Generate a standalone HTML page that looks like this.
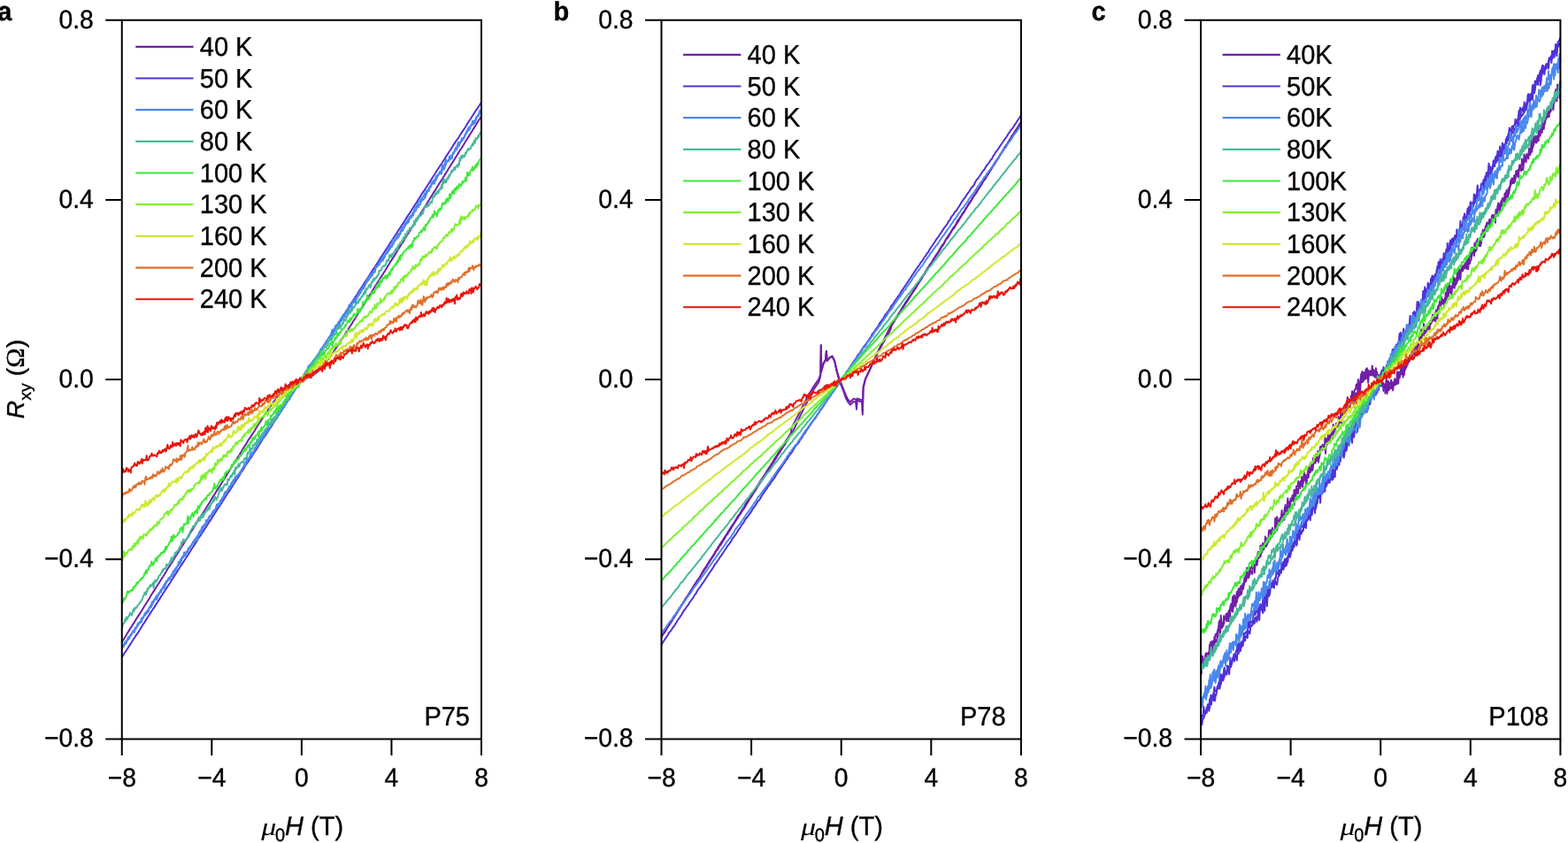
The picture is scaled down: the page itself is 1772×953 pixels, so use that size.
<!DOCTYPE html>
<html><head><meta charset="utf-8"><style>
html,body{margin:0;padding:0;background:#fff;}
svg{display:block;}
text{font-family:"Liberation Sans",Arial,sans-serif;fill:#000;stroke:#000;stroke-width:0.35px;text-rendering:geometricPrecision;}
</style></head><body>
<svg width="1772" height="953" viewBox="0 0 1772 953">
<rect width="1772" height="953" fill="#fff"/>
<g fill="none" stroke-width="2" stroke-linejoin="round">
<path stroke="#7020a8" d="M137.8 725.8l 2-3.1 2-3.3 2-3.3 2-3.2 2-3.2 2-3.1 2-3 2-3.5 2.1-3.2 2-3 2-3.2 2-3.3 2-3.3 2-3.1 2-3.1 2-3.5 2-3.1 2.1-3.4 2-3.1 2-3.3 2-2.9 2-3.4 2-3 2-3.2 2-3.2 2-3.6 2.1-2.9 2-3.1 2-3.2 2-3.5 2-3 2-3.3 2-3.2 2-3 2-3.4 2.1-3.1 2-3.1 2-3.4 2-3.2 2-3.1 2-3.3 2-3.4 2-3 2-3 2.1-3.6 2-2.9 2-3.3 2-3.3 2-2.9 2-3.4 2-3.5 2-3 2-3.2 2.1-3.3 2-3.1 2-3.3 2-3.1 2-3.1 2-3.5 2-3.1 2-3.4 2-3.1 2.1-3.4 2-3.1 2-3.2 2-3 2-3.2 2-3.6 2-3.1 2-3 2-3.6 2.1-2.9 2-3.2 2-2.9 2-3.3 2-3.3 2-3.1 2-3.1 2-2.9 2-3.3 2.1-3 2-2.9 2-3.1 2-2.9 2-2.9 2-2.6 2-2.8 2-2.3 2-2.5 2.1-2.4 2-2 2-2.1 2-1.6 2-1.7 2-1.3 2-1.4 2-.7 2-1.1 2.1-.6 2-.3 2-.5 2-.3 2-.3 2-1.1 2-.7 2-.8 2-1.1 2.1-1.4 2-1.6 2-1.6 2-2 2-2.4 2-2.1 2-2.4 2-2.7 2-2.5 2.1-2.9 2-2.6 2-3 2-3 2-3.1 2-2.9 2-3.4 2-3 2-2.9 2.1-3.5 2-2.7 2-3.5 2-2.8 2-3.5 2-2.9 2-3.3 2-3.4 2-2.8 2.1-3.2 2-3.5 2-3.2 2-3.2 2-3.4 2-2.9 2-3.4 2-3.2 2-3.3 2.1-3.2 2-3.3 2-2.8 2-3.5 2-3 2-3.4 2-3.3 2-3.2 2-3.2 2.1-3.2 2-3.2 2-3.3 2-3.4 2-3.1 2-2.8 2-3.6 2-3.3 2-3 2.1-3.1 2-3.7 2-3 2-3.3 2-3.4 2-2.8 2-3.4 2-3.2 2-3.3 2.1-3.1 2-3.4 2-3.2 2-3.3 2-3.3 2-2.8 2-3.5 2-3.1 2-3.3 2.1-3.3 2-3.2 2-3.1 2-3.4 2-3.2 2-3.2 2-3 2-3.3 2-3.3 2.1-3.4 2-3.3 2-2.9 2-3.2 2-3.4 2-3.2 2-3.2 2-3.2 2-3.2 2.1-3.4 2-3 2-3.6 2-2.9 2-3.3"/>
<path stroke="#5030d8" d="M137.8 743.0l 2-3.3 2-2.9 2-3 2-3.2 2-3.1 2-3.2 2-3 2-3.1 2.1-2.9 2-3.1 2-3.4 2-3.2 2-3 2-3.2 2-3.1 2-3.1 2-3.2 2.1-2.9 2-3.2 2-3.1 2-3.2 2-3.2 2-3.1 2-3 2-3.2 2-3 2.1-3.1 2-3.4 2-2.9 2-3.3 2-3 2-3.1 2-3.4 2-2.8 2-3.1 2.1-3.2 2-3.2 2-3.1 2-3.2 2-3 2-3.2 2-3 2-3.3 2-2.9 2.1-3.1 2-3.2 2-3.1 2-3 2-3.4 2-2.8 2-3.2 2-3.1 2-3.1 2.1-3.3 2-3 2-3 2-3.1 2-3.2 2-3.3 2-2.8 2-3.1 2-3.1 2.1-3.2 2-3.4 2-2.7 2-3.3 2-3.4 2-2.7 2-3.4 2-3.1 2-2.9 2.1-2.9 2-3.3 2-3 2-2.9 2-3.1 2-3.3 2-3.2 2-3.2 2-3 2.1-2.9 2-3.1 2-3.2 2-2.9 2-3.4 2-3 2-3 2-3.1 2-3 2.1-3.2 2-3.2 2-3 2-3.2 2-3.2 2-2.8 2-3.2 2-3 2-3.4 2.1-2.9 2-3.1 2-3.1 2-3.3 2-2.8 2-2.9 2-3.2 2-3.2 2-3 2.1-3 2-3.6 2-2.7 2-3 2-3.1 2-2.9 2-3.2 2-3.2 2-3.1 2.1-3 2-3.3 2-3.1 2-2.9 2-3 2-3.4 2-3.1 2-3 2-3 2.1-3.3 2-2.9 2-3.4 2-3 2-3.1 2-2.9 2-3.1 2-3.5 2-3 2.1-2.9 2-3.3 2-3.2 2-2.8 2-3.2 2-3.1 2-3.3 2-2.8 2-3.3 2.1-2.9 2-3.5 2-3.1 2-2.9 2-3.3 2-2.9 2-3.2 2-3.2 2-3 2.1-3.2 2-2.9 2-3.4 2-3 2-2.9 2-3 2-3.1 2-3.4 2-3.1 2.1-2.9 2-3.4 2-3.2 2-3 2-3 2-3.3 2-3.3 2-3.1 2-2.8 2.1-3.3 2-3 2-3.1 2-3.1 2-3.2 2-3 2-3.3 2-3 2-3.2 2.1-2.8 2-3.3 2-3.2 2-3.1 2-3.1 2-2.9 2-3.5 2-3 2-3 2.1-2.7 2-3.4 2-3.2 2-3 2-2.9 2-3.5 2-3.1 2-2.9 2-3.2 2.1-3.1 2-3.3 2-2.7 2-3.2 2-3.3"/>
<path stroke="#4a88ee" d="M137.8 734.2l 1-3.2 1 0 1-3.8 1 1 1-2.7 1-1.5 1-.9 1-.9 1-3.3 1 0 1-2.4 1-2.4 1-.4 1 1.1 1-4.3 1 .3 1-3.6 1 .2 1-2 1-1.1 1-.8 1-.2 1-3 1-1.6 1-2.7 1 .1 1-2.2 1-.2 1-2.3 1 .5 1-5.4 1 .2 1.1-.3 1-2.8 1-2 1-1.3 1-2.9 1-.1 1 .7 1-2.9 1-3.7 1-1.2 1-.8 1 .2 1-3.2 1-1.2 1 .2 1-1.5 1-2.8 1-2.3 1-1.9 1-.6 1-3.1 1 1.6 1-2.8 1-.2 1 0 1-2.2 1-4 1 .3 1-1.4 1-3.6 1-1.6 1-.6 1.1-3.1 1 1.5 1-5.8 1-.5 1-.7 1-1.5 1-1 1-1.3 1-1.9 1 0 1-5 1 .7 1-2.4 1-.8 1-1.5 1-2.6 1 .6 1-1.7 1-1.9 1-2.5 1 3.4 1-3.1 1-5.4 1 .3 1 .7 1-3.4 1-2.2 1-1.8 1-1.7 1-1 1-1.8 1-2.5 1-.6 1.1-1.8 1-2.4 1-.3 1-2.4 1-.8 1-.3 1-2.4 1-1.6 1-1.8 1-1.9 1-1.6 1 .4 1-2 1-3.2 1 1.1 1-3 1-2.6 1-1.4 1-1.9 1-.6 1-2.4 1 .7 1-3.3 1-2.8 1 2.1 1-4.6 1 .5 1-.4 1-2 1-3.7 1-1.2 1 .8 1.1-3.2 1-1.9 1-.3 1 .1 1-2.6 1-2.8 1-1.5 1-1.4 1-3 1-2.1 1-.3 1-4.7 1 1.6 1-1.3 1 .8 1-4.7 1-.6 1 .8 1-2.9 1-.7 1-3.1 1-1.9 1-2.4 1-.6 1 0 1-2 1-2.5 1-.7 1 .7 1-2.8 1-2.7 1-1.3 1-5.6 1.1 1.3 1 1.2 1-5.5 1 .5 1-.6 1-2 1-1.8 1-.6 1-1.4 1-1.5 1-3.4 1 .2 1-2.4 1-1.4 1-.8 1-1.2 1-1.2 1-2.9 1 0 1-1.2 1-1.6 1-1.3 1-3.2 1-1.5 1-.4 1-3.8 1 .2 1-2.4 1-1.6 1-3.1 1-.6 1-.6 1.1-.5 1-1.4 1-2.8 1-1.8 1-2.3 1-.3 1-1.9 1-.4 1-.1 1-3.4 1-3.1 1-.9 1-2.1 1-1.3 1 1.1 1-2.7 1-3.4 1-1.6 1-1 1-.9 1-2 1-1.3 1-1 1-1.1 1-.9 1-1.4 1-1.4 1 1.2 1-4.5 1-3.6 1 .1 1-1 1.1-2.2 1 1.7 1-4.9 1-2.2 1 .8 1-2.6 1-2.2 1-1 1-1.5 1-2.4 1-4.3 1 .6 1-1.1 1-1.8 1-2.6 1 3.9 1-5.3 1-2.3 1 1.6 1-4.1 1-2.3 1 .1 1-2.9 1-.9 1 .2 1-2.6 1-1.7 1-.3 1-1 1-5.4 1 1.3 1-2.1 1 1.6 1.1-5 1 .9 1-2.8 1 .6 1-2.5 1-1.3 1-3.1 1-.6 1-2.6 1-1.6 1-.6 1-1.5 1-.5 1-2.3 1-.5 1-2.7 1-3.2 1-.9 1-1.5 1-1.9 1 1.5 1-4 1 .8 1-2.2 1-.3 1-2.2 1-4.6 1 .5 1-1.2 1-1.3 1-2.2 1-1 1.1 .2 1-4.8 1 .7 1-2.6 1-.5 1-1.1 1-2.8 1-.9 1-4 1 1.2 1-3.3 1-.3 1-.2 1-6.3 1 .5 1-.4 1 0 1-2.8 1 .9 1-5.6 1 1.5 1-.9 1-3.2 1-1.6 1-3 1 .9 1 .4 1-6 1 1.6 1-2.1 1-3 1 1 1.1-4.2 1-.5 1-1.2 1-1 1-2.2 1-1.7 1-2.9 1-2.2 1-.2 1-2.4 1-1.9 1-1.1 1-.3 1-2.6 1-.9 1-1.9 1 .1 1-3.7 1 2.1 1-5.3 1 1.5 1-2.1 1-2.5 1-1.5 1 .8 1-3.5 1-2.3 1-1.6 1 .1 1-1.6 1-3.2 1-1.1 1 .3 1.1-1.4 1-2.7 1-.3 1-1.7 1-5.8 1 4 1-4.7 1-.7 1-5.2 1 2.8 1-.4 1-.5 1-5.3 1 3.6 1-3.8 1-1 1-1.3 1-1.8 1-2.5 1-2.9 1 .3 1-2.9 1-3.4 1 4 1-3.9 1-.6 1-4.4 1 1 1-1.1 1-1.2 1-2.8 1-2.6 1.1-.5 1-3.8 1-1.1 1 .3 1-2.5 1-.5 1-1.2 1 .7 1-2.1 1-2.9 1-.2 1-3.6 1-1 1-.2 1-5.9 1 3.5 1-4.5"/>
<path stroke="#4a88ee" d="M137.8 730.9l 1-1.7 1-.1 1-2.4 1-1.7 1 1.7 1-2.7 1-3.8 1 2.1 1-3.3 1-1.7 1-.3 1-2.3 1-2 1 1.6 1-4.7 1-.5 1-.6 1-3.6 1-.7 1-1.1 1 .6 1-4.7 1-.5 1-.6 1-2 1-2.8 1 .1 1-2 1-1.2 1-.8 1-1.7 1-2.3 1.1-1.7 1-3.1 1-.6 1-1.1 1-2 1-1 1-2.5 1 .9 1-.8 1-1.6 1-3 1-2.1 1 0 1-2.5 1-1.9 1-1.9 1-1 1-2.5 1 .5 1-2.8 1 0 1-1.8 1-.5 1-2.7 1-.5 1-3.6 1 0 1-2.3 1-1 1-1.6 1-.6 1-4.7 1.1 .8 1-3.5 1 1.3 1-4.7 1 1.2 1-5.7 1 3.9 1-4.5 1 .1 1-2 1-.5 1-2.1 1-.6 1-2.6 1-.5 1-3 1-1.2 1-1.9 1-.7 1 .2 1-3.1 1-1.6 1-2.4 1-1.9 1 .5 1-4.4 1-1.4 1-.5 1-1.6 1 1.1 1-6.1 1 2.9 1-3.1 1.1-3.5 1-1 1-.1 1 0 1-3.9 1-2 1 1.1 1-1 1-3.6 1-3.5 1 2.4 1-3.1 1 1.7 1-4.3 1-1.8 1-1.7 1 .3 1-3.4 1-3.7 1-.3 1 1.4 1-3.7 1-.9 1-1.8 1-1.8 1-1.8 1-2.2 1-1.6 1-1.7 1-.6 1-2.5 1-.5 1.1-.9 1 .2 1-2.3 1-2 1-.9 1-1.8 1-.9 1-2.2 1-.1 1-1.8 1-.8 1-4.1 1-.3 1-2.1 1-2.4 1-3.1 1-1.8 1 .8 1-.9 1-1.3 1-3.8 1 .9 1-3.3 1 .9 1-3 1-2.7 1-1.3 1-3 1 1.9 1-4.4 1 .9 1-1.9 1-.6 1.1-2.1 1-2.5 1-.4 1-2.3 1 1.6 1-4.1 1-3 1-.6 1-1.5 1-2 1-.2 1-.5 1-3.4 1-1.2 1-3.3 1 .8 1-1.9 1-3.4 1 1 1-1.1 1-2.7 1-1 1-1.9 1 .4 1-4 1-.3 1 .9 1-3.5 1-.9 1-2.2 1-2.6 1-.5 1.1-1.1 1-2.9 1 0 1-.4 1-1.5 1-2.6 1-4.4 1-.5 1 1.2 1-2 1-1.6 1-3.3 1-2 1-.5 1-1.6 1-4.7 1 1.8 1-.9 1 .1 1-4.8 1-.2 1-1.6 1-.7 1-1.7 1-1.7 1-2 1-.2 1-2.5 1-1.4 1-2.5 1-1.1 1-.6 1.1-2.9 1-1.9 1-.6 1 0 1-2.6 1-1.7 1 .9 1-3.7 1-2.4 1-.4 1 .6 1-2.7 1-1.2 1-1.7 1-2.4 1-1.9 1-1.2 1-.9 1-1.6 1-1.2 1-1.8 1-.6 1-2.6 1-1.9 1 .7 1-4.7 1 .4 1 1 1-4.6 1-2.4 1-.3 1-.1 1-3 1.1-2.3 1-.4 1-1.9 1 2.5 1-4.4 1-1.9 1-1.5 1-.8 1-1.9 1-1.3 1-2.2 1-2.9 1 .8 1-2.2 1-1.4 1-2.9 1-.8 1-1.7 1-.9 1-3 1 .1 1-1.3 1-.8 1-2.7 1-1.6 1 .5 1-5 1-.7 1-1.5 1-.6 1-.5 1-3.3 1.1-2.9 1-.2 1 1.6 1-2.5 1-1.3 1-4.1 1-1.2 1 .8 1-2.5 1-1.4 1-.7 1-3 1 .5 1-2.5 1-1.3 1-2.9 1-.4 1-2.7 1 .4 1-1.2 1-1.5 1-1.8 1-1.3 1-4.9 1 2.1 1-2.7 1-3.2 1 .5 1-2.5 1-.6 1-2.7 1 1.3 1.1-4 1-2.1 1 .8 1-3.9 1 1.7 1-3.4 1-2.4 1 .4 1-2.7 1-3.1 1 1.6 1-3.3 1 .5 1-3.3 1-2.6 1 .6 1-1.3 1-.6 1-2.2 1-2.8 1-2.5 1-1.8 1 .9 1-4.4 1-1 1-3.9 1 1.3 1-1.5 1 1.3 1-3.3 1-1 1-2.2 1-3.4 1.1-.8 1-2.7 1 2.1 1 .1 1-5.6 1-.4 1 1.2 1-3.7 1-1.7 1-4.4 1 .2 1-.8 1-.6 1-3.2 1-1.8 1 3.3 1-6.1 1 .4 1-2.5 1-.9 1-.6 1-2.7 1-1.4 1-3.3 1-1.4 1-.3 1-.7 1-1.8 1-.6 1-3.6 1-1.6 1-.6 1.1-4.1 1 .3 1-.1 1-1.8 1-3.8 1 .1 1-5.2 1 3.1 1-3.6 1 2.4 1-5.8 1-.4 1-2.1 1-1.4 1-2.3 1-.3 1-3.5"/>
<path stroke="#48b89a" d="M137.8 711.3l .7-4.2 .7-2 .7-.7 .7-.1 .7-4 .7 1.6 .8-4.2 .7 2.7 .7-2.2 .7-.3 .7-2 .7-.5 .8-2.6 .7 1.6 .7 .9 .7 .1 .7-3.6 .7-2.8 .8 2.1 .7-3.8 .7 1.1 .7-1.8 .7 .3 .7-.6 .8-2.1 .7-.5 .7-.5 .7-1.5 .7-1.3 .7 .1 .8-2.3 .7-.6 .7-2.1 .7-2.3 .7-.1 .7-3.4 .8 2 .7 .5 .7-4.7 .7 1.3 .7-4 .7 .6 .8-.3 .7-3.3 .7-.4 .7 1.5 .7-1.1 .7-1.2 .8-1.8 .7 5.9 .7-6.8 .7-1.8 .7 2.4 .7-2.4 .8 .7 .7-2 .7-.6 .7-2.3 .7-1.5 .7-.1 .8-.9 .7-2 .7-.1 .7-3.1 .7 1.4 .7-2.6 .8-.3 .7 0 .7 .3 .7-4.8 .7-.1 .7 1.4 .8-1.2 .7-.3 .7-.8 .7-2.9 .7 1.9 .7-5.6 .8 1.6 .7 1.1 .7-4.1 .7 .6 .7-2.1 .7-3.1 .8 1.8 .7-2 .7-.9 .7-1.3 .7 .6 .7-2.1 .8-2.6 .7 .6 .7-.8 .7-5.2 .7 1.6 .7-1.1 .7-3.5 .8 2.3 .7-.1 .7-1.9 .7 .2 .7-1.1 .7-.8 .8-.8 .7-3.3 .7 2.3 .7-3.9 .7-1.8 .7-1.6 .8-1.3 .7-.7 .7-2.3 .7 1.3 .7-1.6 .7-.7 .8-2.6 .7 1.5 .7-2.7 .7-.3 .7-2.9 .7-1.6 .8-.4 .7 3.9 .7-5.2 .7 2.3 .7-1.3 .7-4.3 .8 4.6 .7-2.8 .7-.2 .7-2.1 .7-.5 .7-2.8 .8 .6 .7 .3 .7-4.4 .7-.9 .7 3.7 .7-2.8 .8-2.2 .7-1.9 .7 0 .7-1.5 .7-3.3 .7 3.2 .8-3.9 .7-2 .7 2.5 .7 1.3 .7-2.5 .7-.3 .8-3 .7-2 .7-2.8 .7 .7 .7-3.8 .7 1.6 .8 1.7 .7-2.4 .7-2.5 .7 0 .7-2.2 .7 .3 .8-.9 .7 1.1 .7 0 .7-6.8 .7 1.7 .7-.7 .8-1.2 .7-2.2 .7-1.8 .7 1.8 .7-1.1 .7-3.2 .8 .3 .7-3.2 .7 4.9 .7-8.4 .7 2.3 .7-1.2 .8-1.3 .7-1.7 .7-2 .7 3.4 .7-3 .7-.9 .8-.9 .7-1.1 .7 .2 .7 .9 .7-1.2 .7-3.4 .7 .8 .8-1.6 .7-.3 .7 0 .7-5.4 .7 1.4 .7-1.6 .8-1 .7-3.3 .7 2.4 .7-3 .7-.2 .7 1.2 .8-5 .7 .7 .7 .1 .7-2.6 .7-.2 .7 1.7 .8-5.8 .7 3.4 .7 .1 .7-3.2 .7-3.1 .7-.2 .8-1 .7-.4 .7-1.7 .7-1.4 .7 2.2 .7-3.2 .8-1.5 .7-.9 .7-1 .7 1 .7-2.3 .7-.2 .8-6.6 .7 3.4 .7 .1 .7 .2 .7-3.4 .7-3.1 .8 4.3 .7-4.7 .7-.4 .7-1.7 .7 3.9 .7-3.5 .8-1.7 .7-3.2 .7 6 .7-8 .7-1.9 .7-.3 .8 4.8 .7-6.4 .7 1.4 .7-4.4 .7 .8 .7-.9 .8-4 .7 2.6 .7-1.2 .7-2.7 .7-.4 .7-.5 .8 .8 .7-2.4 .7 .4 .7-3.6 .7-2.4 .7-2.7 .8 2.5 .7-1.5 .7-.5 .7 0 .7-1.3 .7-1 .8-.4 .7-1.6 .7-1.3 .7-.4 .7-4 .7 2.7 .8-4.4 .7 1.7 .7-2.1 .7 .5 .7-2.3 .7-2.3 .7 1.7 .8-2.2 .7-1 .7-1.1 .7 .2 .7-1.2 .7-1.7 .8-3.2 .7 .5 .7-.3 .7-1.3 .7-.1 .7-1.6 .8 .9 .7-2.6 .7-3.4 .7 1.9 .7-3.3 .7 2.1 .8-1.8 .7-4.4 .7 .1 .7 .7 .7 .5 .7-3.7 .8-1.5 .7 1 .7-3.4 .7-1.7 .7 1.4 .7-1.1 .8-.3 .7-1.3 .7 .2 .7-4.3 .7 1.3 .7-.7 .8 .6 .7-.6 .7-.9 .7-1.3 .7-6.2 .7 2 .8-.2 .7-.4 .7-3.4 .7 3 .7-2.3 .7-2.1 .8 0 .7-1.6 .7 .4 .7-1.5 .7 .2 .7-5.1 .8-2.6 .7 2.1 .7-2.3 .7 2.2 .7-4 .7 2.7 .8-1.9 .7-1.3 .7-1.6 .7 .4 .7-2.8 .7-2.3 .8 .7 .7 1.3 .7-5.6 .7 1.6 .7-1.8 .7-1.3 .8-1.4 .7-3.7 .7 3.5 .7-1.6 .7-3.1 .7 2.3 .8-4.7 .7 1.5 .7-1.6 .7 .2 .7-2.2 .7-.1 .8-2.3 .7 .4 .7-1.7 .7 1.6 .7-4.5 .7 1.7 .8-1.8 .7-1.1 .7-1.9 .7 .3 .7-1 .7-3.2 .7 1.6 .8-3.9 .7 2.8 .7-5.5 .7 1.7 .7-1.5 .7-.8 .8-2.1 .7-1.2 .7-.6 .7 3.3 .7-3.4 .7-3.4 .8 .9 .7-1.5 .7-2.8 .7 2.1 .7-.6 .7-2.6 .8 .5 .7-.4 .7-2.5 .7 .2 .7-1.9 .7-3.7 .8 .6 .7-1 .7 .1 .7-2.7 .7-.5 .7-1.6 .8 .2 .7-.7 .7 .3 .7-1.3 .7-1.9 .7-3.1 .8 .8 .7-1.2 .7 .8 .7-6.3 .7-.3 .7 2.3 .8 .3 .7-3.7 .7 1 .7-.3 .7-2.6 .7-.5 .8-1.4 .7-2 .7 1.5 .7-2.9 .7 2.5 .7-5.1 .8-.3 .7-.7 .7-2 .7 .7 .7 .1 .7-3.4 .8 .3 .7-3.7 .7 .6 .7 1.6 .7-5.8 .7 2.4 .8-1 .7-2.9 .7-2.2 .7-.3 .7 1.6 .7-4.6 .8 1.2 .7 .2 .7-1.9 .7-.9 .7-1.7 .7 .9 .8-5.4 .7 4.2 .7-3.6 .7-3.5 .7 2.9 .7-1.2 .8-4.2 .7 1.9 .7-3.2 .7-.3 .7 1 .7-.2 .7-2.4 .8-2 .7 2.1 .7-3.7 .7-2.3 .7-1 .7-2.8 .8 2.4 .7-1.1 .7 .4 .7-2 .7 1.3 .7-.9 .8-3.2 .7-.3 .7-.3 .7 1.2 .7-4.8 .7-2.5 .8 .4 .7 .5 .7-4.6 .7 1.7 .7 .1 .7-2.4 .8-1.8 .7 2.6 .7-1.7 .7-3.3 .7 1 .7-1.2 .8-4.1 .7 3.9 .7-8.4 .7 2.9 .7-5 .7 3.7 .8-2.8 .7 3.1 .7-2 .7-2.1 .7-1.7 .7 1.3 .8-4.2 .7 1.4 .7-2.6 .7-.3 .7-3.6 .7 1.7 .8-.9 .7-1.6 .7-2.7 .7 2.8 .7-1.5 .7-2.4 .8-.5 .7-1.1 .7 2.4 .7-3.8 .7 1.2 .7-7.5 .8 2.7 .7-4.6 .7-1 .7 2.7 .7-2.9 .7 .1 .8 1.6 .7-1.4 .7-3.4 .7 1 .7-2.1 .7-1.9 .8-1.6 .7 1.6 .7-1.2 .7-.5 .7 .3 .7-3.1 .8-1 .7-1.6 .7 2.1 .7-4.2 .7-1.5 .7 2.8 .8-5.8 .7 1.9 .7-.7 .7-1.4 .7-2.5 .7 1.8 .8-3.3 .7-1.9 .7 .2 .7-1.5"/>
<path stroke="#3ee83a" d="M137.8 678.7l .7 3.2 .7-3.1 .7-2.2 .7 1.8 .7-2.2 .7-.7 .8-1.1 .7-3.9 .7-2.3 .7 2.4 .7-.8 .7-1.4 .8 .4 .7-1.1 .7-.7 .7 .1 .7 .7 .7-4 .8 1 .7-2 .7-.9 .7 .6 .7-2.9 .7-1.2 .8 1.4 .7-1.7 .7-1.1 .7-.7 .7-.1 .7-2.1 .8 .5 .7-1.5 .7 .3 .7-1.4 .7-1.6 .7-2.5 .8-.7 .7-2.1 .7 3.5 .7-4.9 .7 .2 .7 .3 .8-4.2 .7 .1 .7 0 .7-1.6 .7-3.7 .7 2.8 .8 1.4 .7-1.7 .7-1.9 .7-.9 .7-3.2 .7 2.2 .8 1 .7-5 .7 .8 .7-1.3 .7-1.2 .7 .6 .8-2.5 .7-1.2 .7 1 .7-.9 .7-.9 .7 .8 .8-3.2 .7 2.4 .7-5.9 .7 3.1 .7-2 .7-1.3 .8-1.7 .7-.5 .7-2.3 .7-1.3 .7 .6 .7-5.8 .8 4.9 .7-.5 .7-6.8 .7 1.7 .7 1.7 .7-.7 .8-.9 .7-.3 .7-.5 .7-.7 .7-1.7 .7-1.3 .8 .1 .7-4.3 .7 .9 .7-2.4 .7 2.3 .7 3.4 .7-6.2 .8-3.1 .7 .8 .7-.5 .7-.6 .7 .3 .7-3 .8-6 .7 8.4 .7-5.4 .7-1.2 .7 1.4 .7-3.3 .8-.2 .7-3.2 .7 1.1 .7 3.1 .7-2.6 .7-2.8 .8-1 .7 2 .7-3.6 .7 4 .7-7.9 .7 1.7 .8 1.1 .7-3.1 .7-2 .7 .8 .7-2.3 .7-1.6 .8 .4 .7-1.1 .7-1.3 .7-.9 .7-.9 .7 1.7 .8-3.1 .7-1.6 .7-.4 .7 .5 .7-1.9 .7-.7 .8-.9 .7-.3 .7-.4 .7-.7 .7-3.4 .7 0 .8-5 .7 5.8 .7-.5 .7-.7 .7-2.5 .7 .3 .8-2.6 .7-1.1 .7-.9 .7-1.9 .7-.7 .7 1.1 .8 0 .7-3.6 .7 3.1 .7-1.3 .7-4.7 .7-2 .8 .4 .7-1.8 .7 .6 .7-.8 .7-1 .7-1 .8-.1 .7-.8 .7-.5 .7-4.2 .7 1.3 .7-.5 .8-2.5 .7-2 .7 2.1 .7-2.6 .7 1.1 .7-3 .8 .4 .7-.8 .7 .4 .7-1.7 .7-2.6 .7 .5 .8-.4 .7-1.3 .7-1 .7-3.2 .7 1 .7-1.9 .7-1.5 .8 2.5 .7-3.2 .7 .3 .7-3.1 .7 1.2 .7-2.3 .8 4 .7-6.2 .7-1 .7 1.4 .7-.7 .7-5 .8 2.2 .7 0 .7-3.5 .7 1.7 .7-2.3 .7-1.5 .8-.1 .7-1.1 .7-2.2 .7 6.4 .7-7.1 .7-1.2 .8 1.2 .7-4.6 .7 3.5 .7-2.9 .7-.1 .7-1.3 .8-.9 .7-1.5 .7-3.6 .7 4.2 .7-4 .7-.8 .8-.7 .7 .2 .7-1.1 .7-.4 .7-3.9 .7 1 .8-1.4 .7-1 .7-.1 .7-3.5 .7 2.2 .7-.9 .8-2.9 .7-1.7 .7 3.7 .7-3.5 .7-2.3 .7 3.6 .8-4.1 .7-.8 .7 0 .7 1.5 .7-1.4 .7-2.8 .8 1.2 .7-2.6 .7-1.9 .7 .3 .7-2.8 .7-3.8 .8 4.5 .7-4.9 .7 .2 .7-1.5 .7 1.2 .7 1.2 .8-3 .7-3 .7 1.9 .7-.7 .7-1.9 .7 .3 .8 .5 .7-5.1 .7 2.5 .7-2.6 .7 1.1 .7-.5 .8 1.4 .7-2.8 .7-1.5 .7-1.3 .7-2.1 .7 1.9 .7-3 .8 1.8 .7-1.5 .7-2.2 .7 .3 .7-4.7 .7 1 .8-2 .7-.7 .7-3.1 .7 2.7 .7-1.9 .7-2.3 .8-1.3 .7-.2 .7 2.2 .7-2.8 .7-1.1 .7 .2 .8-3.5 .7 1.2 .7-.3 .7-1.6 .7-.2 .7-3.5 .8 .8 .7-1.4 .7-.2 .7-1 .7-1.6 .7-2.8 .8 3.1 .7-2.7 .7-1.7 .7 3.9 .7-2.7 .7-2.4 .8-.3 .7-2.2 .7-.1 .7 .7 .7-1.3 .7-1.8 .8-1.5 .7-2.6 .7 1.6 .7-2.9 .7 5.2 .7-2.6 .8-3 .7-.2 .7-3.7 .7 1.9 .7-1.4 .7-.4 .8-4.6 .7 1.7 .7 .5 .7-3.6 .7 .9 .7-.3 .8-3.3 .7-1.4 .7 1.2 .7-1.3 .7-.3 .7-.8 .8-2.7 .7 .5 .7-2.5 .7-.5 .7-1 .7-2.1 .8 1.6 .7 .7 .7-4.9 .7 2.2 .7-.4 .7-2.5 .8-.4 .7-1.7 .7-2.3 .7 2 .7-.2 .7 1.3 .8-2.7 .7-1.5 .7-4.2 .7 4.5 .7-1 .7-3.2 .8 2.2 .7-2.7 .7-1.6 .7 1.1 .7-6.8 .7-.1 .7 1.8 .8-2.2 .7-1.8 .7 2.2 .7-2.1 .7-5.7 .7 2.7 .8 1.2 .7 .5 .7-2.5 .7-.7 .7-1.5 .7-2.5 .8 1.1 .7-2.8 .7 2.3 .7-.4 .7-2.5 .7-.9 .8-1.3 .7-4 .7 2.5 .7-3.7 .7 .1 .7 3.3 .8-8 .7 1.7 .7 1.2 .7-.6 .7-3.6 .7-1.1 .8 .9 .7-1.2 .7-2 .7 1 .7 2.1 .7-4 .8 3.1 .7-2.7 .7-1.4 .7-2.5 .7 3.4 .7-3.5 .8-3.4 .7 .3 .7 .7 .7-3.6 .7 .2 .7-.8 .8-1.2 .7-1.5 .7 .8 .7-4 .7 2 .7-2.1 .8-3 .7-2.1 .7 4.1 .7-5.4 .7-.1 .7 .8 .8-2.7 .7-.9 .7-1.2 .7-.9 .7-.1 .7-.2 .8-2 .7 0 .7-.3 .7-1.9 .7-.7 .7 2.9 .8-4.3 .7 1.7 .7-2.4 .7 3.2 .7-6.4 .7 .3 .8-4.2 .7 1.3 .7-.1 .7-2 .7 .1 .7-1.1 .8 .6 .7-2 .7-2.7 .7 .2 .7-.7 .7-2 .7 1.8 .8-2.1 .7-.3 .7-2.8 .7 2.5 .7 .6 .7-6.3 .8 1.3 .7-1.2 .7-1.7 .7-.1 .7-2.5 .7 .7 .8-2.9 .7-1 .7-.4 .7-.7 .7-2.8 .7 3.1 .8-3.1 .7-4.3 .7 3.6 .7 .5 .7-1.5 .7 3.6 .8-5.6 .7 .2 .7-2.9 .7 .7 .7 .8 .7-2.3 .8 .7 .7-6 .7 1 .7-2.2 .7 1.6 .7-1 .8 1.1 .7-4.9 .7 3 .7-4.6 .7 1 .7 2.4 .8-4 .7-4.1 .7 4.7 .7-2.2 .7-3.2 .7-2.2 .8 2.1 .7-3.8 .7 4.3 .7-6.1 .7 1.4 .7 .5 .8-3.8 .7-.4 .7 2.8 .7-3.1 .7-2.7 .7 .8 .8 2.1 .7-1.2 .7-1.7 .7-2.8 .7 1.4 .7 .2 .8-2.2 .7 .2 .7-3.9 .7 4.2 .7-3.7 .7-6.5 .8 3.9 .7-2.7 .7 2.7 .7-3.5 .7-2 .7-.8 .8-.9 .7-2.8 .7 4.5 .7-3.1 .7 1.1 .7-2.8 .8-1.7 .7 2.9 .7-4.7 .7 1.8 .7-3.1 .7-.6 .8-2.4 .7-.5 .7-.4 .7-1.2"/>
<path stroke="#80f030" d="M137.8 631.8l .7 1.1 .7-5.8 .7-3.9 .7 6.1 .7-1.1 .7-3.5 .8 1.6 .7-1.4 .7-.5 .7-2.1 .7-.2 .7-1.3 .8 .5 .7-1 .7 1.9 .7-1.9 .7-3.4 .7 1.8 .8 .5 .7-5.2 .7 3 .7-2.4 .7 0 .7-2.9 .8 3.3 .7-5.5 .7 2.6 .7-4.3 .7-1.5 .7 2.6 .8-1.6 .7-.4 .7 2.3 .7-3.7 .7-1.6 .7 .9 .8-.2 .7-.2 .7 1.4 .7-3.9 .7 .4 .7-.1 .8-2 .7-1.8 .7 .1 .7 1.3 .7-2.3 .7 .4 .8-2.2 .7 .9 .7-2.1 .7-.9 .7 .5 .7-.8 .8 1 .7-4.6 .7 1.9 .7 .6 .7-1.1 .7-2.9 .8-1.2 .7-.6 .7 .2 .7-.9 .7-.6 .7-.5 .8-2.9 .7-.9 .7-.9 .7-.8 .7 1 .7-2.4 .8 4.7 .7-2.9 .7-1.2 .7 1.2 .7-3.4 .7 .6 .8 0 .7-1 .7-1.3 .7-1.6 .7-1.9 .7 .7 .8-1.3 .7 1 .7-1.9 .7 .3 .7-3.5 .7 2.5 .8-3 .7-1.5 .7-.5 .7 .2 .7 1.5 .7-1.2 .7-3.1 .8 .9 .7-1 .7-2.6 .7 0 .7-2.1 .7 .7 .8-3.1 .7 1.5 .7-1 .7 2.1 .7-3.3 .7 1.9 .8-2.4 .7 .2 .7 .1 .7-.6 .7-3.8 .7 .3 .8-1.5 .7-.6 .7-.4 .7-.1 .7-.8 .7 .7 .8-2.2 .7 1.6 .7-1.8 .7-5.2 .7 3.3 .7-5.5 .8 4.6 .7-2 .7-.7 .7-3.4 .7 6.5 .7-6.3 .8-.7 .7 .8 .7-2.3 .7-1.3 .7 1.5 .7-2.5 .8 2 .7-1.1 .7 3.2 .7-5.7 .7 2.4 .7-2 .8 1.2 .7-7.1 .7 2.6 .7-.1 .7-.9 .7-5.3 .8 3.3 .7-.6 .7-2.5 .7-1.1 .7-.1 .7 2.3 .8-2.3 .7-1.6 .7-2.4 .7 1.8 .7-.7 .7-1.7 .8 1.3 .7 .8 .7-3.5 .7-2.6 .7 1.6 .7-1.7 .8-.2 .7 1.3 .7-3.4 .7 2.4 .7-2.1 .7-3 .8-.3 .7 .1 .7-.9 .7-2.4 .7-1.9 .7 2.5 .8-.2 .7-1.2 .7-2.4 .7 .3 .7-.4 .7-.8 .8-.5 .7 1.8 .7-4.8 .7 .2 .7-2.1 .7 1.2 .7-3 .8 0 .7-1.1 .7 .5 .7-.9 .7-2 .7 3 .8-4.6 .7 1.1 .7 1.6 .7-4.4 .7 1.8 .7-.6 .8-2.1 .7-3.4 .7 3.5 .7 .1 .7-4 .7 1.6 .8-3.2 .7 1.5 .7-2.7 .7 .6 .7-2.8 .7 .1 .8-1.5 .7-.6 .7 .3 .7-1.2 .7-.3 .7 .7 .8-2.4 .7-2.7 .7 1.4 .7-.1 .7-1.9 .7 4.3 .8-3.2 .7-2.2 .7 .5 .7-3.3 .7 2.7 .7-1.8 .8-.6 .7-1.8 .7-.1 .7-1.4 .7 .9 .7-2.9 .8 2.3 .7-1.2 .7 1.2 .7-3.4 .7-.9 .7-.6 .8-1.1 .7-1.2 .7 .5 .7-3.6 .7-.3 .7 1.5 .8-3.8 .7-.7 .7 2.4 .7-1.4 .7-1.8 .7 .5 .8-.2 .7-.8 .7-1.9 .7-.4 .7-2.3 .7 1 .8 .9 .7-2.6 .7 2.4 .7-.8 .7-3.1 .7 .6 .8-3.8 .7-.3 .7 .1 .7-.3 .7-.9 .7-1.6 .8 2.9 .7-2.7 .7-.7 .7-.1 .7-1.2 .7-1.2 .7-.9 .8-1.9 .7 3.3 .7-3.7 .7-1.6 .7 .1 .7-1.9 .8 3.6 .7-3 .7 .4 .7-.9 .7-1.8 .7-.6 .8-2.3 .7 .3 .7-1.3 .7 .2 .7-1.6 .7 1.9 .8-1.4 .7-1.7 .7-2.5 .7 2.4 .7-.2 .7-1.9 .8-2.2 .7 1.4 .7 0 .7-4.5 .7 2.3 .7-3.8 .8 1.7 .7 1.4 .7-2.7 .7-.2 .7-1.6 .7-.3 .8 2.1 .7-2.1 .7-2.9 .7-1 .7-.4 .7 1.8 .8-3.3 .7 .4 .7-2.6 .7-1.8 .7 2.5 .7-2.4 .8-1.6 .7 2 .7-3 .7-.5 .7-1.7 .7 2.9 .8-1.6 .7 0 .7-2.3 .7 0 .7-1 .7 3 .8-4.1 .7-1.4 .7-2.1 .7-1.4 .7-.2 .7-.4 .8-.5 .7-1.6 .7 2.9 .7-2.6 .7-3.7 .7 .4 .8-1.1 .7 1.4 .7 .5 .7-3 .7 1.6 .7-1.4 .8 1.4 .7-2.3 .7 .2 .7-.1 .7-1.6 .7-1.3 .8-1.8 .7 1 .7-1.3 .7-1.2 .7-.3 .7-.9 .8-1.8 .7 0 .7 1.4 .7-2.4 .7 1.4 .7-3.9 .7-.8 .8 1.2 .7 .2 .7-2.4 .7 .9 .7-.3 .7-.4 .8-2.2 .7-.5 .7-2.7 .7 1.3 .7-.4 .7 .7 .8-4.1 .7-.3 .7-1.1 .7 1.5 .7-5 .7 .8 .8 3.1 .7-2.6 .7-3.2 .7 .9 .7 .5 .7-1 .8-1.4 .7-4 .7 4.4 .7-1.6 .7 .3 .7-1.2 .8-2 .7 1.4 .7-3.4 .7 .1 .7-2.2 .7-.4 .8-.8 .7-1.2 .7 .5 .7 .8 .7 .1 .7-1 .8-2.6 .7 3.2 .7-3.7 .7 1 .7-4.5 .7 2.7 .8-3.3 .7 1.5 .7-2.7 .7 1.1 .7-2.2 .7-2.6 .8 .4 .7 .1 .7-.5 .7-3.6 .7 .4 .7-.3 .8-2.4 .7 4.8 .7-5.1 .7-1.6 .7 1.7 .7-1.5 .8 .9 .7-2.4 .7 .8 .7-2.8 .7 .6 .7-1 .8-.4 .7-2.6 .7 .2 .7-1.6 .7-2.4 .7 2.9 .8 .3 .7-.1 .7-4.5 .7 1.2 .7 .7 .7-1.6 .8-.1 .7-1.7 .7 1.7 .7-2.2 .7-4.6 .7 1.7 .7-.9 .8-3.4 .7-.9 .7 1.8 .7-1 .7 .5 .7-3.1 .8 2.4 .7-.7 .7-1.4 .7-1.6 .7-.3 .7-1.4 .8 1.3 .7-1.5 .7 1.2 .7-3.5 .7 1.7 .7-3.1 .8-.1 .7-1.7 .7 1.2 .7-1.4 .7 .1 .7 2.7 .8-4.9 .7-.1 .7 0 .7-1.9 .7-1.3 .7 .3 .8-.7 .7-.6 .7-.8 .7-2.9 .7 .5 .7 .1 .8-2.8 .7 .4 .7-1.8 .7 .4 .7 1.3 .7-2.6 .8-2 .7 .9 .7-1 .7 .4 .7-3.8 .7 2.9 .8-2.5 .7 .2 .7 .1 .7-4.5 .7-1.7 .7 .9 .8 .1 .7 .9 .7-1.1 .7-.5 .7-1.3 .7-4.1 .8 5 .7-8.7 .7 3.8 .7-2.7 .7 1.5 .7 .7 .8-2.2 .7 2.6 .7-2 .7 .2 .7-1.1 .7-.3 .8-1.8 .7 1.8 .7-4.4 .7 1.1 .7-1.3 .7-1.1 .8-.1 .7-2 .7 1.3 .7-.6 .7-1.4 .7 .1 .8-2.7 .7-1.5 .7 .9 .7-.2 .7 2.7 .7-4 .8 .8 .7-1 .7 .8 .7-5.2"/>
<path stroke="#d0e830" d="M137.8 592.2l .7-1.9 .7-.4 .7-2.9 .7 3.1 .7-3.1 .7 1.4 .8-2.3 .7-.3 .7-.8 .7-2.6 .7 2.3 .7-3.2 .8 1.5 .7-1.5 .7 .3 .7 1.5 .7-4.2 .7 1.4 .8 .2 .7-1.1 .7-.3 .7-1.9 .7-1.7 .7-.2 .8 .5 .7 .8 .7-1.3 .7 1.2 .7-2.3 .7-.4 .8-3.3 .7-.1 .7 2.2 .7-2.5 .7 .3 .7 2.7 .8-7.3 .7 1.3 .7 2.5 .7 2.4 .7-3.4 .7-1.1 .8 2.5 .7-5.2 .7 3.1 .7-.2 .7-1.8 .7-2.3 .8-.8 .7 0 .7 2.7 .7-3.1 .7-2.3 .7 .9 .8-1.4 .7 2.1 .7-1.8 .7 .7 .7-1.7 .7 1.7 .8-2.5 .7-.9 .7-2.2 .7-.1 .7 .1 .7-1.7 .8 2.8 .7-3.5 .7 1 .7-.9 .7-2.4 .7 .5 .8-1.2 .7-3.5 .7 3.8 .7-2.2 .7 .6 .7-2.2 .8-1.8 .7-.2 .7 .4 .7 0 .7-.1 .7 .1 .8-2.6 .7 3.8 .7-5 .7-.1 .7 3.1 .7-2.2 .8-2.6 .7 .1 .7 .9 .7 1.1 .7-2.1 .7-2.4 .7-.3 .8-1.3 .7-1.2 .7-.5 .7 .3 .7 .5 .7-1.9 .8 .2 .7 1.1 .7-4 .7 2.3 .7-3 .7-.8 .8 .9 .7 .4 .7-2.6 .7-.6 .7 1.9 .7-3.1 .8 .4 .7-1.7 .7-.2 .7 .1 .7-1.6 .7 1.3 .8-2.8 .7-.7 .7 2.8 .7-1.2 .7-2.2 .7 .4 .8-1.1 .7-1.5 .7 3.8 .7-4 .7 .5 .7-4.3 .8 .2 .7 1.1 .7-1.5 .7-.2 .7-.6 .7-1.8 .8 .1 .7 .8 .7-3.5 .7 3.1 .7-5.6 .7 1.5 .8 .6 .7-1 .7-.4 .7-2 .7 1.5 .7 .4 .8-1.1 .7-1.3 .7-1.2 .7 1.8 .7-2.7 .7 3.2 .8-3.8 .7-.8 .7 .4 .7-1.4 .7-1.3 .7 2 .8-3 .7-.7 .7-.8 .7-1.2 .7-2.2 .7-.4 .8 2.4 .7 1.2 .7-1.5 .7 .2 .7 0 .7-2.8 .8-4 .7 3.8 .7-2.2 .7-.3 .7 1.4 .7-1.6 .8 0 .7-5.9 .7 3.6 .7 .7 .7-3.4 .7 3.8 .8-2.9 .7-3.8 .7 3.9 .7-3.3 .7 .1 .7 1.6 .7-4.7 .8 2 .7-1.7 .7 .1 .7-1.6 .7 2.1 .7-6 .8 4.1 .7-.2 .7-1.1 .7-.6 .7 1.4 .7-.9 .8-1.2 .7-1.1 .7-1.8 .7 1 .7 0 .7-1 .8 1.3 .7-4.4 .7 6.5 .7-5.6 .7-4.5 .7 1.1 .8 2.2 .7-1.2 .7-1.7 .7-.6 .7 2.3 .7-4.1 .8 1.2 .7-3.8 .7 1.3 .7 .7 .7 .1 .7-2.5 .8-1.1 .7 2.3 .7-1.4 .7-3.3 .7-.2 .7 1 .8 .6 .7-1.2 .7 5.2 .7-5.3 .7-1.2 .7 3.4 .8-3.2 .7-4.1 .7 .3 .7 2.5 .7-2.1 .7 .1 .8-2.7 .7-.3 .7 2.1 .7-2.6 .7-.6 .7-1.4 .8 .7 .7-.3 .7-2.3 .7 .7 .7-1.7 .7-1.6 .8 .5 .7 .4 .7-.7 .7 0 .7-2.7 .7-.1 .8 0 .7 .3 .7-1.2 .7-1.5 .7 .8 .7-1.2 .8 1.3 .7-2.7 .7 1.9 .7-2.4 .7-.1 .7 .3 .8-2.6 .7-1 .7-1.8 .7 1.7 .7-.5 .7-.2 .7-1 .8-1.2 .7 .5 .7-3.2 .7 1 .7-2.8 .7 .9 .8 1.6 .7-2.2 .7 .5 .7-1.1 .7-1.8 .7 1.9 .8-1.5 .7-1.9 .7-.9 .7-1.7 .7 .5 .7-.8 .8 .1 .7-1.3 .7 .7 .7-1.3 .7-2.4 .7 .6 .8-1.1 .7-1.1 .7-2 .7 3.3 .7-3 .7-1.6 .8 1.7 .7 3.1 .7-4.7 .7-1.7 .7 .8 .7 1 .8 .1 .7-2.4 .7 1.1 .7-3.1 .7 1 .7-2.4 .8 3.8 .7-4.3 .7-2.4 .7 .5 .7 1 .7-.6 .8-1.2 .7-.6 .7-.9 .7 .5 .7 .3 .7-1.3 .8-.3 .7 .5 .7-2.7 .7 0 .7 0 .7-1 .8-.6 .7-.7 .7 1.9 .7-2.8 .7-.8 .7 .7 .8 .7 .7-.8 .7-2.2 .7 .3 .7-.9 .7-.9 .8 .3 .7-.4 .7-1 .7 1.4 .7-3 .7-1.4 .8 3 .7-.7 .7-2.9 .7-1.3 .7-5.2 .7 3.8 .8 2.1 .7-5.3 .7-.8 .7 2.2 .7-.9 .7-3.3 .8 1.5 .7 .1 .7-2.6 .7 2.5 .7-3 .7 2.6 .7-1.5 .8-1.5 .7-1.6 .7 .9 .7-.5 .7 1.2 .7-3.3 .8-2.4 .7 2.6 .7-2.8 .7 .2 .7 .2 .7-1 .8 3.1 .7-2.1 .7-2.7 .7 .2 .7-4.2 .7 2.5 .8 .6 .7-2.7 .7 2.3 .7-4.4 .7 3.1 .7-2.7 .8-1.3 .7 .1 .7-.3 .7-1.4 .7-1.1 .7 .4 .8 1.1 .7-1.4 .7 .4 .7-2.9 .7-.4 .7-.5 .8 0 .7-.2 .7 1.1 .7-1.6 .7-1.1 .7-1.2 .8-.8 .7-1.1 .7 1.7 .7-1.2 .7-.8 .7 .2 .8-4.2 .7 1.6 .7-.1 .7 2.2 .7-2.5 .7 1.5 .8-3.1 .7-3.5 .7 3.9 .7-3.8 .7-1.1 .7 4.8 .8-4 .7-2.1 .7 3 .7-3.1 .7-.1 .7-.5 .8 .6 .7 2.1 .7-4.2 .7 .8 .7-3.1 .7 1.1 .8-2.4 .7 .9 .7-2.3 .7-.3 .7 1.7 .7-3.5 .8-.5 .7 1.7 .7-1.5 .7-.7 .7-.2 .7 2 .8-4.3 .7 .2 .7-.1 .7-2 .7 .5 .7 0 .7-2.2 .8 1.9 .7-3.1 .7-1.9 .7 2.9 .7 2.9 .7-4.1 .8-.3 .7 4.6 .7-7.2 .7 1.1 .7-2 .7-2.8 .8 1.3 .7-2.1 .7 .6 .7-2.4 .7 2.3 .7-4 .8 2.4 .7 1.4 .7-1.3 .7-1.4 .7-.5 .7-.9 .8 2.9 .7-6.3 .7 1.7 .7 .7 .7-2.2 .7 .9 .8-1.8 .7-.7 .7-2.9 .7 2.2 .7-.1 .7-1.6 .8-.7 .7-1.5 .7 1.4 .7-2.3 .7-1.2 .7 0 .8-1.1 .7-2.3 .7-1.4 .7 4.5 .7-1.7 .7 .4 .8-2.5 .7-1.4 .7 .4 .7 1.9 .7-1.3 .7-2.4 .8 1.7 .7-2.1 .7-.6 .7 0 .7 1.1 .7-3.3 .8 0 .7-1.7 .7 .2 .7 .3 .7-2.6 .7 .4 .8-1.8 .7-1.1 .7 1.6 .7-2.9 .7 1.8 .7-.7 .8-1 .7-2.2 .7 1.5 .7-4.6 .7 2.4 .7-.1 .8-.3 .7-2.7 .7 2.1 .7-.6 .7-3.9 .7 .6 .8-.5 .7-.8 .7 2 .7 .4 .7-4.2 .7 2 .8-2 .7 1.4 .7-5.1 .7 1.7"/>
<path stroke="#e0702a" d="M137.8 563.9l .7-4 .7-.9 .7-1 .7-.9 .7 1.6 .7-1.6 .8-.5 .7 .7 .7-1.4 .7 .8 .7-1.9 .7-2 .8 3 .7-2.4 .7 1 .7-.7 .7-1.3 .7-2.6 .8-.2 .7 1.7 .7-2.8 .7 2 .7-2.5 .7-.9 .8 .4 .7 .1 .7-2.2 .7 2.2 .7-.2 .7-1.9 .8 1.1 .7-3.2 .7 .8 .7-.1 .7-.2 .7 3.8 .8-7.1 .7-1.9 .7 3.8 .7-.5 .7 0 .7-1.2 .8 .2 .7-1 .7 1 .7-1.8 .7-.2 .7 1.7 .8-4.5 .7 2.3 .7 .1 .7-1.6 .7 .9 .7 .3 .8-1.2 .7-3.5 .7-.2 .7 1.2 .7 1.1 .7-.4 .8-3.4 .7 .6 .7 1.1 .7-4.3 .7 3 .7 1.2 .8-1 .7-1.7 .7-3.2 .7 1.2 .7 .1 .7 .2 .8-1.6 .7 3.2 .7-3.6 .7-2.1 .7 .7 .7 .6 .8-1.6 .7-1.5 .7-3.8 .7 0 .7 1.2 .7 .4 .8 .6 .7-3.2 .7 4.1 .7-1.9 .7-1.4 .7-.1 .8 1.2 .7-4.3 .7-1.1 .7 5 .7-2.5 .7-2.8 .7 .5 .8-1.1 .7 2.8 .7-4.7 .7-.2 .7-.7 .7-1.9 .8-5.6 .7 5.9 .7 .3 .7-1.5 .7 .6 .7 0 .8-.5 .7-3.1 .7 3.4 .7-1 .7-.5 .7 1 .8-2.7 .7-1.1 .7 .6 .7 0 .7-4.7 .7 3.5 .8-2.1 .7-1.3 .7 .5 .7 .6 .7 .8 .7-2.4 .8-1.1 .7-2.3 .7 3.5 .7-1.4 .7 1.6 .7-1.1 .8 .3 .7-2.2 .7-1.2 .7-2.4 .7 2.5 .7 .8 .8-1.6 .7-3.6 .7 1.3 .7 .2 .7-2.3 .7 1 .8-4.3 .7 4.1 .7-.7 .7 .6 .7-2.3 .7-1.5 .8 .7 .7 2.2 .7-2.6 .7-.4 .7 .7 .7-2.2 .8-.2 .7-1 .7-.1 .7 1.5 .7-4 .7-1 .8 4 .7-4 .7-1.1 .7 3.8 .7-1.3 .7 .2 .8 0 .7-1.1 .7 .2 .7-1.2 .7-1.8 .7-2.5 .8-.3 .7 2.8 .7-1 .7-.5 .7-1.3 .7 .7 .8 .1 .7-1.4 .7-2.1 .7-.2 .7 1 .7 .1 .8-3.1 .7 1.2 .7-3 .7 4.6 .7-2.7 .7-2.2 .7-1.5 .8 1.7 .7-.9 .7 .1 .7-.2 .7-2.7 .7 3.5 .8-1.6 .7-2.6 .7 2.1 .7-3.4 .7-.9 .7 4 .8-2 .7-1.2 .7 .5 .7-2.9 .7 2.4 .7-1.6 .8 1.3 .7-1.8 .7-.8 .7-.8 .7-2 .7 .9 .8 .1 .7 .5 .7-1.1 .7-2.3 .7 1.7 .7-1.9 .8 .4 .7-3.1 .7 .3 .7-.8 .7 0 .7 2.4 .8-.5 .7-3.1 .7 2.2 .7-.6 .7-3.3 .7 .9 .8-1.5 .7 0 .7 .9 .7-2.4 .7-.1 .7 1.1 .8-1.5 .7 .1 .7-.4 .7-1.6 .7 2.6 .7-2.1 .8-.6 .7-.5 .7-2.7 .7 3.9 .7-1 .7-1.8 .8 .8 .7-2.5 .7-.7 .7-3.4 .7 3.7 .7-2.3 .8 1.9 .7-1.9 .7 1 .7-2 .7 1 .7-2.5 .8-.5 .7 1.6 .7 1.3 .7-1.5 .7-2.4 .7 1 .8-2.1 .7-1.5 .7 3.2 .7-2.4 .7 1 .7-1.4 .8-2.6 .7 2 .7-2.6 .7 2.9 .7-.1 .7-1.8 .7-1 .8 2.2 .7-4.6 .7 1.6 .7 1.2 .7-3 .7 .7 .8-3.5 .7-2.4 .7 4.4 .7-2.4 .7-.3 .7-.1 .8-1.3 .7-.3 .7 .3 .7-2.9 .7 4.8 .7 .1 .8-2.8 .7-1.8 .7 .7 .7-.7 .7-.5 .7-.1 .8-1.2 .7-2.6 .7 1.4 .7-1.5 .7-.4 .7-.3 .8 .6 .7-.1 .7-1.9 .7-1.7 .7 2.8 .7-6 .8 3.3 .7 .3 .7 1.5 .7-.2 .7-1.4 .7 .3 .8-2.1 .7 .8 .7-1.8 .7-.6 .7-.1 .7-.5 .8 1.9 .7-3.6 .7-2 .7 .9 .7-3.3 .7 2.3 .8-1.2 .7 1.4 .7-2 .7 5 .7-6.1 .7-2.1 .8 1.7 .7-.6 .7-.7 .7 1.5 .7-4 .7 .8 .8-.6 .7-1.2 .7 3.1 .7-1.4 .7-2.8 .7 3.8 .8-2.4 .7-.9 .7-3 .7 1.8 .7-1.1 .7 1.6 .8-1.9 .7 2 .7-4.1 .7 4.4 .7-2.7 .7 .4 .8-.9 .7-3.4 .7 1.4 .7-1.5 .7-.5 .7-1.8 .8 .9 .7 .1 .7-1.3 .7 .4 .7-.2 .7-.3 .7-2 .8 1.2 .7 0 .7-2.8 .7 3.1 .7-.5 .7-2 .8 1.7 .7-3.8 .7 1.8 .7-2.6 .7-.5 .7 5 .8-4.7 .7-.4 .7 .2 .7 1.1 .7-2 .7-1.1 .8 .3 .7 .7 .7 .3 .7-.9 .7-1.7 .7-1 .8 .3 .7 1.2 .7-3 .7 1.3 .7-1.6 .7-.9 .8 1.9 .7-2.1 .7-.7 .7-.7 .7-.1 .7-2.2 .8-.2 .7-.9 .7 .1 .7-.5 .7-3.6 .7 3.2 .8-2.3 .7 .3 .7 .8 .7 .5 .7-5.1 .7 3.5 .8-.4 .7-3.4 .7 3.8 .7-5.1 .7 .3 .7 .4 .8-2.3 .7 1.7 .7-1.1 .7-.6 .7 .5 .7-2.1 .8-1.6 .7 1.4 .7-1.5 .7 0 .7-1.6 .7-.3 .8-.5 .7-.7 .7 2.1 .7-2.2 .7 .6 .7 3.2 .8-4.7 .7-1.6 .7 2 .7-5.1 .7 2.5 .7-2.2 .8 2.2 .7-.7 .7-.4 .7 1.5 .7-1.9 .7-1 .8-5 .7 2.7 .7-1.6 .7 1.9 .7-4 .7 4.8 .7-3.3 .8 4.6 .7-5.8 .7-4 .7 2.9 .7 3.2 .7-2.1 .8-2.6 .7 1.7 .7-2 .7-.2 .7 0 .7-.6 .8 .5 .7-.3 .7-2.6 .7 1.2 .7 2 .7-1.9 .8-3.5 .7-.3 .7-.7 .7 0 .7 1.2 .7-2 .8 2 .7-1.8 .7-3.4 .7 1.7 .7-1.3 .7-.6 .8 2.4 .7-.7 .7-2.5 .7 .2 .7 2.1 .7-2.9 .8 .9 .7 0 .7-4.2 .7 2.5 .7-3.4 .7 2.5 .8-2.6 .7 1.2 .7-.5 .7-2.3 .7 1.6 .7-1.9 .8-2.2 .7 .5 .7 2.2 .7 .3 .7-1.4 .7-1.5 .8 1.1 .7 .8 .7 1.2 .7-5 .7 1.7 .7-1.4 .8-.7 .7-.4 .7-.2 .7-1.4 .7-1.5 .7 .4 .8-2.4 .7 2.9 .7-3.3 .7 .7 .7-1.4 .7 .7 .8-1.4 .7-3.4 .7 4.2 .7-4.3 .7 1.1 .7-1 .8 0 .7-2.6 .7 2.6 .7 2.5 .7-3.3 .7 .1 .8-1.7 .7 1.2 .7-1.1 .7 .2 .7-.3 .7-1.5 .8 1.3 .7-1 .7 .7 .7-.8"/>
<path stroke="#e8140a" d="M137.8 533.8l .7 .8 .7-4.3 .7 1.8 .7 1.6 .7-1.1 .7 .7 .8-4.2 .7 .2 .7 1 .7 2.9 .7-2.8 .7 1.3 .8 .8 .7 1.8 .7-6 .7-.2 .7-.7 .7 0 .8-2 .7-1.9 .7 2.5 .7-.8 .7 1.5 .7-.1 .8-4.7 .7 .2 .7 1.9 .7 .3 .7-1.8 .7-.6 .8-3 .7 5.2 .7-4.6 .7 1.1 .7-.9 .7 .6 .8-.6 .7 .6 .7-5.2 .7 3.1 .7 2.5 .7-1.7 .8-.5 .7-2.6 .7-.5 .7 .3 .7-3.2 .7 1.7 .8 1.3 .7-.8 .7-.5 .7 0 .7 1.1 .7 .2 .8 .8 .7-3.6 .7-1.1 .7 1.1 .7-3.2 .7 .9 .8 1.7 .7 .1 .7-1.5 .7-1.8 .7 1.9 .7-2.2 .8 .4 .7-1.7 .7 3.3 .7-.9 .7-3.6 .7-3.4 .8 3.8 .7 .5 .7 .5 .7-2.1 .7-1.8 .7 1.9 .8-.2 .7-5.6 .7 4.4 .7-.5 .7-1.4 .7-.9 .8 2.7 .7-.4 .7-2.9 .7 .2 .7 1.6 .7-1.6 .8 2.8 .7 .3 .7-6.8 .7 2.1 .7-.7 .7 .5 .7 1.9 .8-3 .7-.7 .7 .2 .7-.9 .7 .7 .7 2.7 .8-4.5 .7 .5 .7-.1 .7-3.1 .7 3.4 .7-1.3 .8-3 .7 2 .7 .2 .7-1.7 .7 2.3 .7-2.5 .8-1.6 .7 2.7 .7 .7 .7-2.3 .7-2.7 .7-2.6 .8 3 .7 .9 .7-.1 .7 1.8 .7-.2 .7-2.5 .8 2.4 .7-1.1 .7-3 .7 3.5 .7-7.6 .7 2.6 .8 2.1 .7-6.6 .7 7 .7-4.9 .7 .7 .7 .5 .8 2.2 .7-5.6 .7 2.6 .7 .5 .7-1.7 .7 1.3 .8-.9 .7 2.1 .7-4.4 .7 2.9 .7-6.4 .7 1.1 .8 1 .7-2.3 .7-.4 .7-1.1 .7 3 .7-4.5 .8 1.3 .7 2 .7-1.9 .7 .7 .7 1 .7-4.7 .8 2.3 .7-3.7 .7 4.7 .7-1 .7-3.7 .7 2.9 .8-1.7 .7 .2 .7 3.3 .7-2.8 .7-.4 .7 1.2 .8-1.6 .7-2.7 .7-1.3 .7 2.5 .7-3.9 .7 1.4 .8-.5 .7-1 .7 2.4 .7-1.8 .7-1.1 .7 1.2 .8-2.3 .7 1.9 .7 .8 .7-3.4 .7-.5 .7 1.4 .7-4.5 .8 .6 .7 0 .7 1.5 .7-.9 .7-.1 .7-1 .8 1.9 .7-1.7 .7-.4 .7-.2 .7-2.3 .7-.2 .8 1.6 .7-1.9 .7 .9 .7-2.8 .7 .3 .7-1.2 .8 .5 .7 .3 .7 .7 .7 .6 .7-7.3 .7 5.1 .8-2.9 .7 1.6 .7-1.7 .7 .8 .7-.4 .7-1.6 .8-1 .7 .2 .7 .5 .7 .7 .7 .7 .7-4.7 .8 2.7 .7-1.5 .7-2.1 .7 2.5 .7 .2 .7-1 .8-1.2 .7 1.4 .7-2.3 .7-1.1 .7 1 .7-3.6 .8-.1 .7 2.9 .7-2.6 .7-2.4 .7 3.2 .7 .3 .8-2.9 .7-1 .7-1.8 .7 3.4 .7-1.6 .7-.8 .8 1.5 .7-.4 .7-.4 .7-5.2 .7 3 .7-.9 .8 .7 .7-.1 .7 1.4 .7-2.6 .7 .2 .7-3.9 .8 .8 .7 2.1 .7-3.7 .7 1 .7 1.5 .7-.7 .8-2.9 .7 .9 .7-2.5 .7 5.4 .7-3 .7 1.7 .8-3.7 .7 0 .7-1.9 .7 2.1 .7-.6 .7 1.2 .7 .9 .8-2.2 .7-2.1 .7 1.1 .7-.3 .7-3.7 .7 1.1 .8 1.6 .7-2.5 .7 1.3 .7-.4 .7-1.3 .7 2.1 .8 1.9 .7-3.8 .7-.7 .7 1.6 .7-3.6 .7 1.2 .8-.4 .7-1.6 .7 .1 .7-1.6 .7-.2 .7 1.3 .8-2.5 .7 .1 .7-.5 .7 1.4 .7-1.5 .7-1 .8 4.4 .7-6.7 .7 1.7 .7 .5 .7 1.7 .7-6.9 .8 3.8 .7-2.8 .7-1.5 .7 2.8 .7 0 .7-2.3 .8 5.8 .7-7.1 .7 2.8 .7-4.1 .7 2.2 .7 .4 .8 .8 .7-3.4 .7-2.3 .7 3 .7-2.6 .7-1 .8 .1 .7-1.1 .7 1.6 .7-1.3 .7 .2 .7 2.2 .8-4.2 .7 1.4 .7 .5 .7 .8 .7-2.6 .7-.9 .8-1.4 .7 0 .7-.2 .7-.4 .7-2.9 .7 .7 .8-.2 .7-1 .7-.3 .7 1 .7-2.1 .7 4.9 .8-5.5 .7 1.6 .7 .8 .7 .4 .7-.7 .7 .7 .8-3.2 .7-.9 .7-.3 .7 1.1 .7 3.8 .7-3.4 .8-.5 .7-2.9 .7 2.8 .7-.8 .7-1.9 .7-3 .7 2.1 .8 .7 .7 2.2 .7-2.1 .7-.6 .7-.7 .7 4.9 .8-4.4 .7 .1 .7 .5 .7-3 .7 1.1 .7-1.4 .8-1.3 .7 1.5 .7 .4 .7 .6 .7-1.9 .7 .1 .8-2.1 .7 .7 .7-1.9 .7 1.2 .7-1.6 .7 3.2 .8-1.1 .7-2.1 .7 2.3 .7-1.7 .7 1 .7-5 .8 3.1 .7-1.9 .7-.2 .7 4 .7-2.5 .7-3 .8-.2 .7-2 .7 .5 .7 .7 .7-2.7 .7-1.9 .8 1.4 .7 1.5 .7 .5 .7-1.3 .7-1.3 .7 .5 .8-3.3 .7 1.8 .7 1.7 .7-2.7 .7 0 .7-.6 .8-.9 .7 3 .7-.6 .7-3.3 .7 .1 .7 3.2 .8-3.5 .7 .8 .7-1.7 .7-1.6 .7 1.3 .7 0 .8-1.1 .7 3.6 .7 .4 .7-1.1 .7-2.7 .7-.8 .8-1.3 .7-.6 .7-.8 .7 1.2 .7-3.1 .7 .1 .8 1.8 .7-3.4 .7 3.6 .7-5.6 .7 2.4 .7 .9 .8-2.7 .7-.4 .7-1.5 .7 1.1 .7-.1 .7-5.1 .7 4.5 .8 .2 .7-.9 .7-1.9 .7 2 .7 .3 .7-2.9 .8-2.1 .7 1.2 .7 .7 .7-1.7 .7 2.4 .7-1.2 .8-2.3 .7 1.5 .7-1.4 .7-1.8 .7-1.4 .7 3.6 .8-3.8 .7 3.8 .7 1.1 .7-3.3 .7 .2 .7-2.2 .8-.6 .7 .9 .7 .3 .7-2.8 .7 .3 .7-.7 .8 2.3 .7-.5 .7-2.7 .7 .4 .7 .1 .7-3.2 .8 1.1 .7 .3 .7-5.9 .7 4.9 .7-.7 .7-3.3 .8 4.1 .7-3 .7 1.7 .7-1.3 .7 1.6 .7-2.8 .8 1.6 .7-2.2 .7 2.4 .7 3.4 .7-7.6 .7 1.7 .8-4.1 .7 5.1 .7 .3 .7-2.4 .7 .6 .7 1.1 .8-2.1 .7-3.9 .7-.1 .7 2.9 .7-.8 .7-3.9 .8 1.9 .7-.5 .7-.6 .7 .7 .7-2.7 .7 2.4 .8-.2 .7 .6 .7-4.7 .7 .7 .7-1.1 .7 5.2 .8-6.6 .7 .3 .7 4.9 .7-3.2 .7-1.4 .7-.5 .8-1.7 .7 1.1 .7 2.5 .7-1.3 .7-.9 .7 .3 .8-4.5 .7 .8 .7 .3 .7 2.3"/>
</g>
<rect x="137.75" y="22.75" width="406.25" height="812.75" fill="none" stroke="#000" stroke-width="2"/>
<path d="M119.25 22.75H137.75 M119.25 225.94H137.75 M119.25 429.12H137.75 M119.25 632.31H137.75 M119.25 835.50H137.75 M137.75 835.50V854.00 M239.31 835.50V854.00 M340.88 835.50V854.00 M442.44 835.50V854.00 M544.00 835.50V854.00" stroke="#000" stroke-width="2" fill="none"/>
<text transform="translate(105.85 31.55) scale(1 1.040)" font-size="28.3" text-anchor="end">0.8</text>
<text transform="translate(105.85 234.74) scale(1 1.040)" font-size="28.3" text-anchor="end">0.4</text>
<text transform="translate(105.85 437.93) scale(1 1.040)" font-size="28.3" text-anchor="end">0.0</text>
<text transform="translate(105.85 641.11) scale(1 1.040)" font-size="28.3" text-anchor="end">−0.4</text>
<text transform="translate(105.85 844.30) scale(1 1.040)" font-size="28.3" text-anchor="end">−0.8</text>
<text transform="translate(137.75 889.00) scale(1 1.040)" font-size="28.3" text-anchor="middle">−8</text>
<text transform="translate(239.31 889.00) scale(1 1.040)" font-size="28.3" text-anchor="middle">−4</text>
<text transform="translate(340.88 889.00) scale(1 1.040)" font-size="28.3" text-anchor="middle">0</text>
<text transform="translate(442.44 889.00) scale(1 1.040)" font-size="28.3" text-anchor="middle">4</text>
<text transform="translate(544.00 889.00) scale(1 1.040)" font-size="28.3" text-anchor="middle">8</text>
<text transform="translate(295.27 944.0) scale(1.2 1.0)" font-size="28.5" font-style="italic" style="font-family:'Liberation Serif',serif;stroke-width:0">μ</text>
<text transform="translate(310.88 944.20) scale(1 1.040)" font-size="29.0"><tspan font-size="20" dy="7">0</tspan><tspan font-style="italic" dy="-7">H</tspan> (T)</text>
<text transform="translate(-2.75 23.00) scale(1 1.040)" font-size="29.0" font-weight="bold">a</text>
<text transform="translate(531.00 819.80) scale(1 1.040)" font-size="29.0" text-anchor="end">P75</text>
<path d="M153.25 52.80H218.55" stroke="#7020a8" stroke-width="2.2"/>
<text transform="translate(225.75 63.00) scale(1 1.040)" font-size="29.0">40 K</text>
<path d="M153.25 88.48H218.55" stroke="#5030d8" stroke-width="2.2"/>
<text transform="translate(225.75 98.68) scale(1 1.040)" font-size="29.0">50 K</text>
<path d="M153.25 124.16H218.55" stroke="#4a88ee" stroke-width="2.2"/>
<text transform="translate(225.75 134.36) scale(1 1.040)" font-size="29.0">60 K</text>
<path d="M153.25 159.84H218.55" stroke="#48b89a" stroke-width="2.2"/>
<text transform="translate(225.75 170.04) scale(1 1.040)" font-size="29.0">80 K</text>
<path d="M153.25 195.52H218.55" stroke="#3ee83a" stroke-width="2.2"/>
<text transform="translate(225.75 205.72) scale(1 1.040)" font-size="29.0">100 K</text>
<path d="M153.25 231.20H218.55" stroke="#80f030" stroke-width="2.2"/>
<text transform="translate(225.75 241.40) scale(1 1.040)" font-size="29.0">130 K</text>
<path d="M153.25 266.88H218.55" stroke="#d0e830" stroke-width="2.2"/>
<text transform="translate(225.75 277.08) scale(1 1.040)" font-size="29.0">160 K</text>
<path d="M153.25 302.56H218.55" stroke="#e0702a" stroke-width="2.2"/>
<text transform="translate(225.75 312.76) scale(1 1.040)" font-size="29.0">200 K</text>
<path d="M153.25 338.24H218.55" stroke="#e8140a" stroke-width="2.2"/>
<text transform="translate(225.75 348.44) scale(1 1.040)" font-size="29.0">240 K</text>
<g fill="none" stroke-width="2" stroke-linejoin="round">
<path stroke="#7020a8" d="M747.5 720.6l 1.4-3 1.5-1.7 1.4-2.2 1.4-2.6 1.5-2.7 1.4-1.6 1.5-2.5 1.4-1.6 1.4-2.8 1.5-2 1.4-2.3 1.4-2.3 1.5-2.6 1.4-2.1 1.4-2 1.5-2.3 1.4-2.3 1.4-2 1.5-2.4 1.4-2.1 1.5-2.4 1.4-2.2 1.4-2.5 1.5-2.5 1.4-1.6 1.4-2.2 1.5-2.3 1.4-2.7 1.4-1.7 1.5-2.6 1.4-2.2 1.5-2.5 1.4-2.1 1.4-2.3 1.5-2 1.4-2.5 1.4-2.1 1.5-2.3 1.4-2.5 1.4-1.8 1.5-2.2 1.4-2.3 1.4-3.1 1.5-1.1 1.4-2.5 1.5-2.6 1.4-1.3 1.4-2.8 1.5-2.1 1.4-2.4 1.4-3 1.5-1.2 1.4-2.9 1.4-1.6 1.5-2.6 1.4-2.4 1.5-2.7 1.4-1.7 1.4-2.4 1.5-1.9 1.4-2.6 1.4-1.7 1.5-2.6 1.4-2.2 1.4-1.5 1.5-2.6 1.4-2.7 1.5-1.9 1.4-2.9 1.4-1.9 1.5-2.1 1.4-2.4 1.4-2.3 1.5-1.8 1.4-2.6 1.4-2.3 1.5-2.2 1.4-2.3 1.4-1.8 1.5-2.4 1.4-2.8 1.5-1.4 1.4-2.3 1.4-2.7 1.5-2.4 1.4-2 1.4-2.4 1.5-1.9 1.4-2.5 1.4-1.8 1.5-3.1 1.4-2 1.5-2 1.4-2.5 1.4-2.2 1.5-2.5 1.4-1.3 1.4-2.9 1.5-2 1.4-2.7 1.4-2.2 1.5-2.1 .8-.7 10.2-21.9 7.6-15.1 7.1-13.4 5.6-8.1 2-7.2 .5-34.7 .5 30.1 2.1-8.3 2.5-4.8 1-10 .8 11 3.3-3.8 2.5-1.3 2.6 5.2 2.5 11.5 2.6 9.8 2.5 6.4 2.5 6.1 2.6 7.8 2.5 4.6 2.6 3.2 3.8-3.6 2.5 .7 .8 8.1 .7-10.6 3.6 1.8 2 0 .5 14.6 .8-29.6 2.3-10.2 5.8-12.4 7.6-17.4 15.3-30.4 .8-.8 1.5-2.4 1.4-2 1.4-3.2 1.5-2.1 1.4-2.1 1.4-2.3 1.5-1.9 1.4-2.5 1.4-2.7 1.5-1.9 1.4-2.5 1.5-2 1.4-2.1 1.4-2.4 1.5-1.7 1.4-2 1.4-2.7 1.5-2.9 1.4-1.4 1.4-2.1 1.5-2.9 1.4-2.1 1.5-2.1 1.4-2.5 1.4-1.9 1.5-2.5 1.4-2.6 1.4-2.2 1.5-2.2 1.4-2.3 1.4-1.7 1.5-2.5 1.4-2.5 1.4-1.9 1.5-2.5 1.4-2 1.5-2 1.4-2.7 1.4-2.4 1.5-2.4 1.4-1.4 1.4-2.7 1.5-2.5 1.4-2.1 1.4-2.6 1.5-1.5 1.4-2.5 1.5-2.4 1.4-2.6 1.4-1.2 1.5-2.8 1.4-3 1.4-1.7 1.5-2.1 1.4-2.2 1.4-2.6 1.5-1.6 1.4-2.4 1.5-2.4 1.4-2.5 1.4-2.5 1.5-1.9 1.4-2.1 1.4-2.6 1.5-1.8 1.4-2.1 1.4-2.6 1.5-2.2 1.4-2.1 1.4-1.8 1.5-2.3 1.4-3.2 1.5-1.9 1.4-1.3 1.4-3.1 1.5-1.6 1.4-2.7 1.4-2 1.5-2.7 1.4-2.2 1.4-2.1 1.5-2.4 1.4-2.2 1.5-1.9 1.4-2.7 1.4-1.8 1.5-2.8 1.4-2.2 1.4-2 1.5-2.3 1.4-2.1 1.4-2.5 1.5-2.3 1.4-2.4 1.4-2.6 1.5-1.9 1.4-1.8 1.5-2.6 1.4-2.2 1.4-1.9 1.5-2.9 1.4-1.9"/>
<path stroke="#7020a8" d="M747.5 719.2l 1.7-2 1.7-2.5 1.7-2.6 1.7-2.6 1.7-2.9 1.7-2.4 1.7-2.8 1.7-3.1 1.7-2.7 1.7-2.1 1.7-2.9 1.7-3.4 1.7-2.5 1.7-2 1.7-3 1.7-3.2 1.7-2 1.7-2.5 1.7-2.8 1.7-2.9 1.7-2.7 1.7-2.8 1.7-2.6 1.7-2.5 1.7-2 1.7-2.6 1.7-3.6 1.7-3 1.7-2.3 1.7-2.7 1.7-2.7 1.7-3.1 1.7-2.2 1.7-2.8 1.7-2.5 1.7-3.2 1.7-2.2 1.7-3 1.7-2.6 1.7-2.6 1.7-2.6 1.7-2.7 1.7-2.6 1.7-2.7 1.7-2.7 1.7-2.7 1.7-2.6 1.7-2 1.7-3 1.7-3.1 1.7-2.9 1.7-1.9 1.7-3 1.7-2.6 1.7-2.4 1.7-3.6 1.7-2.3 1.7-2.4 1.7-2.3 1.7-3.1 1.7-2.7 1.7-2.7 1.7-2.7 1.7-2.6 1.7-2.9 1.7-2.7 1.7-2.5 1.7-2.4 1.7-2.5 1.7-3 1.7-2.8 1.7-2.2 1.7-2.9 1.7-2.6 1.7-2.9 1.7-2.8 1.7-2.4 1.7-2.9 1.7-2.3 1.7-3.2 1.7-2.3 1.7-2.8 1.7-3 1.7-2.4 1.7-2.9 1.7-2.5 1.1-6.7 10.2-19.5 7.6-15.2 7.1-11.8 5.6-7.9 2-5.9 .5-32.3 .5 27.3 2.1-6.5 2.5-4.8 1-9.8 .8 10.9 3.3-3.8 2.5-1.3 2.6 5.3 2.5 10.5 2.6 9.4 2.5 5.8 2.5 6.6 2.6 6.5 2.5 5.2 2.6 2.7 3.8-3.8 2.5 .9 .8 8 .7-9.2 3.6 1.2 2 .6 .5 13.1 .8-28.1 2.3-8.7 5.8-12.1 7.6-16.4 15.3-27.8 1.1-4.2 1.7-2.8 1.7-3 1.7-2.5 1.7-2.1 1.7-2.6 1.7-3.6 1.7-2 1.7-2.9 1.7-2.8 1.7-2.4 1.7-2.3 1.7-2.9 1.7-3.1 1.7-2.3 1.7-2.6 1.7-2.4 1.7-3 1.7-2.7 1.7-2.6 1.7-2.5 1.7-3.4 1.7-1.7 1.7-3 1.7-2.8 1.7-3 1.7-2.2 1.7-2.2 1.7-3.4 1.7-3 1.7-2 1.7-2.8 1.7-2.7 1.7-3.2 1.7-2 1.7-2.6 1.7-4.2 1.7-1.4 1.7-2.4 1.7-3.2 1.7-3.1 1.7-2 1.7-2 1.7-3.2 1.7-2.2 1.7-3.2 1.7-2.9 1.7-2.8 1.7-2.1 1.7-3.5 1.7-2.4 1.7-2.6 1.7-2.5 1.7-2.8 1.7-3.1 1.7-2.6 1.7-1.8 1.7-3.2 1.7-2.7 1.7-2.8 1.7-2.5 1.7-3 1.7-2.1 1.7-2.8 1.7-2.9 1.7-2.4 1.7-3 1.7-2.8 1.7-2.2 1.7-3 1.7-2.9 1.7-2 1.7-3.2 1.7-2.5 1.7-2.4 1.7-3.5 1.7-2.3 1.7-2.3 1.7-3.1 1.7-2.7 1.7-2.6 1.7-2.7 1.7-2.7 1.7-2.4 1.7-2.8 1.7-2.2 1.7-3.1"/>
<path stroke="#5030d8" d="M747.5 728.9l 1.4-2.3 1.5-2.4 1.4-2.1 1.4-2 1.5-2.1 1.4-3 1.5-1.2 1.4-2.1 1.4-2.5 1.5-1.5 1.4-2.3 1.4-2.2 1.5-2.8 1.4-1.5 1.4-2.3 1.5-2.1 1.4-2.9 1.4-2 1.5-1.7 1.4-2.5 1.5-1.4 1.4-2.8 1.4-1.6 1.5-2.3 1.4-1.4 1.4-3 1.5-1.7 1.4-2.7 1.4-2.3 1.5-1.8 1.4-1.8 1.5-2.7 1.4-1.6 1.4-2.3 1.5-2.3 1.4-2.1 1.4-2.1 1.5-2.4 1.4-1.9 1.4-2.1 1.5-2.4 1.4-2.7 1.4-1.2 1.5-2.5 1.4-1.8 1.5-2.5 1.4-1.8 1.4-2.3 1.5-2.2 1.4-2 1.4-2 1.5-2.7 1.4-1.3 1.4-2.2 1.5-2.3 1.4-2.7 1.5-1.4 1.4-2.3 1.4-1.7 1.5-2.7 1.4-2 1.4-1.8 1.5-3 1.4-1.6 1.4-2.1 1.5-2.7 1.4-1.7 1.5-1.8 1.4-2.1 1.4-1.7 1.5-2.3 1.4-2.8 1.4-1.5 1.5-2.2 1.4-2.2 1.4-2.4 1.5-1.3 1.4-2.1 1.4-2.5 1.5-2.5 1.4-2.2 1.5-2.1 1.4-1.5 1.4-2.8 1.5-1.3 1.4-2.5 1.4-1.9 1.5-2 1.4-1.6 1.4-2.6 1.5-2.3 1.4-2 1.5-2.1 1.4-2.2 1.4-2 1.5-2.5 1.4-1.7 1.4-2.5 1.5-1.4 1.4-2.6 1.4-2.3 1.5-1.5 1.4-2.1 1.4-2.3 1.5-2.6 1.4-2 1.5-1.6 1.4-1.5 1.4-2.7 1.5-2.1 1.4-2 1.4-2.5 1.5-1.6 1.4-2.6 1.4-1.9 1.5-2.3 1.4-2.2 1.5-2 1.4-2.1 1.4-2 1.5-1.5 1.4-2.4 1.4-2.4 1.5-1.8 1.4-2.4 1.4-1.6 1.5-2.2 1.4-2.4 1.4-2 1.5-2.1 1.4-2.4 1.5-2.1 1.4-1.8 1.4-2.4 1.5-1.8 1.4-1.9 1.4-2.4 1.5-1.8 1.4-1.8 1.4-2.7 1.5-1.5 1.4-2.8 1.5-2.2 1.4-1.7 1.4-2.2 1.5-2.5 1.4-1.3 1.4-2.2 1.5-2.6 1.4-1.9 1.4-2.1 1.5-2.4 1.4-1.7 1.5-2.6 1.4-2.2 1.4-1.1 1.5-2.8 1.4-2.1 1.4-2 1.5-2.2 1.4-1.3 1.4-2.6 1.5-2 1.4-2.1 1.4-1.8 1.5-3.4 1.4-1.2 1.5-2.3 1.4-2.1 1.4-1.8 1.5-2.3 1.4-2.8 1.4-1.5 1.5-2.3 1.4-1.7 1.4-3.1 1.5-1.3 1.4-2.3 1.5-1.9 1.4-2.2 1.4-2.9 1.5-1.3 1.4-2.3 1.4-2.4 1.5-1.6 1.4-2.4 1.4-1.7 1.5-2.3 1.4-2.7 1.4-1.6 1.5-2.4 1.4-2.1 1.5-2.2 1.4-1.8 1.4-2.6 1.5-1.8 1.4-2.7 1.4-1.6 1.5-2.6 1.4-2.1 1.4-1.8 1.5-2.4 1.4-1.5 1.5-2.8 1.4-1.4 1.4-2.3 1.5-2.4 1.4-1.9 1.4-2.3 1.5-1.5 1.4-2.7 1.4-2.4 1.5-1.9 1.4-2.3 1.4-2 1.5-2.3 1.4-2.1 1.5-1.7 1.4-2.4 1.4-1.9 1.5-2.4 1.4-2.1 1.4-2.2 1.5-1.6 1.4-2 1.4-2.7 1.5-1.8 1.4-2.8 1.5-2 1.4-1.6 1.4-2.8 1.5-.8 1.4-2.6 1.4-1.9 1.5-2.6 1.4-2.5 1.4-2 1.5-2.1 1.4-1.6 1.5-2.6 1.4-2.1 1.4-1.4 1.5-2.9 1.4-1.9 1.4-1.5 1.5-1.8 1.4-3.3 1.4-2.3 1.5-1.6 1.4-1.8 1.4-2.2 1.5-2.3 1.4-2.3 1.5-1.5 1.4-2.5 1.4-2.1 1.5-1.9 1.4-1.6 1.4-2.6 1.5-1.3 1.4-3 1.4-1.8 1.5-2.9 1.4-1.7 1.5-1.9 1.4-2.3 1.4-2.1 1.5-2 1.4-2.3 1.4-2 1.5-1.9 1.4-2 1.4-2.6 1.5-1.8 1.4-2.3 1.4-1.6 1.5-1.9 1.4-2.5 1.5-2.1 1.4-2.3 1.4-1.9 1.5-2.3 1.4-2.4"/>
<path stroke="#4a88ee" d="M747.5 715.6l 1.4-1.5 1.5-2.2 1.4-1.3 1.4-2.2 1.5-2.5 1.4-1.7 1.5-2.1 1.4-1.1 1.4-2.8 1.5-2 1.4-1.9 1.4-2.1 1.5-2.1 1.4-2.3 1.4-1.7 1.5-2 1.4-2.4 1.4-1.6 1.5-2.4 1.4-2.1 1.5-1.6 1.4-1.8 1.4-1.9 1.5-2.4 1.4-2.3 1.4-1.9 1.5-1.8 1.4-2 1.4-1.8 1.5-2.2 1.4-1.6 1.5-2.5 1.4-1.7 1.4-2 1.5-2.1 1.4-1.9 1.4-2.5 1.5-1.5 1.4-2.4 1.4-1.9 1.5-2.3 1.4-1.6 1.4-2.2 1.5-2.1 1.4-1.6 1.5-2.5 1.4-1.7 1.4-2 1.5-1.9 1.4-2.2 1.4-2.4 1.5-1.6 1.4-2 1.4-1.5 1.5-2.1 1.4-2.3 1.5-2 1.4-3.1 1.4-1.4 1.5-2.2 1.4-1.5 1.4-2 1.5-2.1 1.4-2 1.4-2.1 1.5-2.2 1.4-2.2 1.5-1.6 1.4-2.3 1.4-1.6 1.5-2.5 1.4-2 1.4-2.2 1.5-1.6 1.4-2.4 1.4-2.5 1.5-1.6 1.4-2 1.4-1.8 1.5-2.2 1.4-1.5 1.5-2.3 1.4-1.8 1.4-1.9 1.5-2.2 1.4-2 1.4-2.5 1.5-1.7 1.4-2.2 1.4-1.8 1.5-2.4 1.4-1.7 1.5-2.4 1.4-1.6 1.4-1.9 1.5-2 1.4-2.5 1.4-1.5 1.5-3 1.4-1.4 1.4-2.6 1.5-1.5 1.4-2.4 1.4-1.7 1.5-2.3 1.4-1.4 1.5-1.7 1.4-2.5 1.4-1.9 1.5-2.2 1.4-2.2 1.4-2.1 1.5-2.3 1.4-2 1.4-1.5 1.5-2.4 1.4-1.8 1.5-2.4 1.4-1.1 1.4-2.3 1.5-2.5 1.4-1.4 1.4-2.4 1.5-1.9 1.4-2.4 1.4-2.1 1.5-1.5 1.4-2.3 1.4-2 1.5-2 1.4-2.3 1.5-2.2 1.4-1.8 1.4-2.7 1.5-1.5 1.4-1.8 1.4-2.4 1.5-1.4 1.4-2.7 1.4-2.3 1.5-1.5 1.4-2.3 1.5-1.8 1.4-2.4 1.4-1.7 1.5-2.2 1.4-2 1.4-1.8 1.5-2.6 1.4-1.9 1.4-1.6 1.5-2.1 1.4-2.2 1.5-2.5 1.4-1.7 1.4-2.2 1.5-2 1.4-2.5 1.4-2.2 1.5-1.1 1.4-2.1 1.4-2.7 1.5-1.7 1.4-1.9 1.4-2.3 1.5-1.7 1.4-2.3 1.5-2.3 1.4-1.8 1.4-1.7 1.5-2.5 1.4-1.5 1.4-2 1.5-2.2 1.4-2.1 1.4-2.2 1.5-1.8 1.4-2.4 1.5-2.6 1.4-1.5 1.4-1.4 1.5-2.1 1.4-2.7 1.4-1.8 1.5-2.1 1.4-2.2 1.4-1.8 1.5-1.7 1.4-2.2 1.4-2.1 1.5-2.6 1.4-.7 1.5-3.1 1.4-1.7 1.4-1.8 1.5-2.2 1.4-1.8 1.4-3 1.5-1.6 1.4-1.9 1.4-2.3 1.5-2.1 1.4-1.3 1.5-2.6 1.4-1.4 1.4-2 1.5-2.4 1.4-2.4 1.4-1.7 1.5-2.1 1.4-2 1.4-2.1 1.5-1.7 1.4-2.2 1.4-1.9 1.5-2.1 1.4-1.6 1.5-1.8 1.4-2.6 1.4-2.1 1.5-2.1 1.4-1.7 1.4-2.1 1.5-2.2 1.4-2.1 1.4-1.8 1.5-1.9 1.4-2.5 1.5-1.7 1.4-2.7 1.4-1.7 1.5-1.7 1.4-2.6 1.4-2.1 1.5-1.5 1.4-2.7 1.4-1.5 1.5-1.4 1.4-2.6 1.5-1.6 1.4-2.1 1.4-2.7 1.5-1.9 1.4-1.9 1.4-1.8 1.5-1.9 1.4-2.3 1.4-2.1 1.5-2.5 1.4-1.4 1.4-2.6 1.5-1.5 1.4-2 1.5-2.8 1.4-1.1 1.4-2.7 1.5-1.7 1.4-2 1.4-1.8 1.5-2.2 1.4-1.9 1.4-2.3 1.5-2.6 1.4-1.8 1.5-1.8 1.4-2 1.4-2.3 1.5-2.3 1.4-2.2 1.4-1.6 1.5-1.2 1.4-2.9 1.4-2.2 1.5-1.7 1.4-1.9 1.4-2.2 1.5-2.7 1.4-1.7 1.5-2 1.4-1.7 1.4-2.4 1.5-1.9 1.4-2.3"/>
<path stroke="#48b89a" d="M747.5 687.5l 1.4-2 1.5-2.2 1.4-1.1 1.4-2.2 1.5-1.6 1.4-1.9 1.5-1.3 1.4-2.2 1.4-1.9 1.5-2 1.4-2 1.4-1.4 1.5-1.6 1.4-2.2 1.4-2.4 1.5-1.4 1.4-1 1.4-2.6 1.5-1.5 1.4-2.5 1.5-1.4 1.4-1.9 1.4-1.3 1.5-1.9 1.4-1.8 1.4-1.7 1.5-2.3 1.4-1.1 1.4-2.5 1.5-1.4 1.4-1.5 1.5-2.6 1.4-1.5 1.4-2 1.5-1.7 1.4-1.8 1.4-1.9 1.5-1.8 1.4-1.7 1.4-2.4 1.5-1.7 1.4-1.7 1.4-2.1 1.5-1.3 1.4-2.1 1.5-1.9 1.4-2 1.4-1.7 1.5-1.4 1.4-2.4 1.4-1.2 1.5-1.9 1.4-1.9 1.4-2.5 1.5-1.5 1.4-1.3 1.5-2.3 1.4-2 1.4-1.8 1.5-1.5 1.4-2.5 1.4-1 1.5-2.1 1.4-2.2 1.4-1.4 1.5-2.8 1.4-1.4 1.5-1.4 1.4-1.4 1.4-2.7 1.5-1.9 1.4-1.4 1.4-1.9 1.5-2.1 1.4-1.8 1.4-1.2 1.5-2.6 1.4-2 1.4-1.5 1.5-1.4 1.4-2 1.5-2 1.4-2.2 1.4-1.5 1.5-.9 1.4-2.6 1.4-1.7 1.5-2.6 1.4-1.5 1.4-1.8 1.5-1.2 1.4-2.4 1.5-1.8 1.4-1.9 1.4-2.6 1.5-.6 1.4-2.7 1.4-1.4 1.5-2.2 1.4-1.5 1.4-1.8 1.5-1.8 1.4-1.2 1.4-2.6 1.5-1.6 1.4-1.5 1.5-2.1 1.4-1.9 1.4-1 1.5-2.2 1.4-2.3 1.4-1.4 1.5-2.2 1.4-1.4 1.4-2.4 1.5-1.1 1.4-1.9 1.5-1.8 1.4-2 1.4-1.7 1.5-2.1 1.4-1.5 1.4-1.7 1.5-1.8 1.4-2.2 1.4-1.4 1.5-2.3 1.4-1.7 1.4-1.9 1.5-1.7 1.4-1.6 1.5-1.6 1.4-1.7 1.4-2 1.5-2.2 1.4-1.3 1.4-1.8 1.5-2.3 1.4-2 1.4-1.4 1.5-1.2 1.4-2.5 1.5-1.8 1.4-1.5 1.4-2.4 1.5-1.8 1.4-1.6 1.4-1.5 1.5-2.2 1.4-1.9 1.4-2.1 1.5-.8 1.4-2.7 1.5-1.1 1.4-2.4 1.4-1.2 1.5-1.7 1.4-2.6 1.4-1.4 1.5-1.8 1.4-1.7 1.4-2.3 1.5-1.3 1.4-2.2 1.4-2.2 1.5-1.2 1.4-1.8 1.5-2.2 1.4-1.9 1.4-1.5 1.5-1.6 1.4-2.7 1.4-1.2 1.5-1.5 1.4-2.7 1.4-1.4 1.5-2 1.4-1.7 1.5-1.6 1.4-2.7 1.4-1.5 1.5-2.1 1.4-1.5 1.4-1.2 1.5-2.7 1.4-1.7 1.4-1.9 1.5-1.5 1.4-2.1 1.4-1.9 1.5-1.9 1.4-1.6 1.5-2.2 1.4-2.2 1.4-.8 1.5-2.1 1.4-2.1 1.4-1.7 1.5-1.5 1.4-2.3 1.4-1.6 1.5-2 1.4-1.3 1.5-3 1.4-1.5 1.4-.9 1.5-2.7 1.4-1.7 1.4-2 1.5-2.1 1.4-1.2 1.4-1.6 1.5-1.9 1.4-2.3 1.4-1.7 1.5-1.1 1.4-2.4 1.5-2 1.4-1.3 1.4-2.2 1.5-2.3 1.4-1.5 1.4-1.3 1.5-2.2 1.4-1.8 1.4-1.6 1.5-2.2 1.4-2.1 1.5-1.3 1.4-2 1.4-1.7 1.5-2 1.4-1.8 1.4-2.1 1.5-1.3 1.4-1.3 1.4-2.8 1.5-1 1.4-2 1.5-2.2 1.4-2 1.4-1.3 1.5-2.1 1.4-1.8 1.4-1.9 1.5-1.1 1.4-2.9 1.4-1.2 1.5-1.4 1.4-2.3 1.4-1.2 1.5-2.5 1.4-1.7 1.5-1.7 1.4-2.3 1.4-1.6 1.5-1.6 1.4-2.2 1.4-1.5 1.5-1.6 1.4-2.5 1.4-1.5 1.5-1.7 1.4-2.2 1.5-1.2 1.4-1.8 1.4-2.4 1.5-1.5 1.4-2.1 1.4-1.7 1.5-1.6 1.4-2.1 1.4-1.7 1.5-2 1.4-1.3 1.4-2 1.5-2.2 1.4-1.5 1.5-1.2 1.4-2.7 1.4-1.3 1.5-1.5 1.4-2.7"/>
<path stroke="#3ee83a" d="M747.5 656.5l 1.4-1.7 1.5-1.5 1.4-1.8 1.4-2 1.5-.5 1.4-1.8 1.5-1.7 1.4-1.6 1.4-1.6 1.5-2 1.4-.6 1.4-2.6 1.5-1.8 1.4-.7 1.4-2.3 1.5-1.5 1.4-1.9 1.4-1.4 1.5-1.4 1.4-1.6 1.5-2.1 1.4-1 1.4-2.1 1.5-1.9 1.4-.8 1.4-1.8 1.5-1.8 1.4-1.7 1.4-1.2 1.5-1.9 1.4-1.7 1.5-1.3 1.4-1.7 1.4-2 1.5-.9 1.4-2.4 1.4-1.4 1.5-1.2 1.4-1.8 1.4-1.3 1.5-1.7 1.4-2.5 1.4-.5 1.5-2.2 1.4-1.4 1.5-1.9 1.4-1.7 1.4-1.1 1.5-1.6 1.4-1.7 1.4-1.8 1.5-1 1.4-1.9 1.4-1.6 1.5-1.7 1.4-1.6 1.5-1.3 1.4-1.7 1.4-1.5 1.5-1.9 1.4-1.7 1.4-2 1.5-1.3 1.4-1.7 1.4-1.7 1.5-1.3 1.4-1.6 1.5-1.8 1.4-1.9 1.4-1.2 1.5-1.6 1.4-1.5 1.4-1.9 1.5-1.8 1.4-1.8 1.4-1 1.5-1.8 1.4-1.3 1.4-2.2 1.5-.8 1.4-2.1 1.5-1.6 1.4-1.5 1.4-1.4 1.5-1.6 1.4-2.4 1.4-1.2 1.5-1.4 1.4-1.5 1.4-1.8 1.5-1.9 1.4-1.2 1.5-1.8 1.4-1.6 1.4-1.2 1.5-2.1 1.4-1.4 1.4-1.3 1.5-1.8 1.4-2.3 1.4-1.6 1.5-1.9 1.4-.6 1.4-2 1.5-1.8 1.4-1.5 1.5-1.9 1.4-1.1 1.4-2 1.5-1.1 1.4-1.8 1.4-1.7 1.5-1.5 1.4-1.8 1.4-1.6 1.5-1.2 1.4-1.5 1.5-2 1.4-1.3 1.4-2.5 1.5-1.2 1.4-1.6 1.4-1.8 1.5-1.3 1.4-1.2 1.4-2.1 1.5-1.4 1.4-1.6 1.4-1.6 1.5-2 1.4-1.8 1.5-1.1 1.4-1.7 1.4-2 1.5-1 1.4-2.4 1.4-1.7 1.5-1.3 1.4-2 1.4-1.3 1.5-1.6 1.4-1.7 1.5-1.4 1.4-2.1 1.4-1.9 1.5-.7 1.4-1.6 1.4-1.6 1.5-2 1.4-1.3 1.4-1.9 1.5-1.1 1.4-2.4 1.5-1.1 1.4-1.9 1.4-1.2 1.5-1.8 1.4-2.2 1.4-1.1 1.5-1.8 1.4-1.2 1.4-1.5 1.5-2.2 1.4-1.1 1.4-2.1 1.5-1.4 1.4-1.4 1.5-1.3 1.4-1.8 1.4-1.6 1.5-1.9 1.4-1.5 1.4-1.4 1.5-1.7 1.4-1.6 1.4-1.5 1.5-1.2 1.4-1.7 1.5-1.6 1.4-1.8 1.4-2 1.5-1.7 1.4-1.2 1.4-1.9 1.5-1.9 1.4-1.1 1.4-.8 1.5-2.3 1.4-1.5 1.4-1.7 1.5-1.5 1.4-2 1.5-1.2 1.4-1.4 1.4-1.8 1.5-1.5 1.4-1.7 1.4-1.4 1.5-2.1 1.4-1.9 1.4-1.1 1.5-1.5 1.4-1.4 1.5-2 1.4-1.3 1.4-1.6 1.5-1.4 1.4-1.9 1.4-1.3 1.5-1.6 1.4-1.9 1.4-1.6 1.5-1.6 1.4-1.7 1.4-1.6 1.5-1.7 1.4-1.1 1.5-1.7 1.4-1.7 1.4-1.6 1.5-1.6 1.4-1.2 1.4-1.7 1.5-2 1.4-1.3 1.4-2.3 1.5-1.3 1.4-1.6 1.5-1.3 1.4-1.9 1.4-1.7 1.5-1.6 1.4-1.8 1.4-1.6 1.5-1.5 1.4-1.2 1.4-1.7 1.5-1.4 1.4-1.4 1.5-1.8 1.4-2.4 1.4-1.3 1.5-1 1.4-2 1.4-1.5 1.5-1.7 1.4-2.1 1.4-1 1.5-1.8 1.4-1.9 1.4-1.2 1.5-1.3 1.4-2.2 1.5-1.9 1.4-1.3 1.4-1.8 1.5-2.1 1.4-1 1.4-1.4 1.5-2 1.4-1.4 1.4-1.6 1.5-1.7 1.4-1.6 1.5-1.7 1.4-1.6 1.4-1.6 1.5-1.4 1.4-1.9 1.4-1.7 1.5-1.2 1.4-2 1.4-.8 1.5-2.3 1.4-1 1.4-2.1 1.5-1.6 1.4-1.5 1.5-1.7 1.4-1.8 1.4-1.7 1.5-1.8 1.4-1.6"/>
<path stroke="#80f030" d="M747.5 619.6l 1.4-1.1 1.5-2.1 1.4-1.2 1.4-1.3 1.5-1.9 1.4-1 1.5-1.3 1.4-1.2 1.4-1.3 1.5-2.1 1.4-.4 1.4-1.7 1.5-1 1.4-1.3 1.4-1.6 1.5-.7 1.4-2.6 1.4-.8 1.5-1.3 1.4-.8 1.5-1.9 1.4-1.2 1.4-1.4 1.5-.7 1.4-2.2 1.4-1.6 1.5-1.2 1.4-1 1.4-1 1.5-2.7 1.4-.9 1.5-.5 1.4-1.9 1.4-1.5 1.5-1.2 1.4-1.5 1.4-1.4 1.5-.9 1.4-1.7 1.4-.5 1.5-2.8 1.4-.2 1.4-1.8 1.5-.5 1.4-2.3 1.5-.8 1.4-.9 1.4-1.7 1.5-1.7 1.4-1.2 1.4-1.2 1.5-.9 1.4-1.8 1.4-1.1 1.5-2 1.4-.9 1.5-.9 1.4-1.8 1.4-1.4 1.5-1.3 1.4-.8 1.4-1.6 1.5-1.3 1.4-1.7 1.4-1.7 1.5-.3 1.4-1.9 1.5-.8 1.4-1.5 1.4-1.7 1.5-1.5 1.4-.6 1.4-2.3 1.5-1.4 1.4 0 1.4-2.1 1.5-1 1.4-1 1.4-1 1.5-2.3 1.4-1.1 1.5-.9 1.4-1.7 1.4-1.6 1.5-.7 1.4-2.3 1.4-.4 1.5-1.6 1.4-1.4 1.4-1.5 1.5-1.2 1.4-.9 1.5-1.6 1.4-1.1 1.4-1.5 1.5-1.7 1.4-1.3 1.4-1.3 1.5-1.5 1.4-.7 1.4-2.2 1.5-.3 1.4-2.2 1.4-1.4 1.5-1.1 1.4-1.8 1.5-.3 1.4-1.4 1.4-1.4 1.5-1.3 1.4-1.5 1.4-2.4 1.5-.5 1.4-1.8 1.4-.8 1.5-1.8 1.4-1.4 1.5-1.5 1.4-.8 1.4-1.2 1.5-2.1 1.4-.8 1.4-1.4 1.5-1.5 1.4-1.4 1.4-.9 1.5-1.3 1.4-1.5 1.4-1.4 1.5-1.3 1.4-1.8 1.5-1.2 1.4-1.3 1.4-1.7 1.5-.8 1.4-.9 1.4-1.3 1.5-2.2 1.4-1.4 1.4-1.5 1.5-.8 1.4-1.6 1.5-.9 1.4-2.1 1.4-.9 1.5-1.6 1.4-1.1 1.4-1.5 1.5-1.9 1.4-.4 1.4-1.6 1.5-1.3 1.4-1.5 1.5-1.6 1.4-1 1.4-1.1 1.5-1 1.4-1.9 1.4-1.6 1.5-.7 1.4-1.8 1.4-1.4 1.5-1.3 1.4-1.1 1.4-2 1.5-.9 1.4-1.4 1.5-1.5 1.4-.6 1.4-2.5 1.5-.8 1.4-1.3 1.4-1.4 1.5-.9 1.4-2.6 1.4-.7 1.5-1.6 1.4-1.5 1.5-1.1 1.4-1 1.4-1.6 1.5-.6 1.4-2.6 1.4-.7 1.5-1.4 1.4-1.4 1.4-1.2 1.5-1.7 1.4-1.1 1.4-1.6 1.5-1.4 1.4-1.6 1.5-1.1 1.4-1 1.4-1.8 1.5-.9 1.4-1.7 1.4-1.3 1.5-.9 1.4-2.3 1.4-1 1.5-1 1.4-1.5 1.5-1.4 1.4-1 1.4-2 1.5-1.1 1.4-.8 1.4-2.4 1.5-.7 1.4-1.4 1.4-1.4 1.5-1.4 1.4-1.8 1.4-1 1.5-1.4 1.4-1.2 1.5-1.5 1.4-.7 1.4-1.6 1.5-1 1.4-1.7 1.4-1.6 1.5-1.2 1.4-1.1 1.4-2.1 1.5-1.6 1.4-1.3 1.5-.6 1.4-1.8 1.4-1.3 1.5-1.2 1.4-1.1 1.4-1.7 1.5-1.5 1.4-1.3 1.4-.9 1.5-1.6 1.4-1.1 1.5-1.2 1.4-1.8 1.4-1.5 1.5-1.5 1.4-1.1 1.4-1.5 1.5-1 1.4-1.8 1.4-.8 1.5-1.6 1.4-.9 1.4-2 1.5-.9 1.4-1.2 1.5-2.1 1.4-.7 1.4-1.7 1.5-1.4 1.4-1.6 1.4-.8 1.5-1.6 1.4-1.2 1.4-1 1.5-2.7 1.4 .1 1.5-.9 1.4-2.1 1.4-1.5 1.5-1.2 1.4-1 1.4-.8 1.5-2.5 1.4-2.1 1.4-.2 1.5-1.5 1.4-1.4 1.4-1.3 1.5-2 1.4-.5 1.5-1.7 1.4-1 1.4-1.6 1.5-1.5 1.4-1.6"/>
<path stroke="#d0e830" d="M747.5 583.7l 1.4-.5 1.5-.9 1.4-2.2 1.4 0 1.5-2 1.4-.5 1.5-1.3 1.4-1.4 1.4-1.2 1.5-1.1 1.4-1.2 1.4-.8 1.5-.7 1.4-1.5 1.4-.3 1.5-1.9 1.4-1.2 1.4-.8 1.5-.6 1.4-1.9 1.5-.8 1.4-.7 1.4-1.6 1.5-.8 1.4-1.3 1.4-1.1 1.5-1.1 1.4-1.2 1.4-.7 1.5-1.9 1.4-1 1.5-.9 1.4-1.4 1.4-.9 1.5-1.2 1.4-.7 1.4-1.6 1.5-.6 1.4-1.3 1.4-.5 1.5-2 1.4-1.1 1.4-1.1 1.5-1 1.4-1 1.5-.6 1.4-1.6 1.4-.8 1.5-1.1 1.4-.9 1.4-1.8 1.5-.9 1.4-.8 1.4-.6 1.5-1.8 1.4-1.1 1.5-.6 1.4-1.3 1.4-1.2 1.5-.5 1.4-2 1.4-.5 1.5-.7 1.4-1.9 1.4-.2 1.5-1.6 1.4-1.3 1.5-.6 1.4-1.6 1.4-2 1.5-.2 1.4-1.3 1.4-1.5 1.5-.4 1.4-1.5 1.4-1.2 1.5-.1 1.4-1.4 1.4-1 1.5-1 1.4-2.1 1.5 0 1.4-2.1 1.4-1.2 1.5-.6 1.4-1.4 1.4-.3 1.5-1.8 1.4-.8 1.4-1.3 1.5-1.3 1.4-1 1.5-1.1 1.4-.9 1.4-1.2 1.5-.8 1.4-1.4 1.4-.9 1.5-.7 1.4-1.4 1.4-.3 1.5-2.1 1.4-1 1.4-.9 1.5-.9 1.4-1.3 1.5-1.3 1.4-1.2 1.4-1.1 1.5-1 1.4-1.6 1.4-.9 1.5-1.1 1.4-.2 1.4-1.4 1.5-.9 1.4-1.5 1.5-.9 1.4-1.5 1.4-1.4 1.5-.5 1.4-1.2 1.4-1.1 1.5-1.3 1.4-.4 1.4-1 1.5-1.2 1.4-.8 1.4-1.8 1.5-.5 1.4-1.3 1.5-1.3 1.4-.8 1.4-1.4 1.5-.9 1.4-.9 1.4-1.7 1.5 0 1.4-1.2 1.4-1.1 1.5-.8 1.4-1.5 1.5-1 1.4-.8 1.4-1.8 1.5-1.3 1.4-.3 1.4-1.5 1.5-.7 1.4-1.2 1.4-1.5 1.5-.8 1.4-1.5 1.5-.7 1.4-1.2 1.4-.8 1.5-.6 1.4-1.7 1.4-1.3 1.5-.9 1.4-1.2 1.4-1.2 1.5-.8 1.4-1.6 1.4-1 1.5-.7 1.4-.9 1.5-1.2 1.4-1.4 1.4-.6 1.5-1.4 1.4-.6 1.4-1.5 1.5-1.3 1.4-1.5 1.4-.3 1.5-1.2 1.4-.9 1.5-1.8 1.4-1.3 1.4-.3 1.5-1.5 1.4-2 1.4 0 1.5-1.8 1.4-.1 1.4-1.2 1.5-2.2 1.4-.4 1.4-1.2 1.5-.9 1.4-1.7 1.5-1.2 1.4-.3 1.4-2 1.5-.5 1.4-.9 1.4-1.1 1.5-1.2 1.4-.4 1.4-1.5 1.5-1.5 1.4-1.1 1.5-1.3 1.4-.8 1.4-.4 1.5-1.6 1.4-1.3 1.4-1.5 1.5-1.5 1.4-.3 1.4-1.3 1.5-.7 1.4-1.6 1.4-.5 1.5-1.4 1.4-1.2 1.5-.7 1.4-1.4 1.4-.9 1.5-1.3 1.4-.7 1.4-1.8 1.5-.5 1.4-.9 1.4-1 1.5-1.2 1.4-.8 1.5-1.5 1.4-.2 1.4-2.2 1.5-1.6 1.4-1.1 1.4-1 1.5-.4 1.4-1.7 1.4-1 1.5-.4 1.4-1.9 1.5-.4 1.4-.8 1.4-1 1.5-1.4 1.4-1.6 1.4-1 1.5-.2 1.4-1 1.4-1.9 1.5-.6 1.4-1.1 1.4-1.5 1.5-.6 1.4-1.8 1.5-.5 1.4-1.1 1.4-1.4 1.5-1.3 1.4-.3 1.4-1.9 1.5-1.2 1.4-1.3 1.4-.7 1.5-1.1 1.4-1.3 1.5-.4 1.4-1.5 1.4-.9 1.5-1.8 1.4-.7 1.4-.4 1.5-1.3 1.4-1.3 1.4-.9 1.5-1.3 1.4-1.2 1.4-1.1 1.5-1 1.4-1.4 1.5-.3 1.4-.9 1.4-1.9 1.5-1.2 1.4-.2"/>
<path stroke="#e0702a" d="M747.5 553.4l 1.4-1 1.5-.7 1.4-1.5 1.4-.9 1.5-1 1.4-.3 1.5-1.1 1.4-.7 1.4-1.4 1.5-.9 1.4-.8 1.4-.9 1.5-1 1.4-.2 1.4-1.4 1.5-2 1.4-.1 1.4-.6 1.5-1 1.4-.9 1.5-1.1 1.4-.1 1.4-1.9 1.5-.3 1.4-.8 1.4-.9 1.5-.4 1.4-2.2 1.4-.8 1.5-.4 1.4-.9 1.5-.9 1.4-1.4 1.4-.7 1.5-.1 1.4-1.3 1.4-.8 1.5-.8 1.4-.6 1.4-1.7 1.5-.7 1.4-1.6 1.4-.4 1.5-.7 1.4-.7 1.5-1.5 1.4-1.1 1.4-.7 1.5-1.4 1.4-.4 1.4-.5 1.5-.7 1.4-.4 1.4-1.5 1.5-1.2 1.4-.5 1.5-1.1 1.4-.3 1.4-.8 1.5-2 1.4-.3 1.4 .1 1.5-1.2 1.4-1.4 1.4-2 1.5 .7 1.4-1 1.5-1 1.4-.5 1.4-1 1.5-.7 1.4-1.2 1.4-.8 1.5-.6 1.4-1.1 1.4-1.2 1.5-.9 1.4-.1 1.4-1.3 1.5-.9 1.4-.7 1.5-.3 1.4-2 1.4-.9 1.5 .2 1.4-1 1.4-.1 1.5-1.6 1.4-1.3 1.4-.2 1.5-.8 1.4-.8 1.5-.8 1.4-.1 1.4-1.8 1.5-.6 1.4-1 1.4-1.5 1.5-.6 1.4-.7 1.4-.7 1.5-1.2 1.4 .2 1.4-1.5 1.5-1.2 1.4-.8 1.5-.5 1.4-1.2 1.4-1 1.5-1 1.4-.4 1.4-.1 1.5-2.7 1.4 0 1.4-.7 1.5-1.2 1.4 .3 1.5-1.7 1.4-1.6 1.4-.1 1.5-1.4 1.4-.1 1.4-1.3 1.5-.4 1.4-1.8 1.4-.4 1.5-.4 1.4-1.6 1.4-1.2 1.5-.7 1.4-.7 1.5-1.1 1.4-.6 1.4-.6 1.5-1.7 1.4-1.2 1.4-.7 1.5-1.2 1.4-.6 1.4-.6 1.5-1.5 1.4-.2 1.5-.9 1.4-1.6 1.4-.4 1.5-1.4 1.4 0 1.4-1.2 1.5-.6 1.4-.5 1.4-1.2 1.5-1.1 1.4-.8 1.5-1.2 1.4-.7 1.4-.2 1.5-1.8 1.4-.7 1.4-.7 1.5-.9 1.4-.7 1.4-1.6 1.5-.7 1.4-.6 1.4-.8 1.5-.7 1.4-1 1.5-1 1.4-1.3 1.4-.9 1.5-.9 1.4-.1 1.4-.5 1.5-1.9 1.4-1 1.4-.5 1.5-.6 1.4-1.2 1.5-.8 1.4-.5 1.4-.9 1.5-1.2 1.4-1.2 1.4-.5 1.5-.3 1.4-2 1.4 .4 1.5-1.4 1.4-.4 1.4-1.7 1.5-1 1.4-1.1 1.5-.2 1.4-1 1.4-1 1.5-.7 1.4-.8 1.4-1.3 1.5-.2 1.4-1.9 1.4-.5 1.5-.5 1.4-1.1 1.5-.7 1.4-1.5 1.4-.4 1.5-.8 1.4-1.4 1.4-.1 1.5-1.6 1.4-.7 1.4-1.1 1.5-.3 1.4-1.2 1.4-.3 1.5-.8 1.4-1.4 1.5-.5 1.4-.4 1.4-2.2 1.5-.9 1.4 .5 1.4-1.9 1.5 .7 1.4-1.7 1.4-2.1 1.5 .5 1.4-1.3 1.5-.7 1.4-.6 1.4-1.4 1.5-.7 1.4-.7 1.4-1.6 1.5-.2 1.4-.7 1.4-.9 1.5-.8 1.4-.9 1.5-1.6 1.4-.5 1.4-1.2 1.5 0 1.4-.5 1.4-1.2 1.5-1.7 1.4-.2 1.4-.4 1.5-1 1.4-.7 1.4-.8 1.5-1.6 1.4-.4 1.5-.8 1.4-1.3 1.4-.7 1.5-.7 1.4-.1 1.4-1.2 1.5-1.3 1.4-.8 1.4-1.5 1.5-.2 1.4-.5 1.5-1.5 1.4-.5 1.4-.5 1.5-1.6 1.4-1.3 1.4-.4 1.5-.9 1.4 .2 1.4-2 1.5-.8 1.4-.5 1.4-1.6 1.5-.7 1.4-.9 1.5-.9 1.4-.7 1.4-.9 1.5-1.9 1.4 .4"/>
<path stroke="#e8140a" d="M747.5 535.7l .8-1.6 .7 .4 .8-.2 .8 2.2 .8-5.1 .7 3.4 .8-1.6 .8 1.6 .7-1.8 .8 .7 .8-1.7 .8 .3 .7-.3 .8-1.2 .8-2.4 .7 .8 .8 1.9 .8-2.7 .8 1.3 .7-1.1 .8-.6 .8 0 .7 1.2 .8 .1 .8-3.4 .8 .3 .7 0 .8 .5 .8 .5 .7-2 .8 .3 .8-.9 .7 4.4 .8-6.3 .8 1.7 .8-1.8 .7-.1 .8 0 .8-2.8 .7 .5 .8 .2 .8-1.3 .8-2.3 .7 4.4 .8-2.6 .8-.9 .7-1.4 .8 0 .8 .1 .8 .5 .7-4 .8 2.4 .8-1.4 .7 .3 .8 .4 .8-2.3 .8 .9 .7 0 .8 1.1 .8-4.2 .7-.3 .8 1.8 .8-1.7 .8 2.5 .7-2.4 .8 3.3 .8-3.1 .7-5.4 .8 5.1 .8-2 .8 .3 .7-.2 .8-.4 .8-.1 .7-1.2 .8 .7 .8-1.2 .8-1.2 .7 .9 .8-1.2 .8 1 .7-1.4 .8-.3 .8 1 .7-3.3 .8 1.9 .8-1.4 .8-1.4 .7 1.6 .8-2.2 .8 .9 .7 .6 .8-2.6 .8 3.2 .8-1.5 .7-5 .8 1.2 .8 1.6 .7-2.4 .8-.4 .8-1.3 .8-2 .7 3.3 .8-.4 .8 .3 .7-1.1 .8-2.1 .8-1.4 .8 1.7 .7 .7 .8-4.6 .8 .3 .7 2.9 .8-2.8 .8-.1 .8 3 .7-6.8 .8 2.4 .8 0 .7-1.4 .8 .3 .8-.2 .8 0 .7-1.8 .8-.4 .8 .3 .7-.5 .8-1.5 .8-.1 .8 3.5 .7-1.4 .8-2.5 .8-.6 .7-1.1 .8 .9 .8-1.7 .7-2.2 .8 2.9 .8-2.4 .8 .2 .7-.1 .8-.9 .8-.8 .7 .1 .8 .3 .8 1.1 .8-1.3 .7 .4 .8-1 .8-1.4 .7 .7 .8-1.7 .8-.8 .8 .8 .7-.6 .8 .6 .8-1.7 .7-2.1 .8 1.7 .8 .6 .8-3.2 .7-1.3 .8 1.1 .8-1.7 .7 1.5 .8-.6 .8-3.5 .8 2 .7 1.7 .8-1.5 .8 0 .7-1.8 .8 .9 .8-2.4 .8 3.9 .7-2 .8-1.3 .8 .5 .7-.9 .8-.1 .8 .3 .8-.1 .7-3.1 .8 2.2 .8-2.1 .7-1.1 .8 1.4 .8-3.6 .7 .1 .8-.2 .8 1.7 .8-.5 .7 2.1 .8-3.7 .8-.4 .7-.2 .8-1.7 .8-.9 .8 .2 .7-.5 .8 .4 .8-1.2 .7 .6 .8-.3 .8 1.6 .8-3.4 .7-1.4 .8 .2 .8-3.6 .7 1.1 .8-.3 .8 2.5 .8-2.6 .7 2.5 .8 1.2 .8-5 .7 2 .8 3.2 .8-5.4 .8 1.6 .7-1.3 .8-3.3 .8 1.2 .7 .9 .8-.3 .8 .6 .8 .4 .7-.9 .8-1.3 .8 1.5 .7-2.8 .8 .2 .8-.8 .8 .6 .7-.7 .8-1 .8-.1 .7-1.1 .8-1.6 .8 3.9 .7-4.9 .8-.4 .8 3.3 .8-3.6 .7 .5 .8 2.4 .8-1.9 .7-1.7 .8-.4 .8 1.1 .8-1.2 .7-1.7 .8 3.8 .8-5.2 .7 2.8 .8 2.6 .8-2.7 .8-3.3 .7 1.7 .8 .9 .8-2 .7-1 .8 1.1 .8-3.1 .8 .9 .7 .3 .8-1.1 .8 .3 .7 .5 .8-.3 .8-1.2 .8-1.6 .7-.8 .8 .2 .8-.1 .7-.7 .8 3.1 .8-3.6 .8-.6 .7 2.1 .8-4.5 .8 .1 .7 .7 .8-1.8 .8 1.4 .8-1.8 .7 .7 .8 4 .8-3.2 .7-.9 .8 0 .8 .6 .7-3.4 .8 1.1 .8 1.7 .8-.5 .7-1.4 .8-3.4 .8 3.6 .7-3 .8-.3 .8 .2 .8 0 .7-1.3 .8-.2 .8-2.3 .7 .8 .8 .5 .8-2.4 .8-1.6 .7 2.1 .8 .6 .8-1 .7-1.5 .8 .9 .8-5.2 .8 4.1 .7-1.2 .8 1.3 .8-2.7 .7 2.4 .8-.4 .8-1.2 .8-1.6 .7-2.4 .8 0 .8 .8 .7 1 .8-5.8 .8 2.3 .8-1 .7 .7 .8 1.3 .8-1.7 .7-1.1 .8-1.6 .8 1.5 .8-4 .7 .5 .8 .5 .8-2.1 .7 .9 .8 1.1 .8-1 .7-.7 .8-2 .8 1 .8 1.6 .7-.8 .8-1 .8 .3 .7-1 .8-4.5 .8 6.8 .8-3.9 .7-1.3 .8 .4 .8-.7 .7 0 .8-.7 .8-.3 .8-.7 .7-.8 .8 .3 .8-.3 .7 .5 .8-1.4 .8-1.4 .8 .8 .7-1.5 .8 .2 .8 1 .7-1.7 .8-2.3 .8 .2 .8 1.3 .7-2.3 .8 1 .8 .4 .7-1.3 .8-.9 .8 2.1 .8-2.9 .7-.6 .8 .8 .8-1.3 .7 .4 .8 1.5 .8-.4 .8-1.1 .7-.6 .8 0 .8-.7 .7-2.1 .8 0 .8 1.4 .7-5.2 .8 5 .8-1.4 .8-1.1 .7 1.4 .8-2 .8 .3 .7 2 .8 .5 .8-6.9 .8 3.3 .7-1.7 .8-.5 .8-1.5 .7-1.4 .8 2.1 .8-1.5 .8-1.8 .7 2.4 .8-1.3 .8-2.7 .7 .4 .8 .8 .8-1.7 .8 .7 .7 .6 .8-.8 .8-2.2 .7 1.4 .8-2.7 .8 .9 .8 1.1 .7-1.3 .8-1 .8 4.4 .7-2.5 .8-2.5 .8-2.2 .8 3.2 .7-2.2 .8 .4 .8-2.4 .7 1.2 .8 0 .8-1.6 .8 .1 .7-1.1 .8 .1 .8-2 .7-.5 .8-1.8 .8 3.1 .7-2.1 .8-1 .8 2 .8-1.4 .7 3.1 .8-2.7 .8-1.7 .7 .4 .8 .3 .8-.1 .8 0 .7-2.5 .8 .9 .8-1.5 .7 .4 .8-1.6 .8-.4 .8-2.7 .7-.8 .8 4.7 .8-2.7 .7-2.7 .8 .9 .8-.5 .8 1.1 .7-1.3 .8 2.3 .8-4.1 .7 3.3 .8-1.2 .8-2.2 .8-1.9 .7-3.2 .8 3 .8-2.9 .7 .1 .8 1.6 .8-.4 .8-1.9 .7 .5 .8 1.9 .8-1 .7-1.3 .8 2.8 .8-7.9 .8 5 .7-2.7 .8 1.6 .8-2.4 .7-.3 .8 .6 .8-.6 .7 3.1 .8-.2 .8-1 .8-2.8 .7-.4 .8 1.1 .8-2.4 .7 .5 .8-1.7 .8-1.1 .8-1.1 .7 1.6 .8 .1 .8-.6 .7 .7 .8-2.8 .8 2.3 .8-1.8 .7-2.1 .8 1.4 .8-2.8 .7-2 .8 .9 .8 2 .8 .2 .7-6.2 .8 3.2"/>
</g>
<rect x="747.50" y="22.75" width="406.40" height="812.75" fill="none" stroke="#000" stroke-width="2"/>
<path d="M729.00 22.75H747.50 M729.00 225.94H747.50 M729.00 429.12H747.50 M729.00 632.31H747.50 M729.00 835.50H747.50 M747.50 835.50V854.00 M849.10 835.50V854.00 M950.70 835.50V854.00 M1052.30 835.50V854.00 M1153.90 835.50V854.00" stroke="#000" stroke-width="2" fill="none"/>
<text transform="translate(715.60 31.55) scale(1 1.040)" font-size="28.3" text-anchor="end">0.8</text>
<text transform="translate(715.60 234.74) scale(1 1.040)" font-size="28.3" text-anchor="end">0.4</text>
<text transform="translate(715.60 437.93) scale(1 1.040)" font-size="28.3" text-anchor="end">0.0</text>
<text transform="translate(715.60 641.11) scale(1 1.040)" font-size="28.3" text-anchor="end">−0.4</text>
<text transform="translate(715.60 844.30) scale(1 1.040)" font-size="28.3" text-anchor="end">−0.8</text>
<text transform="translate(747.50 889.00) scale(1 1.040)" font-size="28.3" text-anchor="middle">−8</text>
<text transform="translate(849.10 889.00) scale(1 1.040)" font-size="28.3" text-anchor="middle">−4</text>
<text transform="translate(950.70 889.00) scale(1 1.040)" font-size="28.3" text-anchor="middle">0</text>
<text transform="translate(1052.30 889.00) scale(1 1.040)" font-size="28.3" text-anchor="middle">4</text>
<text transform="translate(1153.90 889.00) scale(1 1.040)" font-size="28.3" text-anchor="middle">8</text>
<text transform="translate(905.10 944.0) scale(1.2 1.0)" font-size="28.5" font-style="italic" style="font-family:'Liberation Serif',serif;stroke-width:0">μ</text>
<text transform="translate(920.70 944.20) scale(1 1.040)" font-size="29.0"><tspan font-size="20" dy="7">0</tspan><tspan font-style="italic" dy="-7">H</tspan> (T)</text>
<text transform="translate(625.40 23.00) scale(1 1.040)" font-size="29.0" font-weight="bold">b</text>
<text transform="translate(1136.60 819.80) scale(1 1.040)" font-size="29.0" text-anchor="end">P78</text>
<path d="M772.10 61.80H837.40" stroke="#7020a8" stroke-width="2.2"/>
<text transform="translate(844.60 72.00) scale(1 1.040)" font-size="29.0">40 K</text>
<path d="M772.10 97.48H837.40" stroke="#5030d8" stroke-width="2.2"/>
<text transform="translate(844.60 107.68) scale(1 1.040)" font-size="29.0">50 K</text>
<path d="M772.10 133.16H837.40" stroke="#4a88ee" stroke-width="2.2"/>
<text transform="translate(844.60 143.36) scale(1 1.040)" font-size="29.0">60 K</text>
<path d="M772.10 168.84H837.40" stroke="#48b89a" stroke-width="2.2"/>
<text transform="translate(844.60 179.04) scale(1 1.040)" font-size="29.0">80 K</text>
<path d="M772.10 204.52H837.40" stroke="#3ee83a" stroke-width="2.2"/>
<text transform="translate(844.60 214.72) scale(1 1.040)" font-size="29.0">100 K</text>
<path d="M772.10 240.20H837.40" stroke="#80f030" stroke-width="2.2"/>
<text transform="translate(844.60 250.40) scale(1 1.040)" font-size="29.0">130 K</text>
<path d="M772.10 275.88H837.40" stroke="#d0e830" stroke-width="2.2"/>
<text transform="translate(844.60 286.08) scale(1 1.040)" font-size="29.0">160 K</text>
<path d="M772.10 311.56H837.40" stroke="#e0702a" stroke-width="2.2"/>
<text transform="translate(844.60 321.76) scale(1 1.040)" font-size="29.0">200 K</text>
<path d="M772.10 347.24H837.40" stroke="#e8140a" stroke-width="2.2"/>
<text transform="translate(844.60 357.44) scale(1 1.040)" font-size="29.0">240 K</text>
<g fill="none" stroke-width="2" stroke-linejoin="round">
<path stroke="#7020a8" d="M1357.0 757.3l .7 4.7 .6-6.7 .7-3.7 .7-2.7 .6-1.5 .7-.1 .7-1.6 .6-1.1 .7-6.1 .7 1.2 .7 2.7 .6-2.7 .7-.1 .7 1.2 .6-11.8 .7 6.5 .7-8 .6 7.7 .7 2.9 .7 .8 .6-.1 .7-14.1 .7 5.6 .6-8 .7 3.8 .7-1.5 .6 .7 .7-6.3 .7 1.1 .7-11.6 .6 4 .7-2.4 .7 5.9 .6-9.1 .7 .4 .7 2.5 .6-3.9 .7-.8 .7 0 .6-4 .7-2.4 .7-.4 .6-4.4 .7 8.4 .7-3.9 .6-2.6 .7 6.4 .7-10.7 .7 6.3 .6-6.6 .7-5.5 .7 4.8 .6-8 .7 9.1 .7-8.5 .6 1.9 .7-.7 .7-2.7 .6 3.9 .7-9.8 .7-6.7 .6 7.5 .7-.7 .7-3.5 .6 1.3 .7-.2 .7-1.4 .7-2.9 .6 2.4 .7-6.3 .7-1.4 .6-1.6 .7-.6 .7-8.8 .6 5.5 .7-7.9 .7 5.8 .6-3.9 .7 .2 .7-4.1 .6 4.8 .7-3.8 .7 .2 .6-4.5 .7 1.2 .7 0 .7 2.7 .6-7.6 .7-5.2 .7 4 .6 1.5 .7-4.4 .7-2.4 .6-1 .7 5.1 .7-5.3 .6-2.2 .7-.6 .7-1 .6-1 .7 .4 .7-3.5 .6-2.9 .7 1.3 .7-9.9 .7 3.8 .6 3 .7-6.5 .7 0 .6-6.3 .7 8.6 .7-8.1 .6 2.7 .7 1.8 .7-13.2 .6 6 .7-3.5 .7-3.5 .6 3.4 .7-.2 .7-5.6 .6 7.5 .7-1.4 .7-1.2 .7-1.4 .6-14.5 .7 7.9 .7 .2 .6 5.6 .7-6.9 .7-3.2 .6-.7 .7 2.3 .7-4.6 .6 1.5 .7-1.6 .7-9.3 .6 12.4 .7-6.3 .7-1.6 .6 6.7 .7-5.7 .7-11.6 .7 11.7 .6-5.7 .7-1.6 .7-3.8 .6 6.9 .7-1 .7-10.1 .6 2.4 .7-2.3 .7-3.2 .6 2.3 .7-2.2 .7-4.3 .6 4.4 .7 6.6 .7-11.3 .6 5.7 .7-8.3 .7 .4 .7-4.5 .6 5.1 .7-3.8 .7-5.6 .6-2.9 .7 6.3 .7-8.1 .6 1.7 .7 1.9 .7 3 .6-7.8 .7-4.2 .7-5.2 .6 7.1 .7-3 .7 10 .6-.7 .7-9.8 .7 .7 .7 2.3 .6-8.2 .7 2.5 .7-.1 .6-1.8 .7-4.3 .7-5.5 .6 7.7 .7-3.5 .7-5 .6 1.2 .7-1.6 .7 2.1 .6-10.2 .7 7.6 .7-5.9 .6-5 .7 7.5 .7 .2 .7-2.7 .6-4.1 .7-6.1 .7 2 .6-.9 .7-3.3 .7 4.5 .6-2 .7-1.4 .7 4.8 .6-7.1 .7 .8 .7-5.9 .6 6.2 .7-1 .7-8.6 .6 1.2 .7 .2 .7 5.2 .7-5.2 .6-4.8 .7 2.1 .7 4.3 .6-7.3 .7 1.2 .7-3.9 .6-1 .7-1.2 .7-5 .6 3.2 .7-2.1 .7 .5 .6-9.1 .7 7.3 .7-5.7 .6 4.9 .7-5.7 .7 6.5 .7-8 .6 .5 .7-7.1 .7 2.2 .6-3.6 .7 2.8 .7-5.2 .6 4.2 .7 0 .7-15.1 .6 6.5 .7-3.2 .7 .2 .6-.2 .7 4.5 .7-9.3 .6 6.4 .7-11.7 .7 9.5 .7-8.2 .6 1 .7-3.7 .7-.7 .6-.8 .7-4.9 .7 5.1 .6-1.8 .7-8.7 .7 9.6 .6-2.3 .7-1.4 .7-6.1 .6-3.2 .7 3.1 .7-8.9 .6 7 .7 4.1 .7-10 .7 .9 .6 4.4 .7-8.7 .7 3.6 .6-4.9 .7 1.5 .7 14.8 .6-8.3 .7-3.3 .7 .8 .6-2.5 .7 .4 .7 .4 .6-6.7 .7 8.5 .7-3.9 .6 4.4 .7-3.2 .7 3.3 .7 3.2 .6 2 .7-7.1 .7 5.7 .6 2.4 .7-2.6 .7 4 .6-4.1 .7 3.1 .7 6.5 .6-2.4 .7 1.5 .7-1.9 .6 .5 .7 3 .7-1.5 .6 9.9 .7-11.5 .7-6.7 .7 16.7 .6-11.2 .7-1.2 .7 8.1 .6 .9 .7-7.4 .7 1.6 .6-4.5 .7 3.1 .7 1.3 .6-.1 .7 2.2 .7-4.2 .6-3.5 .7 7.1 .7-5.9 .6 4.6 .7-13.8 .7 11.7 .7 1.5 .6-13.1 .7 6.4 .7-1.8 .6-5.2 .7-5.5 .7 7.9 .6-7.1 .7-3.8 .7 1.5 .6 2.4 .7-1 .7 1.1 .6-4.1 .7-6.9 .7 0 .6 6.2 .7-2.5 .7 .9 .7-7 .6 2.4 .7-3.3 .7 1.5 .6-6 .7 1.6 .7-1.3 .6-4.9 .7 1.1 .7-1.2 .6-1.3 .7-1.2 .7-2.4 .6 9.5 .7-7.9 .7-1.1 .6 4.3 .7-7.4 .7-4.2 .7-2.6 .6-5 .7 10 .7-5.9 .6-1.1 .7-9.5 .7 4.5 .6 6.2 .7-.2 .7-3.7 .6 0 .7-1.1 .7-2 .6-4.2 .7 1.3 .7-2.4 .6-1.6 .7-.3 .7 1.4 .7-1.8 .6-6.4 .7 2.1 .7 3.7 .6 1 .7-8.9 .7 4.2 .6-7.3 .7 .6 .7 .3 .6-4.4 .7 4.3 .7-4.4 .6-6.2 .7 2.5 .7-2.7 .6-4.8 .7 3.8 .7 1.4 .7-2.3 .6 6.3 .7-4.3 .7-3 .6-1.3 .7 2.9 .7-8.2 .6-7.1 .7 10.2 .7-2.4 .6-5.1 .7 1.6 .7-.2 .6 3.3 .7 2.4 .7-9.2 .6 .8 .7-6.5 .7 1.4 .7 5.6 .6-10.1 .7 4.7 .7-5.4 .6 2.3 .7-8.5 .7 4.4 .6-8.7 .7 1.2 .7 7.1 .6-5.8 .7 .3 .7-3.4 .6-1.9 .7 4.4 .7-3.7 .6-3 .7 .3 .7-2.6 .7 4.8 .6-3.4 .7-8.7 .7 12.5 .6-8.2 .7-2.6 .7 1.5 .6-8.4 .7 2.2 .7 2.4 .6-5.1 .7-4.7 .7 .9 .6 2.4 .7 3.7 .7-11.6 .6 5 .7 3.6 .7-1.1 .7-5.3 .6-7.4 .7 4.7 .7-4.5 .6 8.1 .7-5.7 .7 1.5 .6 1.6 .7-6.2 .7-2.2 .6-2.2 .7 2.6 .7-2.5 .6 .7 .7-8.5 .7-2.1 .6 4.6 .7 1.6 .7-7.8 .7-.9 .6 5 .7-5.2 .7-4.1 .6 1.9 .7-.2 .7-5.6 .6-1.5 .7 4.5 .7-.9 .6-3.4 .7 1.2 .7-1.3 .6 .1 .7-4.1 .7 .2 .6 3.2 .7-13.1 .7 1.2 .7 2.9 .6 1.7 .7-5.5 .7-2.4 .6-.3 .7-3.1 .7 8.4 .6-3 .7-3.7 .7-7 .6 5.1 .7-2.5 .7-3.9 .6 .1 .7 7.5 .7-11.6 .6 5.9 .7-8.3 .7 .1 .7-2.4 .6-2 .7 .6 .7-.6 .6-1.3 .7 .4 .7-7.5 .6 7.1 .7-5.3 .7-2.5 .6-.8 .7-.1 .7-4.2 .6 8.1 .7-8.7 .7 0 .6-4.7 .7 .5 .7 4.5 .7-12.3 .6 7.1 .7-4.4 .7-.4 .6-7.6 .7 7.5 .7-4.7 .6 6 .7-9.1 .7 3 .6-2.3 .7-.5 .7-2.9 .6-3.8 .7 6.8 .7-5.7 .6-10.9 .7 11 .7-4.8 .7 1.8 .6-3 .7-2.6 .7 .3 .6-6.8 .7 5.9 .7-2.3 .6-3 .7-.4 .7 5.1 .6-13.1 .7 7.5 .7-11.1 .6 4.7 .7-7.7 .7 .3 .6-5.4 .7-.4 .7 12 .7-8.4 .6 1.7 .7-7.4 .7 2.8 .6-2.8 .7-2.2 .7-2.9 .6 1.3 .7-4.3 .7 3.4 .6-.4 .7-1.1 .7-4.7 .6-2.5 .7 .7 .7 5.1 .6-8.3 .7-.2 .7-9.5 .7 7.4 .6-4 .7 4.6 .7-18.5 .6 8.4 .7 1.8 .7-2.7 .6 1 .7-6.3"/>
<path stroke="#7020a8" d="M1357.0 756.4l .7-4.1 .6-5.1 .7-5.5 .7 3.6 .6 2.5 .7 .1 .7-1.8 .6-6 .7 .1 .7-2 .7 2.3 .6 .1 .7-2.1 .7-1.1 .6 1.5 .7-10.1 .7-3.4 .6 7.7 .7-7.1 .7-1.3 .6 6.7 .7 2.7 .7-14 .6 .5 .7-3.7 .7 1.8 .6-2.3 .7-2.1 .7-2.8 .7-.4 .6-8.7 .7-.7 .7 8.6 .6-14.5 .7 8.2 .7 0 .6 2.4 .7 1.5 .7-11.7 .6 1.7 .7-.1 .7 .6 .6 1.3 .7 .5 .7-6.8 .6 3.1 .7-4.9 .7-1.7 .7 1.8 .6-6 .7-2.8 .7 4.3 .6-3.8 .7-8.8 .7 12.3 .6-13.5 .7-.4 .7 7.5 .6-5.4 .7 6.7 .7-1.3 .6-5.1 .7-6.6 .7-3.4 .6 6.4 .7-.3 .7-8.3 .7 2.9 .6-4.1 .7 4.8 .7-6.9 .6 5.7 .7-7.1 .7-3 .6-1.1 .7 3 .7-11.5 .6-3.9 .7 7.2 .7-1.1 .6 5.1 .7-7 .7-2.4 .6-2.1 .7 1 .7-2 .7-3.8 .6-.4 .7 1.6 .7-1 .6 10.3 .7-9.2 .7-3.7 .6 .9 .7-4.7 .7-3.7 .6-3.3 .7 2.8 .7-.2 .6 .2 .7-9.8 .7 3.2 .6-3.4 .7 3.3 .7-5.5 .7 4.2 .6-1.9 .7 2.2 .7-12.2 .6 11.5 .7-7.7 .7 5.6 .6-5.3 .7 1.3 .7-3.8 .6-8.6 .7 10.7 .7-4.9 .6 2.4 .7-5.9 .7-1.4 .6 .5 .7 2.1 .7-.2 .7-.6 .6-6.9 .7-3.8 .7-2.5 .6-4.8 .7 3.6 .7 5 .6-4.5 .7 5.8 .7-8.6 .6 2.2 .7 1.8 .7-8.5 .6 3 .7 .4 .7 0 .6-3.9 .7-6.9 .7-.3 .7 8.5 .6-.5 .7-9.5 .7-8.6 .6 6.3 .7-2.1 .7 4 .6 .9 .7-9 .7 2.1 .6-.8 .7-4.8 .7 2.7 .6 .1 .7-8.9 .7 2.6 .6 3.5 .7-6.5 .7-3.9 .7 .4 .6-1 .7-5 .7 5.5 .6-3.8 .7 4.7 .7-6.3 .6 2.1 .7-7 .7 5.2 .6 1.8 .7-3 .7-.1 .6-2.9 .7-1.2 .7 4.6 .6-6 .7 2.5 .7-7.3 .7-2 .6-3.8 .7 5.9 .7 .9 .6-4.9 .7 3.1 .7-7.8 .6 7.6 .7-14 .7 6.6 .6-4.9 .7 2.2 .7-2.8 .6-4.3 .7 2.4 .7-2.2 .6 3.8 .7 4.1 .7-7 .7-2.3 .6-8.4 .7 3 .7 .3 .6 .5 .7-.7 .7-3.7 .6 1.4 .7 1.5 .7-12.1 .6 17.7 .7-10.9 .7-5.8 .6 2.1 .7-4.5 .7-3.7 .6 8.8 .7-6.2 .7 1 .7-2 .6 .5 .7-1 .7-2.4 .6-9 .7 8.4 .7-1.4 .6-1.2 .7-2.1 .7-4.3 .6 3.6 .7-2.5 .7 1.1 .6-7.8 .7 5.4 .7-3.1 .6-.1 .7-12 .7 7.5 .7-5.4 .6 6.5 .7-5.1 .7 .4 .6 3.2 .7-5.4 .7-.9 .6-8.9 .7 2.8 .7 .7 .6 1.6 .7 0 .7-3.4 .6 4.3 .7-5.3 .7-2.2 .6 1.8 .7-13 .7 6.7 .7-2.7 .6 8.7 .7 5.2 .7-16.2 .6 4.1 .7-4.1 .7 2 .6-1.7 .7-7.4 .7 3.7 .6-5.2 .7 11.7 .7-11.8 .6-12.3 .7-1.6 .7 10.1 .6-7.6 .7 3.8 .7 1.2 .7-5.2 .6 3.9 .7 0 .7-.5 .6-10.1 .7 8.6 .7-1.9 .6-5.2 .7 5.7 .7-4.4 .6 .1 .7 3.7 .7-4.3 .6 2.8 .7 2 .7-4.2 .6 .5 .7 5.2 .7-2.2 .7-7.8 .6 7.2 .7 4.1 .7-3.6 .6 4.3 .7 1.8 .7-.2 .6 1.1 .7 5.6 .7-2.5 .6-.4 .7 3.2 .7-2.7 .6 7.9 .7-6.3 .7 2.4 .6-.9 .7 2.4 .7 1.4 .7 4 .6-6.2 .7-1.6 .7 4 .6-5.4 .7 2.9 .7 .3 .6 .1 .7-7.1 .7 4.4 .6 5.1 .7-7.1 .7-3.1 .6-.2 .7-1.7 .7 1.4 .6 2.9 .7 0 .7-8.1 .7-1 .6-2.5 .7 5.1 .7-4.9 .6 .6 .7-4.6 .7 4.8 .6-4.4 .7 7.7 .7-11.2 .6 8.5 .7-9 .7 3.1 .6-6.7 .7 3.9 .7-6.5 .6 3.4 .7-3.9 .7-3.6 .7 3.5 .6-1.2 .7-4.8 .7 2 .6 1.8 .7-1.1 .7-5.6 .6-.3 .7-2.4 .7 5.8 .6-13.7 .7 7.4 .7-.8 .6 .7 .7-3.9 .7 2.5 .6 2.1 .7-19.8 .7 2 .7 5.5 .6-.1 .7-.5 .7-1.7 .6-2.9 .7 3.3 .7-8.2 .6 .9 .7-1.6 .7 1 .6-.4 .7-1.7 .7 0 .6-2.3 .7 1.8 .7 1 .6-7.8 .7 1.2 .7-1.5 .7-.9 .6-1.8 .7-4.2 .7 2.7 .6-3.6 .7 2.2 .7 4.2 .6-8.6 .7-2.7 .7 8.3 .6-10.1 .7-4.6 .7 4.5 .6 1.1 .7-3.5 .7-2.5 .6-3.6 .7 .2 .7 1.7 .7-.5 .6-2.5 .7 1.3 .7 1.2 .6-11.8 .7 7.2 .7-1.5 .6-1.2 .7 0 .7-6.2 .6-8.8 .7 10.2 .7-6 .6-1.2 .7 2.7 .7-.2 .6-4.6 .7-3.6 .7-4.2 .7 8.3 .6-.9 .7 1.2 .7-8 .6 5.8 .7-9 .7 5.7 .6-7.4 .7 4.8 .7-9.7 .6 11.8 .7-10.5 .7 .5 .6-5.9 .7 2.6 .7 1.4 .6-2.1 .7-.8 .7 1.8 .7-2.7 .6-1.1 .7 4.5 .7-6.5 .6 6.6 .7-7.4 .7-2.9 .6 4.2 .7-4.3 .7 .2 .6-4.6 .7-7.7 .7 4.1 .6-1.1 .7 4.7 .7-5 .6 .4 .7-4.6 .7-7.4 .7 5.8 .6-7.1 .7-.4 .7 3.7 .6-1.8 .7 1.9 .7 3.4 .6-11.6 .7-2.5 .7 2.1 .6-6.5 .7 4.6 .7 4 .6-8.5 .7 2.4 .7-4 .6-4 .7-2.8 .7 9.7 .7-5 .6-4.4 .7-3.6 .7 8.7 .6-3.8 .7 1.2 .7-4.6 .6-3.3 .7-.6 .7 3.3 .6-6 .7 1.8 .7 6.9 .6-14.8 .7 6.1 .7-4 .6-6.5 .7 3.7 .7-3.2 .7 4.6 .6 2.4 .7-7 .7 0 .6-3.3 .7 3.2 .7-2.7 .6-4.6 .7 .1 .7-2.4 .6 5.4 .7-6.3 .7-7.5 .6 4.1 .7 5 .7-7.4 .6-2.4 .7 .8 .7-5.1 .7-6.2 .6 4.3 .7-6.5 .7 0 .6 5.7 .7-.7 .7 .2 .6-4.1 .7 0 .7-9 .6-.5 .7 2.2 .7 4.3 .6-7.9 .7 1 .7-6.3 .6 4.2 .7-3.2 .7 5.8 .7-2.9 .6 1.4 .7 .2 .7-7.2 .6-2.9 .7-1.8 .7-.9 .6-1.9 .7 0 .7 .5 .6-2.7 .7 4.5 .7-11.1 .6 6.9 .7-.3 .7-7.1 .6 2.2 .7 1.5 .7-10.5 .7 .1 .6-7.3 .7 4 .7 1.4 .6 1.9 .7-4.8 .7 4.9 .6-7.9 .7 4.5 .7-6.7 .6-1.1 .7 1.1 .7 2.3 .6-7.8 .7 .1 .7 4.2 .6-8.5 .7 .7 .7-2.2 .7 1.3 .6-2.2 .7-5.7 .7-3.6 .6 2.7 .7 .1 .7-1.7 .6-2.4 .7 3.8 .7-11 .6 2.6 .7-.7 .7-1.1 .6-4 .7-4.3 .7 2 .6 .9 .7-4.1 .7-2.7 .7-8.6 .6 2.2 .7 1.1 .7 5.5 .6-8.3 .7 4.6 .7-7.9 .6 12.8 .7-19.8"/>
<path stroke="#5030d8" d="M1357.0 814.6l .7 2.5 .6 2.2 .7-5.5 .7-1.8 .6 .1 .7-2.8 .7-1.4 .6-1.3 .7-.7 .7 0 .7-5.1 .6-4.5 .7 2.8 .7 4.7 .6-13 .7 4.5 .7-2.4 .6-1 .7-1.3 .7-2.6 .6-1.5 .7 5.6 .7-8.1 .6 8.2 .7-6 .7-.4 .6-4 .7-5.7 .7 2.5 .7-6.6 .6 5 .7 1.7 .7-4.9 .6-1.6 .7-2.1 .7-7.7 .6 7.2 .7-.6 .7-11.6 .6-2.7 .7 7 .7-2.1 .6 1.1 .7 1.9 .7-10 .6 5.6 .7-.6 .7-4.3 .7 .7 .6-10.2 .7 8.6 .7-1.6 .6-1.7 .7-4.7 .7 1.5 .6-6.5 .7 4 .7 .6 .6-2.1 .7-1 .7 5.7 .6-8 .7-10.4 .7 6.7 .6-4.6 .7 1.3 .7 3.1 .7-2.7 .6-.8 .7-2 .7 1 .6-4.7 .7-9.5 .7 5.8 .6 2.8 .7-5 .7-.6 .6 .9 .7-.9 .7-3.8 .6 .7 .7-2.1 .7 2.4 .6-6.8 .7-2.7 .7 1.1 .7-1.1 .6-2.1 .7-.2 .7-2.3 .6 2.7 .7-6.7 .7 2.9 .6-3.4 .7 5.2 .7-5.3 .6-4.7 .7-6.6 .7 14.8 .6-10.7 .7-1.4 .7-3.1 .6 1.9 .7 2.7 .7 2.7 .7-4.2 .6-5.3 .7 6.8 .7-12.5 .6-7.8 .7 6.5 .7 8.6 .6-10.8 .7-2.6 .7 2.5 .6-3.9 .7-11.7 .7 1.1 .6-.4 .7 4.8 .7-.8 .6-.2 .7-2.6 .7 4.1 .7-11 .6 4.3 .7 1.9 .7-2 .6 3.3 .7-6.7 .7-2.6 .6-1.4 .7 .3 .7-5.2 .6 1.7 .7 .3 .7-9.5 .6 5.6 .7-.9 .7-1.8 .6 .2 .7-9.1 .7 4.8 .7-2.4 .6 4.7 .7-6.4 .7-2.8 .6-2.1 .7-.7 .7 1.9 .6 .8 .7-11.3 .7 2.3 .6-1.1 .7 2.8 .7-5.8 .6 .6 .7 .8 .7-6.9 .6 1 .7-1 .7 4.2 .7-6.2 .6-9.3 .7 5.4 .7 .1 .6-7.9 .7 2.3 .7 2.6 .6 1.2 .7-2.4 .7-2 .6 1.1 .7-5.1 .7 .9 .6-2.2 .7 0 .7-3.8 .6-3.6 .7-1 .7 1.6 .7-5.9 .6-2.7 .7-3.4 .7 12.9 .6-7.3 .7-3.9 .7-6.5 .6 3.8 .7-.1 .7-1.3 .6-4.1 .7 1 .7 5.8 .6-10 .7-4.7 .7-5.6 .6 8.3 .7-3.3 .7 .9 .7-11.3 .6 6.1 .7 2.7 .7-2.6 .6-2.3 .7 1.6 .7 .2 .6-2.4 .7-1.5 .7 4.1 .6-13.8 .7 8.3 .7-2 .6-1.9 .7-.8 .7 .1 .6-4.4 .7 1.2 .7-4.4 .7 3.8 .6-2.5 .7 3.5 .7-5.4 .6 4.1 .7-7.3 .7-3.6 .6 8.5 .7-17.7 .7 6 .6-1.1 .7-2.7 .7-.2 .6-.7 .7 3.1 .7-12.1 .6 7.9 .7-9.7 .7 4.7 .7-3.1 .6-8.4 .7 9 .7 3.4 .6-9.9 .7-10.6 .7 8.8 .6 3.9 .7-3.8 .7-1.9 .6-1.9 .7-1 .7-2 .6 .1 .7-10.1 .7 7.1 .6-4 .7 8.5 .7-16.6 .7 4 .6 5.5 .7-13.8 .7 5.1 .6-1 .7-4.1 .7-7.3 .6 13.1 .7-9.2 .7-.3 .6-2.8 .7-3 .7-.7 .6-9 .7 6.1 .7-6.8 .6-3.4 .7 6.3 .7-2.1 .7-6 .6 7.3 .7-1.6 .7 .6 .6-1.9 .7-3.7 .7 6.7 .6-8.9 .7-.6 .7 4.4 .6-5.2 .7-3.8 .7 1 .6-4.2 .7-.3 .7-2.7 .6 .6 .7 3.4 .7-7.4 .7-4.9 .6 7.8 .7-6 .7-3.5 .6-1.8 .7 4.6 .7-3.3 .6-1.3 .7-3.2 .7 1 .6-9.2 .7 5.8 .7 .2 .6-.7 .7-2.9 .7 2.5 .6-7.4 .7 7.9 .7-10.8 .7-.2 .6-1.7 .7 9.1 .7-8.5 .6-2.8 .7-.1 .7-3.3 .6-.9 .7 5.8 .7-15 .6-.8 .7 3.4 .7-2.5 .6 .9 .7-.6 .7-.4 .6-6.4 .7 2.3 .7 .4 .7-2.5 .6-2.6 .7-9.5 .7 9 .6-10.4 .7 8.4 .7-4.5 .6 .3 .7-3.5 .7-5.1 .6 8.1 .7-2.8 .7-1.3 .6-1.3 .7-2.1 .7 6.9 .6-10.9 .7-.3 .7 0 .7-3.4 .6-7.5 .7 6.7 .7-3.8 .6 3.8 .7-2.8 .7-.4 .6-1.4 .7-6.9 .7 1 .6 1.4 .7 5.5 .7-8.4 .6-10.3 .7 3.5 .7-3.5 .6 4.9 .7 .6 .7 .5 .7-5.8 .6-2 .7 .5 .7-.5 .6-10.6 .7 8.8 .7 3.1 .6-2 .7-5.9 .7-4 .6 .2 .7 .6 .7-9.9 .6 7.2 .7-5.7 .7 3.8 .6 1.4 .7-5.7 .7-.7 .7-8.1 .6-.3 .7 4.1 .7 3.6 .6-4.4 .7-4.7 .7 .5 .6 .1 .7-5.8 .7 7.8 .6-6.1 .7-10.8 .7 9.2 .6 3.4 .7-15.7 .7 5.9 .6-1.9 .7 1 .7-5.7 .7 3 .6-8.9 .7 6 .7-.4 .6-1.3 .7-8.6 .7 12.6 .6-19.7 .7 10 .7 .2 .6-5.2 .7 2.6 .7-11 .6 5.8 .7-2.3 .7 1.6 .6-5.1 .7-1.7 .7 .2 .7-2 .6-1.9 .7 1 .7 1.5 .6 3.7 .7-8.9 .7-.4 .6-1.3 .7-2.2 .7 3 .6-12.6 .7 8.9 .7-2 .6-2.7 .7-1.6 .7-6.9 .6 .2 .7-4.3 .7 4.4 .7 5.7 .6-1.6 .7-7.1 .7-6.9 .6 4.5 .7-6.4 .7 8.5 .6-6.6 .7-7.7 .7 4.8 .6-1.9 .7-.4 .7-2.4 .6 4.8 .7-13.6 .7 5.7 .6-1.8 .7-3.1 .7 1.9 .7-5.6 .6-7.1 .7 7.2 .7-1.6 .6 8.2 .7-9.5 .7 .5 .6-5.9 .7 2 .7 4.4 .6-.2 .7-11.5 .7 2.7 .6-1.8 .7-4.9 .7 1.3 .6-5.3 .7 9.5 .7-9.9 .7-1.7 .6-8.4 .7 4.8 .7-1.3 .6 8.4 .7-6.5 .7 2 .6-.6 .7-1.6 .7-8 .6 1.5 .7 4.7 .7-10.2 .6 5.9 .7-7.9 .7 1.2 .6-6.3 .7 3.3 .7 8.3 .7-10.7 .6-6.1 .7 6.4 .7-2.8 .6 4.2 .7-11.6 .7 3.2 .6 2.2 .7-3 .7-1 .6 4.4 .7-10.4 .7 .8 .6-3.3 .7-.1 .7-3.1 .6-1.7 .7-5.3 .7 4.5 .7 6.1 .6-6 .7-5.8 .7-.7 .6 2.7 .7-3 .7-1.1 .6-.1 .7-6.4 .7 7.7 .6-3.3 .7-2.9 .7-1.2 .6-2.9 .7-7.1 .7 5.5 .6-8.7 .7 3 .7-1.2 .7-.6 .6 2.5 .7-4.3 .7 2 .6 4.1 .7-5.3 .7-2.5 .6 4.9 .7-8.7 .7 .2 .6-.5 .7-9.2 .7 5.5 .6 2.5 .7-7.6 .7 6.6 .6-5.2 .7-3.2 .7-8.6 .7 8 .6-5.8 .7 6.9 .7-13.5 .6 3.8 .7-.6 .7-1.8 .6 .6 .7-8.6 .7 5.6 .6-2 .7-6.4 .7 14.1 .6-4.3 .7-13.1 .7-3.5 .6-1.9 .7 .5 .7 8 .7 1.8 .6-5.4 .7-4.4 .7-1.7 .6-.5 .7 .8 .7 3.7 .6-6.9 .7-4.2 .7 1.6 .6-2.2 .7-.8 .7 7 .6-13.2 .7 8.2 .7-8.2 .6 1.7 .7-1.4 .7-1.8 .7 .1 .6-5.4 .7 6.4 .7-6.5 .6-3.6 .7-.4 .7-1.6 .6-.2 .7-2.8"/>
<path stroke="#5030d8" d="M1357.0 811.7l .7 1.7 .6-4.4 .7 .7 .7-2.3 .6-8.4 .7 5.6 .7 1.7 .6-1.6 .7-1 .7-3.8 .7-.7 .6-2.1 .7 .4 .7-1.6 .6 4.4 .7-8.3 .7-6.2 .6 10.7 .7-9.5 .7-.9 .6-.4 .7-3.4 .7-5.8 .6 4.9 .7 0 .7 .2 .6-.9 .7-2.2 .7-3 .7 2.3 .6-2.9 .7-7 .7-5.7 .6 11.8 .7-8.7 .7 2.3 .6-1.8 .7 2.7 .7-4 .6 .9 .7-7.4 .7 4.2 .6-.5 .7-1.9 .7-2.1 .6-.4 .7-3.7 .7 8.6 .7-8.6 .6 0 .7 .3 .7-4.5 .6-2.2 .7-1.2 .7-3.7 .6-.1 .7 5.3 .7-6.4 .6-3.2 .7-2.7 .7 .3 .6-6.9 .7 3.7 .7 6.6 .6-13.2 .7 2.5 .7 7.8 .7-7.2 .6-3.3 .7-.2 .7 3.2 .6-1.9 .7-6.9 .7-2.8 .6-.5 .7-1.7 .7-.3 .6-1 .7 7.7 .7-18.2 .6 5.4 .7 .8 .7-8.7 .6 4.1 .7-1.2 .7-.8 .7-.4 .6 3.9 .7-10.6 .7-5.7 .6 4.7 .7 .6 .7-3.5 .6-2.3 .7 2.7 .7 .3 .6-.2 .7-4.4 .7-.3 .6-1.8 .7-2.7 .7 2 .6 1.2 .7 3.7 .7-11.4 .7 8 .6-9.7 .7-5.2 .7 .8 .6 3.7 .7-12.7 .7 11.4 .6-10 .7-1.3 .7 1.7 .6 7.8 .7-2 .7-8.4 .6-1.7 .7 1.6 .7-2.4 .6-3.7 .7 1.4 .7 3.4 .7-1 .6-6.4 .7-.3 .7-13.3 .6 8.7 .7-.3 .7 1.2 .6-5.1 .7 1.3 .7-1.7 .6 2.3 .7-1.9 .7-7.1 .6 2.3 .7-4.2 .7 8.3 .6-8.4 .7-2.4 .7 7.2 .7-8.4 .6 .4 .7-1.6 .7 4.8 .6-6.1 .7-5 .7-.6 .6-2.4 .7 6.1 .7-7.4 .6-8.9 .7 9.4 .7-5.9 .6 .4 .7-2.8 .7-2.2 .6 2.7 .7-9 .7 13 .7-7.3 .6-7.6 .7 6.3 .7-3.9 .6 6 .7-8.6 .7-6.2 .6-3 .7-.4 .7 3.7 .6 .3 .7-3.9 .7 .9 .6-2.7 .7-.2 .7 6.9 .6-14.7 .7 6.8 .7-4.7 .7 2.4 .6-1.5 .7-5.1 .7-.1 .6-2 .7 .4 .7 3.7 .6-6.5 .7-2.3 .7 1.1 .6-.2 .7 5.6 .7-9.5 .6 3.4 .7-4.4 .7-.1 .6-10.3 .7 3.9 .7-.4 .7-3 .6 9 .7-12.7 .7-1.8 .6 4.2 .7-4 .7 2.3 .6-3.7 .7-3.7 .7-6.3 .6 5.1 .7-6.7 .7-5.3 .6 6.4 .7 3.3 .7-7.6 .6 2.2 .7 5.4 .7-6.9 .7-3.3 .6 6.2 .7 .3 .7-11.3 .6-.7 .7 1 .7-6.6 .6 2 .7-8.2 .7 3.8 .6 8.9 .7-2.8 .7-7.9 .6-.8 .7 1.2 .7 1.3 .6-9.2 .7 2 .7-1.5 .7-9.1 .6 .8 .7-.3 .7 3.1 .6 6.8 .7-15.7 .7 5.5 .6 4.7 .7-6.5 .7-3.4 .6-1.8 .7 .1 .7-9.6 .6 3.3 .7 1.8 .7 .2 .6-.7 .7-10.1 .7 6.7 .7-2.9 .6 8.2 .7-8.4 .7-2.7 .6 .3 .7-2.3 .7 4 .6 2.9 .7-16.2 .7 2.7 .6 .3 .7-3.4 .7 .5 .6-2 .7-4.6 .7 2.2 .6-3.8 .7 .5 .7 0 .7-8.9 .6 9.1 .7-12.1 .7 13.2 .6 .3 .7-11.8 .7 1.2 .6-1.4 .7-2.8 .7 6.1 .6-8.5 .7 2.3 .7-7.3 .6 2.5 .7-1.5 .7-2.3 .6 5.8 .7-12.2 .7 5.8 .7 4.8 .6-14.4 .7 6.7 .7-4.3 .6 3.3 .7 3.1 .7-17 .6-.5 .7 7.2 .7-9.7 .6 8.8 .7-3.4 .7-5.3 .6-6 .7 4.8 .7 .7 .6-2.1 .7-.9 .7-.2 .7-3.1 .6 1.4 .7 1.2 .7-3.7 .6 0 .7 4.7 .7-7.2 .6-1.8 .7-.2 .7-4.2 .6 1.9 .7 .1 .7-4.8 .6-.2 .7-.3 .7-2.2 .6 6.6 .7-14.4 .7 3.2 .7-8 .6 9.2 .7-4.4 .7-6 .6 9.9 .7-13 .7 11.1 .6-11.6 .7 4.4 .7-4 .6 .5 .7-4.1 .7-.6 .6-.2 .7-1.4 .7 6.6 .6-12.2 .7-.4 .7 1.2 .7-5.5 .6 3.1 .7-2.1 .7-3 .6-1.8 .7 0 .7-8.4 .6 6 .7-3.7 .7-.1 .6-.4 .7-1.5 .7 0 .6-2.4 .7-5.2 .7 1.9 .6 1 .7-2.9 .7 1.8 .7-1.4 .6-6.7 .7 .6 .7-2.3 .6-1.2 .7-1.6 .7-4.6 .6-6.5 .7 15.6 .7-13 .6 3.7 .7 .6 .7-3 .6-.9 .7-.5 .7-3.6 .6 1.9 .7-10.1 .7 14.6 .7-8.1 .6 2.6 .7-7.2 .7-1.4 .6-3.2 .7 3.3 .7-4.8 .6 .5 .7-2.7 .7-7.8 .6 13.9 .7-8.5 .7-3.2 .6 .4 .7 .4 .7-3.9 .6 1.6 .7 4.6 .7-.9 .7-6.1 .6-5.6 .7 1.8 .7-8.8 .6 3.4 .7 9.2 .7-3.9 .6-7.4 .7-2 .7-4.9 .6 2.4 .7-9.1 .7 6.8 .6-3.5 .7-.8 .7-7 .6 5.4 .7-1.8 .7-.8 .7-4.7 .6-.6 .7-.8 .7 7.5 .6-14.6 .7 6.1 .7 3.2 .6 .8 .7-9.9 .7 6.5 .6-8.8 .7-1.2 .7-.7 .6 .2 .7 .1 .7-.4 .6-6.7 .7 7.5 .7-5.1 .7-5.7 .6-.2 .7-1.4 .7-1.9 .6 3 .7-5.5 .7-2.2 .6-1.3 .7 2.2 .7-3.1 .6-.5 .7-1.1 .7 .8 .6-2.7 .7-.7 .7-1.2 .6-1.5 .7-6.5 .7 3.3 .7-1.8 .6-3.2 .7 2 .7-3.4 .6-.9 .7-2.4 .7-.3 .6-1.2 .7-6.4 .7 9.8 .6-6.7 .7-4.4 .7-3 .6 11.4 .7-4.6 .7-7.3 .6 3 .7-2.8 .7-4.7 .7 10.3 .6-10.5 .7-3.5 .7 6.2 .6-4.5 .7-2.8 .7 4.5 .6-9.9 .7 1 .7-7.5 .6 2.8 .7 1.5 .7-1.8 .6-1.6 .7 1.3 .7-4.1 .6 1.8 .7-2.3 .7-.6 .7-2 .6 .9 .7-.9 .7-5.6 .6 6.6 .7-6.7 .7-1.8 .6 .8 .7-6 .7 6.4 .6 1.7 .7-13.3 .7 3.9 .6-3.1 .7 .2 .7-3.5 .6-3.9 .7 4.6 .7-4.6 .7 7.2 .6-6.8 .7-1.5 .7-1.8 .6 1 .7-4.1 .7 .7 .6 .4 .7-2.4 .7-4.5 .6 7.4 .7-6.6 .7-2.5 .6 3.9 .7-7.4 .7-1.8 .6 1.6 .7-9.1 .7 6.2 .7-1.4 .6-.3 .7-.5 .7-5.4 .6-8.8 .7 5.7 .7 .7 .6-3.5 .7 4.2 .7-5.5 .6-9.7 .7 4.5 .7-3.5 .6 7.7 .7-7.5 .7 .8 .6 3.4 .7-6.7 .7 6.4 .7-8.9 .6-7.3 .7 8.7 .7-3.4 .6-4.7 .7-5.6 .7 3.9 .6-7.2 .7 8 .7-8.6 .6 3.8 .7-1.9 .7-9.2 .6 13.6 .7-14.9 .7 6.1 .6-5.2 .7 .9 .7-1.4 .7 .1 .6-3.4 .7 0 .7 2.2 .6-5.6 .7 1.2 .7-.6 .6 4.4 .7-7.7 .7-3.4 .6-.3 .7-1 .7-1.6 .6-1.7 .7 .6 .7-2.9 .6-.6 .7 5.9 .7-6.6 .7-8 .6 2.7 .7 10.5 .7-9.5 .6-.8 .7-.7 .7-3.4 .6 0 .7 1.6"/>
<path stroke="#4a88ee" d="M1357.0 794.0l .7-6.8 .6 7.3 .7 4.6 .7-9.7 .6-.8 .7 0 .7-.1 .6-4.5 .7 6.8 .7-7 .7-.5 .6-.2 .7-4.8 .7 .8 .6-.4 .7-7.4 .7 6.4 .6-1.7 .7-4.2 .7-2.3 .6 0 .7-.8 .7-12 .6 12.7 .7 2.5 .7-9.2 .6 .3 .7 3.1 .7-1 .7-12.9 .6 7.8 .7-7.1 .7 3.5 .6-5.3 .7 2.3 .7-1.3 .6-3.3 .7-.4 .7 .5 .6 0 .7-9.6 .7 3.9 .6 .1 .7-5 .7 8.6 .6-3.5 .7 .5 .7-8 .7-.8 .6 2.9 .7-9.9 .7 5.1 .6-5.5 .7-1.6 .7 8.9 .6-7.9 .7 .2 .7 1 .6-1.3 .7 3.5 .7-8.9 .6-1 .7 .9 .7-2.8 .6 7.6 .7-7.1 .7-4 .7 0 .6-7.1 .7 9.3 .7-3.9 .6-1.3 .7-3.3 .7 2.1 .6-2.7 .7-1.8 .7 3.4 .6-9.7 .7 2 .7-8 .6 3.8 .7-.3 .7-.3 .6 2.4 .7-5 .7 1.2 .7-5 .6 4.1 .7-2.5 .7-5.4 .6-1.3 .7-5 .7-1.4 .6 9.7 .7-5.7 .7-1.9 .6-1.4 .7-11 .7 6.7 .6 2.9 .7-7 .7 1.5 .6-8.1 .7 11.5 .7-1.4 .7-17.6 .6 3.4 .7 12.4 .7-15.3 .6 12.8 .7-7.3 .7-.6 .6 2 .7-.9 .7-.9 .6-6.3 .7 7.9 .7-17.3 .6 4.3 .7-5.7 .7-4 .6 4.6 .7 .3 .7-2.9 .7-10.9 .6 10.7 .7-3.5 .7 4.6 .6-5.1 .7 .7 .7-3 .6 3.7 .7-8.5 .7 .1 .6 5.1 .7-5.8 .7-1.5 .6-1.5 .7-3.2 .7-1.9 .6-.8 .7 1.3 .7-3.3 .7-4.9 .6 6.3 .7-1.6 .7 3.3 .6-7.9 .7 1.2 .7-1.2 .6 4 .7-7.6 .7-1.5 .6 3.7 .7-8.3 .7 1 .6-7 .7 3.7 .7 3.1 .6-2.7 .7-5.6 .7 1.9 .7-2.4 .6-.1 .7-1.1 .7-2.3 .6 1.5 .7-2.3 .7-1.1 .6-1.7 .7-2.6 .7 3.8 .6-11.8 .7 9 .7-1.9 .6-6.9 .7-5.1 .7 8.1 .6 1.5 .7-6.7 .7-1.1 .7-3.9 .6 2.7 .7-.5 .7-2.9 .6-2.7 .7 1 .7-.1 .6-3 .7-9.3 .7 13 .6-3.6 .7-7.9 .7-4 .6 3.4 .7-2.5 .7-3.3 .6 4.6 .7-.5 .7 .1 .7-3 .6-.3 .7-1.1 .7 4.8 .6-10.2 .7-6.9 .7 12.7 .6-5.7 .7-9.8 .7 5.1 .6-4.2 .7 3.7 .7-2.6 .6-2.8 .7 .7 .7-3.2 .6-1 .7 6.1 .7-8 .7 .7 .6-4.2 .7-2.7 .7 .8 .6-2.5 .7-1.5 .7 6.5 .6-7.7 .7-3.6 .7 2.5 .6 4.5 .7-5.5 .7-4.8 .6 6.8 .7-9.2 .7 .6 .6-1.6 .7 .8 .7 4.2 .7-6.9 .6-3 .7-.1 .7-2.1 .6-8.1 .7 .5 .7-2.2 .6-.5 .7-4.1 .7 8.6 .6-8.4 .7-1.2 .7 14 .6-5.3 .7-9.4 .7 .7 .6-.6 .7-2.1 .7-4.9 .7 4.2 .6-.4 .7-.4 .7-.5 .6-1.5 .7 6 .7-9.6 .6 0 .7-.2 .7 3.8 .6-7.2 .7 6.6 .7-8.5 .6-3.7 .7 1.2 .7-1 .6-3.8 .7 1 .7-1.1 .7-4.5 .6 4.3 .7-4 .7-8.1 .6 10 .7-13 .7 3.1 .6-.2 .7-7.9 .7 6.8 .6 .2 .7-6.4 .7 1.1 .6 1 .7-9 .7 2.4 .6 8.9 .7-6.4 .7-2.3 .7-9.9 .6 6.4 .7-1.7 .7 6.2 .6-6.5 .7-4.7 .7 2.6 .6-10.4 .7 6.3 .7-1.9 .6-.4 .7-1.5 .7 1.1 .6-4.2 .7 .3 .7 .1 .6-.6 .7-5.8 .7 3.9 .7-1.9 .6-1.8 .7 1.3 .7-8.6 .6-6.2 .7 13.9 .7-18.7 .6 6.9 .7-1.6 .7-8.2 .6 8 .7-6.2 .7 .9 .6-8.1 .7 7.3 .7 .1 .6-6.9 .7 1.9 .7-4.8 .7 3.4 .6 8.8 .7-13.4 .7-1 .6-.2 .7-1.8 .7-4 .6 1.9 .7-5.1 .7 1.1 .6 .3 .7 1.6 .7-4.6 .6 6 .7-15.4 .7 .2 .6 3.3 .7 2.4 .7-4.8 .7 2.1 .6-2.5 .7 7.6 .7-11 .6-6.6 .7 4.8 .7-1.1 .6-1.4 .7 1.7 .7-3.6 .6 2.5 .7 4.1 .7-8.3 .6-5 .7 4.2 .7-3.9 .6-1.1 .7-2.4 .7-1.2 .7-.9 .6-7.4 .7 7.7 .7-1.7 .6 4.8 .7-7.7 .7-2.8 .6-.5 .7 1 .7-2.3 .6-3.5 .7-.4 .7 1 .6-2.9 .7-1.6 .7 7.1 .6-10.4 .7-3.4 .7 .5 .7-1.4 .6 5.9 .7-8 .7-.9 .6-.6 .7-2 .7-1.4 .6-1.9 .7 2.3 .7-2 .6-1.8 .7-6.7 .7 .5 .6-.4 .7 1.9 .7-3.7 .6 4.7 .7-5.6 .7 2.7 .7-4.6 .6-1.1 .7-2.3 .7-2.8 .6 3.6 .7-6.2 .7-4.8 .6 9.5 .7-6 .7 .8 .6-6.2 .7 6.8 .7-1.6 .6-6 .7-2.3 .7-2.4 .6 1.6 .7-3.2 .7-2 .7-1 .6-1.5 .7 .4 .7 5.1 .6-8.5 .7-1.5 .7 4.6 .6-14.3 .7 1.8 .7 4.1 .6-2.7 .7-4.9 .7 5.3 .6-3.9 .7 1.1 .7-4.5 .6-6.2 .7 11.4 .7-10.3 .7 10.5 .6-13.2 .7 2.2 .7-1.8 .6-4.8 .7 4.8 .7-2.2 .6-.9 .7-3 .7 4.6 .6-4.1 .7-11.4 .7 9.8 .6-.9 .7 2.5 .7-5.9 .6-.6 .7 .5 .7 .4 .7-11.4 .6 1.7 .7-4.2 .7 3.4 .6-9.6 .7 9.3 .7-.9 .6 6.8 .7-10.4 .7-11.6 .6 6.2 .7 3 .7-3.3 .6-3.1 .7 .5 .7-7.8 .6 8.1 .7-1.8 .7-11.1 .7 8.2 .6 0 .7-3.6 .7-7.7 .6 12.2 .7-5.6 .7 1.6 .6-10.9 .7 4.6 .7-1.7 .6 .3 .7-1.8 .7-.2 .6-.2 .7-1.1 .7 6.7 .6-11.9 .7 1.2 .7 1.3 .7-14.1 .6 4.6 .7 .5 .7-3.2 .6-1 .7-.8 .7-.8 .6-3.8 .7-3.7 .7 3.9 .6-.8 .7-9.4 .7 4.7 .6 6.9 .7-8.1 .7-3.3 .6-1.8 .7 .9 .7-13.1 .7-.1 .6 7.7 .7 2.1 .7-4.8 .6 9.9 .7-11.3 .7-4.1 .6 5.1 .7-2 .7-10.8 .6-.7 .7 8.8 .7-3.2 .6 .3 .7-1.6 .7-2.8 .6-1.1 .7-4.4 .7 13.4 .7-4.3 .6-10.3 .7 1.4 .7-3.8 .6 7.5 .7-7.4 .7-2.4 .6 4.3 .7-1.3 .7-4.4 .6-5.7 .7 3.9 .7-.9 .6-10.4 .7-.3 .7 8.5 .6 7.6 .7-12.5 .7 1.9 .7-1.4 .6-6.8 .7 5.4 .7-2.7 .6 1.2 .7-9.5 .7 1.9 .6 .1 .7 4.5 .7-5.2 .6-7.9 .7 4.4 .7-3.1 .6 7 .7-5.9 .7-4.6 .6 2.9 .7 4.9 .7-9.5 .7 .3 .6-.8 .7 6.1 .7-8.2 .6-3.8 .7-.4 .7-1.7 .6-8.7 .7 10 .7-1.4 .6-3.6 .7 2.1 .7-1.4 .6-2.9 .7-6.7 .7 3.5 .6-7.5 .7 5.7 .7-3.2 .7-2.4 .6 .8 .7-.8 .7 6.7 .6-8.7 .7-4.7 .7 .9 .6-5.3 .7 1.1"/>
<path stroke="#4a88ee" d="M1357.0 787.3l .7 6 .6-3.6 .7 0 .7-1.9 .6-1.5 .7-2.7 .7 1.6 .6-9.4 .7 8 .7 2.9 .7-8.5 .6-2.6 .7 6.6 .7-13.5 .6 .6 .7-6.7 .7 8.5 .6-2.9 .7 4.3 .7-12.6 .6 8.2 .7-10 .7 5.7 .6-.3 .7 2.3 .7-7.3 .6 3.5 .7-4.1 .7-1.1 .7-3.7 .6 11.1 .7-5.1 .7-10.3 .6-1.8 .7 3.9 .7 3 .6-3.5 .7-5.4 .7-3.8 .6 7.5 .7-10.6 .7 14.6 .6-10.4 .7-7.2 .7 11.1 .6-1.5 .7 .2 .7-10.5 .7-7.2 .6 8.6 .7 1.8 .7-6.7 .6-4 .7-1.4 .7 .1 .6 1.4 .7-.5 .7-1.7 .6 3.5 .7-11.4 .7 4 .6 1.9 .7-3.2 .7-2.1 .6-1.7 .7-9.9 .7 13 .7 .8 .6-11.4 .7 1.8 .7-1 .6-9.2 .7 7.2 .7 4.6 .6-18.1 .7 9.7 .7-3.7 .6-1.7 .7-2 .7 6 .6-5.4 .7 1.5 .7-3.5 .6 7.1 .7-9.8 .7-4.5 .7-4.8 .6 3.1 .7-2.7 .7 1.7 .6-4.8 .7 9 .7-9.5 .6-9.8 .7 8.8 .7-1.6 .6 8.6 .7-14.5 .7 7 .6-4.4 .7-2.2 .7-.8 .6 .3 .7-3.2 .7 6.6 .7-3.6 .6-7.6 .7 1.7 .7-2.2 .6-1.5 .7-2.4 .7-1.6 .6-6.7 .7 3 .7 0 .6-9.7 .7 8.2 .7-3.5 .6-2.4 .7 .4 .7-2.2 .6 5.4 .7-14.2 .7 11 .7-5.3 .6 2.1 .7-2.7 .7 6.1 .6-10.3 .7 8.4 .7-1.9 .6-7.8 .7-1.5 .7-3 .6-8 .7 7.3 .7-.5 .6 .7 .7-14.2 .7 9.9 .6-2.1 .7-2.5 .7 5.1 .7 1.4 .6-9.8 .7-8.4 .7 6.1 .6-.9 .7 9.5 .7-2.9 .6-14.6 .7 .8 .7 4.8 .6-4.7 .7 0 .7-7.3 .6 5.4 .7-3.8 .7 8.7 .6-3.4 .7-15.8 .7 6.1 .7 5 .6-7.7 .7-1.7 .7-8.1 .6 4.4 .7-5.3 .7 3.5 .6-.9 .7-2.5 .7 2.2 .6-4.4 .7 8.1 .7-1.2 .6-7.8 .7-5.4 .7 5.6 .6 .3 .7-6 .7-1.4 .7 1.7 .6 5.8 .7-11.4 .7-6.3 .6 6.8 .7 2.9 .7-7.8 .6-1.3 .7-1.4 .7-6.2 .6 12.5 .7-11.2 .7 0 .6 6.6 .7-14.9 .7 3.3 .6-.2 .7 6.3 .7-6.8 .7-6.5 .6 3.7 .7 4.2 .7-1.2 .6-5.5 .7-1.5 .7-9.2 .6 7.9 .7-2.4 .7-2.7 .6-.9 .7-2.4 .7 2.4 .6 3 .7-8 .7 1.4 .6-.2 .7-3.1 .7-1.1 .7-2.7 .6-.9 .7-.5 .7-1.5 .6-4 .7 8.6 .7-10.2 .6-1 .7 .6 .7-9.4 .6 7.6 .7-1.7 .7-1.4 .6-4.3 .7 5.4 .7-5.7 .6 5.1 .7-5.8 .7-2.3 .7 1.3 .6-5.3 .7 4.2 .7-14.3 .6 .8 .7 2.5 .7 0 .6 2.2 .7-3.3 .7 5.2 .6-9.4 .7 5.8 .7-9.3 .6 1.8 .7-1.1 .7-2.5 .6-4.7 .7 2.5 .7-7.6 .7 3.9 .6 2.3 .7-2.4 .7-2.9 .6-.6 .7 .2 .7-1.4 .6 7.8 .7-5.8 .7-1.9 .6-2 .7-6.9 .7-.1 .6 .5 .7-.5 .7-.6 .6-2.6 .7-.7 .7-2.9 .7-4.5 .6 9.8 .7-7 .7-1.5 .6 8.3 .7 1.1 .7-10.1 .6-3.6 .7 2.6 .7-1.4 .6-10.5 .7 11.2 .7-5.1 .6-3.9 .7-.9 .7 1.2 .6-9.1 .7 7.3 .7-10.3 .7 9 .6-7.8 .7 3 .7-1.3 .6-2.8 .7 2.8 .7-3.4 .6 .6 .7-3 .7 1.6 .6-.6 .7-2 .7-7 .6 7.2 .7-.2 .7-9.7 .6 1.1 .7-.7 .7-1 .7 5.9 .6-15.3 .7 13.8 .7-9.5 .6 2.3 .7-4.6 .7 2.3 .6-.7 .7-4.7 .7 3 .6-4 .7 5.7 .7-7.7 .6-.6 .7-.3 .7 6.3 .6-5.6 .7-4.8 .7-4.1 .7-4.2 .6-5.3 .7 13.9 .7-9.1 .6 5.4 .7-8.1 .7 3.1 .6-2 .7-1.5 .7 3.2 .6-13.7 .7-2.3 .7 4.1 .6 3.8 .7-2.4 .7-8.2 .6 11.7 .7-9 .7 0 .7-3.8 .6 2.8 .7-.9 .7-4.2 .6 2.3 .7-3 .7-11.8 .6 9.5 .7 5.9 .7-9 .6-.3 .7 7.6 .7-10.5 .6-1.2 .7-2.7 .7 2 .6 5.6 .7-5.8 .7-3.2 .7-2.4 .6-3.3 .7-8.2 .7 6.6 .6-1.4 .7 0 .7-2.2 .6-1.5 .7 .3 .7-2.8 .6-7.1 .7 4 .7-8.4 .6 5.1 .7 1.6 .7-3.6 .6-.3 .7 5.8 .7-3 .7-7.9 .6 1 .7 0 .7-.4 .6-3.9 .7 1.6 .7-4.2 .6-.9 .7 0 .7-8.7 .6 9.7 .7 0 .7-2.1 .6-5 .7-1.2 .7-4.2 .6-.3 .7-7.3 .7 5.5 .7-.3 .6-9.2 .7 6.6 .7 .4 .6-.9 .7-7.5 .7 5.2 .6-10.4 .7-2.7 .7 9.3 .6-1.3 .7 2 .7-2.8 .6-7.5 .7 4 .7-6.1 .6-3.3 .7 1.6 .7 2 .7 2.6 .6-6.9 .7-5.2 .7 4.4 .6-.6 .7 .1 .7-.9 .6 6 .7-14.9 .7 5.4 .6-.7 .7-10.4 .7 3.8 .6 2.6 .7 .4 .7-6.3 .6 .9 .7-3.6 .7-.6 .7 .7 .6-1.9 .7 .5 .7 3.2 .6-9.8 .7 8.6 .7-7.5 .6-5.1 .7 6 .7-5.4 .6 2.3 .7-3.9 .7-1 .6 0 .7 4.6 .7-9.8 .6-.7 .7-7.7 .7 5.5 .7-2.7 .6 0 .7 0 .7-3.8 .6-1.3 .7 3.8 .7-8.1 .6 4.3 .7-4.4 .7 6.8 .6-6.2 .7-3.6 .7 .1 .6 4.1 .7-6.1 .7-.3 .6-1 .7-1.5 .7-7.1 .7-.8 .6-1.6 .7 1.2 .7 2.6 .6-3.4 .7-2.9 .7-6.7 .6 4.5 .7-5 .7 9 .6-9.1 .7-4.5 .7-1.5 .6 7.5 .7-2.3 .7-7.3 .6 4.3 .7-3.3 .7-.6 .7 .2 .6 .1 .7-3.3 .7-1.5 .6 .7 .7-.4 .7-11.4 .6 5.2 .7 .2 .7 .1 .6-1.3 .7-2 .7 1.1 .6-7.1 .7 6.9 .7-5.3 .6 .3 .7-5.8 .7 5.4 .7-5 .6 4.3 .7-7.9 .7 1.4 .6 1.7 .7-6.1 .7 7.3 .6-5.4 .7-4.1 .7-1.1 .6-2.5 .7-3.1 .7 .3 .6 2.8 .7 1.3 .7-4.5 .6-3.4 .7-2.8 .7-1.7 .7-.8 .6 4.5 .7-5.3 .7 4.5 .6-6.2 .7-7.1 .7 9.9 .6-3.3 .7-4.2 .7 2 .6-3 .7-3.4 .7-3.3 .6 2.2 .7-2.4 .7-7.7 .6 3.5 .7 .4 .7-5.5 .7-2.7 .6 6 .7-6 .7 4.2 .6-.9 .7-2.8 .7 3.1 .6-6.7 .7-1.4 .7-.5 .6 1.3 .7 1 .7-3 .6-4.9 .7-2.2 .7 4.5 .6-8 .7-2.1 .7 5 .7-2.8 .6-.7 .7-.4 .7-1.5 .6-9.9 .7 14.3 .7-7.7 .6-1.1 .7 5.6 .7-14.1 .6 7.5 .7 2.5 .7-11.4 .6-5.1 .7 4.2 .7-2.5 .6 8.7 .7-15.9 .7 11.6 .7-10.9 .6 2.2 .7 .4 .7-3.6 .6 8.9 .7-14.6 .7 1.9 .6 7.5 .7-11"/>
<path stroke="#48b89a" d="M1357.0 758.4l .7-6.1 .7-1.1 .8 2 .7 2.2 .7-4.8 .7-3.2 .7 5.3 .7-2.9 .8 2.5 .7 .8 .7-6.2 .7-1.7 .7 1.4 .7-.2 .8-4.1 .7-2.5 .7-1.2 .7 .4 .7 1.4 .7-.8 .8-8.9 .7 6.6 .7-8.7 .7 5.7 .7-5.3 .7-.7 .8-4 .7 5.9 .7-7.8 .7 .6 .7-6.6 .7 4 .8-1.3 .7 .3 .7-3.5 .7-2.3 .7 3.5 .7-4.6 .8 2.1 .7-1.9 .7-4.9 .7 3.9 .7 1.5 .7-4.1 .8-2.6 .7-.5 .7-.2 .7-1.4 .7-3.7 .7-3.2 .8 4.5 .7-3.8 .7-2 .7-2.9 .7 1 .7 2.1 .8-9 .7 1.3 .7 1 .7 .9 .7-.6 .7-.8 .8-.2 .7-.8 .7-4.1 .7-1.9 .7-4.1 .7 7.1 .8-3.3 .7-6.6 .7-.7 .7 1.3 .7-.3 .7-8.4 .8 8.8 .7-2.2 .7-11.3 .7 6.3 .7-1.6 .7-.6 .8 .9 .7-2.9 .7 .9 .7-2.7 .7-.9 .7-1.5 .8-2.2 .7 1.6 .7-4.1 .7-.2 .7-.4 .7-3.5 .8-1.2 .7 2.3 .7-1.5 .7 .8 .7-3.1 .7 .3 .8-2.1 .7 2.1 .7-8.1 .7 0 .7 1.1 .7-2.9 .8-3.3 .7 2.3 .7-1.3 .7-1.6 .7 1.6 .7-2.2 .8-2.4 .7-1.2 .7 .8 .7-3.2 .7 1.3 .7-3 .8 3.4 .7-8.6 .7 .3 .7-1.8 .7 2.1 .7 .2 .8-4.1 .7 1 .7 .8 .7-4.4 .7 3.3 .7-1.4 .8-4.4 .7-3.9 .7-2.5 .7-.7 .7 2.3 .7-1.3 .8-2.4 .7-3.1 .7-2.4 .7-1.1 .7-5.2 .7 5.7 .8 .1 .7-6.5 .7 1.1 .7-.5 .7-.8 .7 1.7 .8-.2 .7-2.2 .7-3 .7 .4 .7-3.8 .7-1.6 .8 .8 .7-1 .7-7.2 .7 7.8 .7-5.9 .7-.6 .8-4 .7-1.7 .7 .1 .7 .2 .7-3 .7 .6 .8-.6 .7-3.7 .7 1.6 .7-4.3 .7 1.6 .7-4.8 .8-1.1 .7-.1 .7-1.4 .7-1.1 .7 2.5 .7-4.4 .8 1.7 .7 .6 .7-7.4 .7 3.1 .7 3.8 .7-3.6 .8-4.3 .7-2.1 .7 .3 .7-1 .7 .1 .7-4.7 .8-3.4 .7-.2 .7 2 .7-3.5 .7 1.7 .8-1.3 .7-2.8 .7-4.2 .7 2.2 .7-.5 .7-9.4 .8 4.1 .7-2.4 .7-3 .7-.4 .7 5.7 .7-9.8 .8 3.9 .7-3.9 .7 1.2 .7-.1 .7-2.4 .7-2.6 .8-2.4 .7 5.6 .7-5.2 .7 4 .7-6.2 .7 8 .8-7.6 .7-4.7 .7 1.9 .7-2.9 .7-1.5 .7 .8 .8-3.5 .7-3.5 .7 6.4 .7-7.6 .7-3.3 .7 5.3 .8-7.4 .7-1.7 .7 7.1 .7-10.1 .7 1 .7 1.6 .8 2.3 .7-4.2 .7-3 .7 3 .7-4 .7 .2 .8-3.6 .7 .6 .7-1.9 .7-.6 .7-2.5 .7 7.2 .8-10.1 .7 3.3 .7-.9 .7-7.7 .7-.6 .7 2.8 .8-.3 .7-3.6 .7 1.3 .7-1.9 .7-3 .7-1.1 .8 .4 .7-5.9 .7 4 .7 1.4 .7-6.8 .7-1.1 .8-1.6 .7 .9 .7-1.2 .7-4.8 .7 .1 .7 1.3 .8-2.7 .7 .7 .7-5.2 .7 1.4 .7 0 .7-.1 .8-2.2 .7 .8 .7-4.7 .7 .9 .7 1 .7-4.3 .8-2.8 .7-1.6 .7 .9 .7-5.3 .7 .8 .7 2.9 .8-1.5 .7-2.6 .7 .5 .7-.4 .7-4.9 .7-2.3 .8 .6 .7 8.3 .7-6.7 .7-3.2 .7-.7 .7 .2 .8-4.8 .7-1.5 .7 1.5 .7-2.6 .7-.6 .7-2.8 .8 .9 .7-5.5 .7 3.4 .7-1.3 .7-5.6 .7-2 .8 1.4 .7 2.3 .7-3.6 .7-4.4 .7 6.5 .7-1.6 .8-7 .7 .7 .7 .7 .7-.3 .7-6.7 .7 3.3 .8 0 .7-5.9 .7 1.8 .7-2.6 .7 1.7 .7-2.8 .8 1 .7-4.3 .7 1.7 .7-4.2 .7 1.3 .7-.6 .8-3.7 .7-3.5 .7 4.8 .7-5.4 .7 2.1 .7-3.4 .8-1 .7-3.9 .7-1.9 .7-2.5 .7 3.5 .7-.6 .8-4 .7 .7 .7 3.3 .7-1 .7-4.8 .7-2.4 .8-.9 .7-3.4 .7 .3 .7-2.6 .7-.2 .7-3.6 .8-.7 .7-4.8 .7 7.8 .7 1.2 .7-5.4 .7-5.6 .8 5 .7-.4 .7-4.9 .7 1.9 .7-1.2 .7-.7 .8-7 .7 1.4 .7 .6 .7-6.9 .7 1.3 .8 1.5 .7-3.9 .7-2.6 .7-1.2 .7 4.8 .7-9.5 .8 2.4 .7-2.2 .7 4.1 .7-5.4 .7-2.4 .7 3.3 .8-2.2 .7 1.5 .7-3.9 .7-3.3 .7-.5 .7-.1 .8-2.6 .7-1.9 .7 6.6 .7-2 .7-4.8 .7-3.3 .8-2.5 .7 6.7 .7-6.8 .7 4 .7-4.3 .7-3.8 .8 1.3 .7 3.4 .7-4.8 .7 2.2 .7-2.9 .7-1.1 .8-3.4 .7-2.5 .7 1.2 .7-2.1 .7-8.7 .7 5.1 .8 .7 .7-1.3 .7-2.6 .7-.8 .7-1.8 .7-.5 .8-5.5 .7-1 .7 4.1 .7 .1 .7-4.8 .7 5.8 .8-8.2 .7-5.5 .7 5.9 .7-9.8 .7 5.8 .7-2.3 .8-.2 .7-7.8 .7 5.7 .7 2.6 .7-7.5 .7 .5 .8-1.4 .7 1.3 .7-1.6 .7-.6 .7-3.8 .7 1.6 .8-1.8 .7-2 .7-3.3 .7 2.4 .7-2.3 .7-2 .8-.8 .7-5.1 .7 3.7 .7-4.3 .7-1.3 .7 3.3 .8-8.5 .7 10.2 .7-10.8 .7 .6 .7-.4 .7 4.3 .8-6.8 .7-2.4 .7 .3 .7 4.2 .7-3.9 .7-5.5 .8 .9 .7-1.8 .7-1 .7-1.5 .7 3.7 .7-6.6 .8-.7 .7 3.9 .7-4.3 .7-4.3 .7 7.1 .7-13 .8 4.6 .7-2.3 .7-2.1 .7-.2 .7-5.5 .7 2.3 .8-1.3 .7-2 .7 .1 .7 .4 .7-7.2 .7 7 .8-3.7 .7-1.9 .7-1.1 .7 2.1 .7-3 .7-3.9 .8-.1 .7 2.1 .7-5.9 .7-1.2 .7 5.7 .7-8.2 .8 .5 .7-4.6 .7 6.7 .7-5.1 .7-.4 .7-1.9 .8-2.2 .7 8.9 .7-10.3 .7-.2 .7 .1 .7-5 .8-3.6 .7 5.2 .7-2.1 .7 1 .7-4 .7-5.8 .8 2.5 .7 5.6 .7-10.8 .7 5.2 .7-3.8 .7-9.1 .8 0 .7 3.5 .7 6.2 .7-4.3 .7 .5 .7 3.2 .8-13.7 .7 2.5 .7 4.3 .7-.1 .7-4.2 .7-4.8 .8 1.3 .7-.6 .7-1.8 .7-1 .7 1.3 .7-5.6 .8 4.8 .7-6.9 .7-2.8 .7 .7 .7-1.1 .7-5.9 .8 6.3 .7 .4 .7-7.8 .7 1.2 .7 2.7 .7-5.6 .8-7 .7 3.1 .7 1.8"/>
<path stroke="#48b89a" d="M1357.0 759.2l .7-.8 .7-6 .8 .7 .7 1.6 .7-7.3 .7 6 .7-7.8 .7-2 .8 2.6 .7 6.2 .7-11.2 .7 2.4 .7 2.7 .7-5.2 .8 1.7 .7-11 .7 6.2 .7 .6 .7 3.1 .7-3 .8-3.2 .7-2.5 .7-.4 .7 2 .7-3.3 .7-2.8 .8-2.7 .7 4.5 .7-4.5 .7-.8 .7 .5 .7-1.9 .8-3.9 .7 .4 .7-.1 .7-1.7 .7-2.4 .7-.5 .8-4.1 .7-3 .7 6.2 .7-3.2 .7-3.9 .7 1.7 .8-.6 .7-3.6 .7-7 .7 5.2 .7-6.6 .7 4.4 .8-3.3 .7 1.8 .7-.6 .7 0 .7-6.2 .7 3.2 .8-3.2 .7 1.5 .7-5 .7-1 .7-.5 .7-4 .8 4.8 .7-3.6 .7-1.3 .7-.2 .7-.5 .7-7.9 .8 4.2 .7-1.4 .7-3.6 .7 .6 .7-1.3 .7 3.9 .8-6 .7 3 .7-3 .7-4.7 .7-2.5 .7 2.2 .8-1 .7-8.9 .7 4 .7-3.4 .7-2.9 .7 5 .8-1.6 .7 .9 .7-2.6 .7-.2 .7-2.9 .7-1.5 .8-1.3 .7 .2 .7-1.4 .7-3.1 .7-3.2 .7 2.2 .8-4.3 .7 8 .7-7.6 .7 3.1 .7-4.3 .7-5.4 .8 1.6 .7-5 .7-2.8 .7 2.7 .7-2.6 .7 3.2 .8-4.5 .7-4.9 .7 2 .7-.6 .7-3.6 .7 7.6 .8-.7 .7-5.1 .7-4.5 .7 4.4 .7-6.1 .7 .9 .8-1.1 .7-1.4 .7-.4 .7-5.1 .7 1.2 .7-4.7 .8-.7 .7 5.7 .7-.3 .7-3.2 .7-4.7 .7 1.1 .8 1.2 .7 .1 .7-6.1 .7 6.5 .7-1.5 .7-8.2 .8 .9 .7-1.4 .7-2 .7-2.6 .7 .1 .7-1.8 .8-4.7 .7 3.8 .7-7.5 .7 4.8 .7-5.3 .7 6.6 .8-3.8 .7 .5 .7-4.8 .7-.5 .7 1.4 .7-4.1 .8 2.1 .7-8.5 .7 1.7 .7 2.9 .7-4.6 .7-6.1 .8 2.4 .7-.5 .7-1.2 .7-3.4 .7 .5 .7 .6 .8-6.8 .7 5.2 .7-1.9 .7 5.4 .7-12.5 .7 6.1 .8-1.7 .7-1.3 .7-.3 .7-.8 .7-.4 .7-5.1 .8-2.5 .7 .4 .7-2.4 .7 1.5 .7 .4 .7-3.8 .8-.5 .7-2.4 .7-.6 .7-.5 .7 2.1 .8-11.4 .7 8.2 .7-6.3 .7 1.2 .7 .9 .7-3.2 .8-1.2 .7-2.1 .7-3.8 .7 2.9 .7 .5 .7-4.1 .8 .5 .7-1.3 .7 .8 .7 3.4 .7-10.2 .7 2.1 .8 2.9 .7-3.9 .7-3.9 .7 4 .7-4.8 .7-4.8 .8 1.2 .7 5.5 .7-4.1 .7-3 .7-1.5 .7-6.9 .8 4.9 .7-3.8 .7 5.1 .7-5.2 .7-1 .7 .7 .8-5.5 .7-3.3 .7-.2 .7 3.6 .7-5.2 .7 6.4 .8-10.7 .7 6.4 .7-4.7 .7-2.9 .7 3.5 .7-2.1 .8-5.6 .7-3.4 .7 1.8 .7 2.3 .7-3.6 .7 .9 .8-2.7 .7-5 .7-1.2 .7 5.7 .7-7.3 .7-3.1 .8 5.7 .7-5.1 .7 5.5 .7-5.5 .7-5.6 .7 6.4 .8-.5 .7-3.4 .7-2.5 .7 1.2 .7-.5 .7-7.6 .8-.9 .7 1.7 .7 1.2 .7-1 .7-4.7 .7-8.3 .8 5.4 .7-3.4 .7-1.1 .7 1.3 .7 0 .7-5.2 .8-1.4 .7 .4 .7 1.9 .7-.6 .7-3.2 .7 0 .8-2.6 .7-.4 .7 1 .7-4.7 .7 3.2 .7-3.6 .8-1.6 .7-5.6 .7 3.9 .7-1.4 .7-3.7 .7-1 .8 1.5 .7-4.8 .7 2.2 .7-2.6 .7 1.3 .7-8.7 .8 8 .7-5.2 .7 1.5 .7 .3 .7-7 .7 1.5 .8 .3 .7-4.4 .7 3.9 .7-8.1 .7-.8 .7 3.5 .8-2.1 .7-3.2 .7-.2 .7 6.4 .7-7.9 .7-.7 .8-2.9 .7 3.1 .7-4.9 .7-2 .7 .4 .7-4.5 .8-.1 .7 1.8 .7-1 .7-6.9 .7 3.8 .7-.8 .8 .4 .7 .8 .7-7.5 .7-1.4 .7 .5 .7 .2 .8-.3 .7-.4 .7-6.5 .7 1.2 .7-1.8 .7-4.9 .8 5.1 .7-4.1 .7 .5 .7-2.3 .7-3.3 .7-.1 .8-.8 .7-6.6 .7 13.5 .7-10.1 .7 6.2 .7-7.9 .8 1.8 .7-.4 .7-.1 .7-3.1 .7-2.1 .7 1.7 .8-3.4 .7-3.9 .7-.3 .7-1.5 .7 .7 .7-3.3 .8-1 .7 3.1 .7-2.7 .7-1.3 .7-1.7 .7 .5 .8-3.7 .7-4.1 .7 2.2 .7-3.6 .7-2.1 .8-5.2 .7 6.8 .7-7.4 .7-1.3 .7 8.2 .7-6.4 .8 .4 .7 3 .7-8.4 .7 2.3 .7-4.2 .7-2.9 .8 2.7 .7-3.8 .7 .2 .7 .2 .7 2.6 .7-7.5 .8-3.2 .7 3.8 .7-5.7 .7 1.4 .7 3.9 .7-3.5 .8 1.4 .7-2.6 .7-1.8 .7 1.8 .7-4.9 .7 1.3 .8-3.9 .7-1.8 .7 .4 .7 .2 .7-3.2 .7 1.7 .8-5.9 .7-2.6 .7 4.4 .7-7.7 .7 4.9 .7 1.3 .8-2.6 .7 1 .7-9.2 .7 1 .7 2.6 .7-5.8 .8-4.6 .7 3.5 .7-3.1 .7 2.1 .7-1.3 .7-5 .8 2.3 .7 1.7 .7 .7 .7-11.6 .7 5.1 .7 1.3 .8 .3 .7-4.5 .7 1.9 .7-9.1 .7 4.8 .7-5.9 .8 5.1 .7-1.7 .7-5.1 .7 3 .7-1.5 .7-3.9 .8 1.1 .7-5.6 .7 3.3 .7-.6 .7-2.8 .7 .2 .8-4.3 .7 .5 .7-4.5 .7 .1 .7 .7 .7-.7 .8-6 .7 2.7 .7-1.4 .7-3.3 .7-2.6 .7 2.2 .8-3.4 .7-.2 .7-3.2 .7 1.3 .7-1.7 .7-2.8 .8-3.8 .7 3.2 .7-1.6 .7 .5 .7-1.4 .7-1.5 .8-2.9 .7 3.5 .7-3.6 .7-.9 .7-5.9 .7 2.8 .8-5.6 .7 2.1 .7 1.2 .7-3.8 .7-1.4 .7-2.4 .8 .4 .7-1.7 .7-1.7 .7-1.5 .7-3.6 .7 2.6 .8-5.5 .7 6.2 .7-1.7 .7-2.3 .7 4.5 .7-6.2 .8 0 .7 .9 .7-8.1 .7 2.7 .7 1.8 .7-7.3 .8 4.6 .7-2.4 .7 1.7 .7-3.8 .7 .3 .7 2.1 .8-3.3 .7-2.3 .7-1.8 .7-3 .7-3.8 .7 5.2 .8-5.9 .7-2.6 .7 4.3 .7-7 .7 2.1 .7-3.1 .8 1.7 .7 3.5 .7-6.1 .7-1.7 .7-1.3 .7 4.7 .8-1.6 .7-1.4 .7-3 .7-2.2 .7-4.9 .7 3.5 .8-3.6 .7 2.4 .7-5.6 .7 .3 .7-4.7 .7 .8 .8-3.7 .7-2.5 .7 4 .7-2.6 .7 0 .7-5.9 .8 7.3 .7-8.2 .7 2.7 .7-2.9 .7 0 .7-.6 .8-4.1 .7 .7 .7-1 .7-.6 .7-4.5 .7 2.4 .8-3 .7 3.2 .7-3.3"/>
<path stroke="#3ee83a" d="M1357.0 719.4l .7-5.6 .6-.3 .7-2.2 .7 1.9 .6 2.2 .7-3.7 .7-1.2 .6 3.3 .7-4.3 .7-4.3 .7 4.6 .6-8 .7 4.7 .7-2.1 .6-1.6 .7 .1 .7 2.6 .6-4.2 .7-4.2 .7-2.8 .6 1.9 .7-2.3 .7 2.8 .6-.8 .7 1.1 .7-2.1 .6-7.6 .7 4.9 .7-4.2 .7 1 .6-1.6 .7 3.3 .7-3.5 .6-3.7 .7 .6 .7-1.9 .6-1.6 .7-.6 .7 4.3 .6-3.9 .7-1.5 .7 .2 .6-2.7 .7 2.4 .7-1 .6-.2 .7-7.1 .7 4.8 .7-5.4 .6 .4 .7 .2 .7-2.3 .6-1.1 .7-1.4 .7-1.7 .6 .6 .7-2.3 .7-3.3 .6 0 .7 3.6 .7-.1 .6-4.3 .7 1.4 .7-1.8 .6 1.7 .7-.5 .7-6.9 .7 1.3 .6-2.2 .7 1.2 .7-2.5 .6 .6 .7-3.2 .7 3.1 .6-3.4 .7-1.5 .7-1.6 .6 1.2 .7-.8 .7-.4 .6-3.4 .7-3.3 .7-1.2 .6 .2 .7 1.1 .7-3.4 .7 4 .6 2.6 .7-6.8 .7 .9 .6 2.4 .7-4.5 .7-2.8 .6 .2 .7 1.8 .7-3.6 .6-1.4 .7-2.1 .7 1.9 .6-1 .7-6.3 .7 4.9 .6-3.1 .7-3.8 .7 .3 .7 .4 .6 1.4 .7-4.6 .7 .4 .6-.3 .7-3.1 .7 1.6 .6-3.7 .7 .2 .7-1.9 .6 4 .7-7.5 .7 3.2 .6-1.7 .7 1.6 .7-.6 .6-6.6 .7 1.6 .7 .6 .7-1.8 .6-2.2 .7 2 .7-2.4 .6-2.1 .7-.9 .7-1.3 .6-2.9 .7 3 .7-2.6 .6-.1 .7-2.5 .7 .4 .6-3.2 .7 2.5 .7-2.5 .6-2.6 .7 2.3 .7-.8 .7-5 .6 .6 .7-1.2 .7 .2 .6 1.7 .7-6 .7 .3 .6 2.8 .7-2.7 .7-2.1 .6-3 .7 4.9 .7-5.5 .6 .3 .7-3.3 .7 .7 .6-2.7 .7-2.7 .7 2.9 .7-4.2 .6 3.1 .7-1.6 .7-1.7 .6 1.9 .7-5.4 .7 1.8 .6-3.1 .7-.7 .7-1.3 .6-.9 .7 1.5 .7-2.1 .6-2.8 .7 3 .7-3.7 .6-1.6 .7-.3 .7 .6 .7-.3 .6-.8 .7-.4 .7-2.2 .6-.3 .7-.7 .7 .7 .6-4 .7-1.8 .7 .5 .6-3.4 .7 1.9 .7-4.1 .6 1.4 .7-2.5 .7 2.8 .6-2.2 .7-.6 .7-1.3 .7-3 .6 .2 .7 4.2 .7-8.5 .6 .9 .7 1.1 .7-1.3 .6 1.1 .7-4.9 .7-2.8 .6 2 .7 .1 .7 1.1 .6-1.5 .7-.8 .7-.8 .6-3.2 .7 .5 .7 .3 .7-.4 .6-.5 .7-4.9 .7-.7 .6-.8 .7-.1 .7-6 .6 1.2 .7-.1 .7 1.2 .6-5.5 .7 .1 .7-1.9 .6 1.2 .7-3.5 .7-.1 .6 .7 .7-3.2 .7 .6 .7-2.3 .6-2.2 .7 2.9 .7 .8 .6-2.4 .7-1.8 .7-.1 .6-6.2 .7 3.4 .7-4.2 .6 1.1 .7-1.4 .7-.3 .6-1 .7-2.5 .7 1.3 .6 1.2 .7-3.2 .7-2.5 .7-.5 .6-2.8 .7 1.1 .7-1.6 .6 3.7 .7-7.4 .7 3.3 .6-.3 .7-4.7 .7-.7 .6-3.4 .7 2.4 .7-5.9 .6 3.1 .7-3.3 .7 2 .6-.5 .7-6.2 .7 5.2 .7-4.4 .6 .2 .7-.3 .7-3 .6-.7 .7 1.4 .7-3.1 .6 .7 .7-1 .7 1.2 .6-5.7 .7 1.2 .7 1.6 .6-5 .7 2.4 .7-1 .6-7.6 .7 3.3 .7 1.1 .7-1.3 .6-.5 .7-1.6 .7-9 .6 7.6 .7-3.7 .7-1.6 .6 .7 .7 6.5 .7-5.5 .6-1.1 .7-1.7 .7-2.5 .6-2.8 .7 3.1 .7-1.5 .6-3.4 .7-3.8 .7 4.6 .7-.3 .6-4.7 .7 .6 .7 2.8 .6-2.9 .7-1.6 .7-1.5 .6 2.5 .7-3.6 .7-1.5 .6-.9 .7 .1 .7 2.5 .6-.3 .7-3.9 .7-3.4 .6 1.6 .7 1.1 .7-3.8 .7-3.3 .6 3.8 .7-5.5 .7 1 .6-5.6 .7 4.5 .7 3.1 .6-4.3 .7-1.7 .7-3.9 .6 6.1 .7-6.5 .7 .1 .6 1.3 .7-2.6 .7-1.4 .6-.4 .7-.2 .7-2.6 .7 .2 .6-3.9 .7 4.6 .7-6.9 .6 1.5 .7 0 .7-1.8 .6-3 .7-1.1 .7 1.1 .6-.2 .7 1.7 .7 1.5 .6-4.2 .7-2.6 .7-1.4 .6-2.1 .7 3.2 .7-5.9 .7-2.2 .6 1 .7-3.1 .7 4 .6-5.7 .7-4.4 .7 4.5 .6 3.6 .7-4.8 .7-3.4 .6 1.7 .7 .6 .7-2.6 .6-3.5 .7 .2 .7 3.6 .6-6.8 .7-.8 .7 2.2 .7-3.2 .6-2.9 .7 5.7 .7-3.4 .6-7.1 .7 1.7 .7 .5 .6 .4 .7-3 .7-.9 .6-2 .7-.6 .7 1.7 .6-2.9 .7 6 .7-6.3 .6-6.7 .7 2.1 .7 2.3 .7 .6 .6-6.4 .7 3.6 .7-4.4 .6-3 .7 3.8 .7-2.9 .6-.2 .7-2.2 .7 .2 .6 .6 .7-1.5 .7-3.8 .6 .7 .7 3.8 .7-5.3 .6-2.2 .7-1.1 .7-1.3 .7-6.4 .6 5 .7 .8 .7-3.4 .6-1.4 .7 1.2 .7-3.4 .6 1.9 .7-2.2 .7-2 .6 1.8 .7-1 .7-3.6 .6-1.3 .7 .9 .7-.7 .6-.5 .7-3.4 .7-.8 .7-.2 .6 2.3 .7-4.4 .7 2.3 .6-.9 .7-1.9 .7-.4 .6-3.4 .7 .5 .7-5.2 .6 3.9 .7-1 .7-2.5 .6-.9 .7 .5 .7-.7 .6 1.4 .7-.3 .7-1.8 .7-4 .6 2.2 .7-2.2 .7-5.4 .6 .7 .7 .7 .7-3 .6-.8 .7 4.9 .7-7 .6 1.4 .7-3.5 .7 1.7 .6-1.4 .7-1.5 .7-.8 .6-2.7 .7 0 .7 3.1 .7-6.8 .6 3.6 .7-2.1 .7 1.3 .6-3 .7-1.1 .7 2.1 .6-7.8 .7 1.8 .7 .3 .6-1.2 .7 1 .7-6.2 .6 1.3 .7-1.2 .7-.7 .6 2 .7-.4 .7-4.3 .7-.1 .6 1.1 .7-2.1 .7-.2 .6-1.2 .7 0 .7-3.5 .6-5.1 .7 4.2 .7-.2 .6-.7 .7-2.8 .7-2.8 .6 2.1 .7-4.5 .7 2.5 .6-2 .7-1.1 .7 1.7 .7-4 .6 2.8 .7 .7 .7-3.3 .6-3.9 .7 2 .7-4 .6 2.3 .7-3.8 .7 .8 .6-4 .7-5.4 .7 .8 .6 3.6 .7-1 .7-4.5 .6-6 .7 2.5 .7 .8 .7-.8 .6-.8 .7-.8 .7-1.7 .6-3.4 .7 2.9 .7-3.2 .6 3.8 .7-1.5 .7-1.4 .6-1 .7-2.2 .7 .1 .6 .6 .7-4.5 .7 .3 .6-1.1 .7-4.1 .7 1.7 .7-4.4 .6 3.4 .7-3.1 .7-.7 .6-1.1 .7 1.1 .7-3.3 .6 1.2 .7 .6 .7-2.1 .6-1.3 .7 .4 .7-6.1 .6 3.4 .7-2.1 .7-6.7 .6 3.9 .7-3.3 .7 2.3 .7-1.7 .6-4.1 .7 2.6 .7-3.6 .6 .5 .7-2.1 .7 2 .6 1.1 .7-4 .7-.9 .6-1.1 .7-1.4 .7 .8 .6-3.8 .7 1.9 .7-.4 .6-5.1 .7-1.3 .7 2.1 .7-3 .6-1.3 .7-.4 .7-2 .6 .6 .7-.6 .7-.7 .6-2.4 .7-.2"/>
<path stroke="#80f030" d="M1357.0 670.5l .7-2.3 .6 4.5 .7-4.9 .7 .2 .6-1.9 .7-.5 .7-3.3 .6 2.3 .7-.3 .7-3.4 .7 1.8 .6-1.5 .7-1.9 .7-2 .6 .5 .7 .2 .7 1.2 .6-5.3 .7 .7 .7 0 .6-3.5 .7 .8 .7 1.4 .6-1.1 .7-.5 .7-3.3 .6 1.4 .7-.8 .7-.9 .7-1.4 .6 .5 .7-3.5 .7 1.7 .6-2.5 .7-.8 .7-1.5 .6-.3 .7-2 .7-1.4 .6-2.7 .7 2.8 .7-1.6 .6 .1 .7-1.8 .7 1.5 .6-2 .7 .1 .7 2.8 .7-4.8 .6-2.2 .7-1.4 .7 3.2 .6-3.3 .7-1.6 .7-2.1 .6 .5 .7-2 .7 2.5 .6-.8 .7-3.2 .7 1.2 .6 1.3 .7-2.4 .7 3.7 .6-5.1 .7 .5 .7-2.1 .7-4.7 .6 .5 .7 3.6 .7-.5 .6-.1 .7-1 .7-1.3 .6-1.8 .7-.9 .7 .1 .6-2.2 .7-2.5 .7-.8 .6-1.1 .7 2.5 .7-1.2 .6-4.6 .7 4.5 .7-1.2 .7-4.9 .6 1.4 .7-.4 .7-1.1 .6-.6 .7-2.5 .7 .2 .6-5.4 .7 3.6 .7-.7 .6-1.5 .7 1.5 .7-.8 .6-5 .7 3.7 .7-5.7 .6 1.5 .7-1.5 .7 .1 .7-.1 .6-3.6 .7 3.3 .7-5.1 .6 1.5 .7 .2 .7-1.4 .6-1.2 .7-1.3 .7-1.7 .6-1 .7-1.1 .7-2.1 .6-.1 .7 .5 .7 2.1 .6-3.9 .7 .3 .7-7.5 .7 3.8 .6-.1 .7 1.5 .7-2.6 .6-2 .7 .4 .7 1.9 .6-1.9 .7-4.8 .7 2.1 .6-1.2 .7-2.6 .7 2.1 .6 1.1 .7-2.7 .7-2.2 .6-.5 .7-1.1 .7-.4 .7-1.9 .6 3.6 .7-3.3 .7 1.2 .6-6.4 .7 1.8 .7 2.3 .6-1.8 .7-3.9 .7-1 .6 .5 .7-.3 .7-1.4 .6 .5 .7-.8 .7-1.1 .6-2.3 .7 2.1 .7-3.5 .7-.4 .6 .1 .7 .6 .7-1.5 .6 1.2 .7-5.6 .7-3.1 .6 3.4 .7 .7 .7-3.1 .6 1.6 .7 .1 .7-3.5 .6 2.2 .7-2.3 .7-3.2 .6 3.1 .7 .1 .7-3.1 .7-.3 .6-.6 .7-.2 .7-3.4 .6-.4 .7 1.1 .7-1.5 .6 1.2 .7-1 .7-1.9 .6-5.7 .7 2.7 .7-2.5 .6-.1 .7-2 .7-.8 .6 3.2 .7-3.5 .7-.6 .7 1.5 .6-2.2 .7 1.4 .7-4.1 .6-.4 .7-1 .7 .8 .6 .3 .7-.6 .7 .9 .6-1.9 .7-3.8 .7-.7 .6 .3 .7-.2 .7-1.6 .6-.6 .7 .9 .7 .3 .7-3.6 .6 1.3 .7-4.1 .7-.9 .6 .5 .7 0 .7-.9 .6 1.4 .7-3.1 .7-4.5 .6 3.8 .7-1.3 .7-1.2 .6-1.4 .7-4.2 .7-1.2 .6 4.2 .7-1.4 .7-4.4 .7 1.1 .6-1.5 .7 2.1 .7-5.7 .6 4.1 .7-2.8 .7-.1 .6-.4 .7-2 .7 .7 .6-4.5 .7 2.7 .7-.9 .6 .1 .7-2.3 .7 2.4 .6-2.6 .7-.6 .7-2 .7-.3 .6-1.9 .7 2.5 .7-7.2 .6 4 .7-2.4 .7-.9 .6-2.9 .7 .3 .7 1.8 .6-.4 .7-1.7 .7-1.4 .6 1.2 .7-6.6 .7 2.7 .6-2.1 .7-1.5 .7-3.9 .7 .8 .6 5.5 .7-7.9 .7 8 .6-5.8 .7 .8 .7-.9 .6-3 .7-.3 .7 .2 .6-1.2 .7-2.9 .7 .1 .6-.9 .7-.6 .7-.6 .6 .4 .7-5 .7 1.9 .7 0 .6 .9 .7 1.2 .7-5.7 .6-2.7 .7 2.8 .7 1.3 .6-3.5 .7 1.1 .7-2.2 .6 1.5 .7-3.9 .7-.7 .6-.1 .7 0 .7-1.1 .6 .9 .7-3.1 .7-2.8 .7 2.9 .6-1.9 .7 .2 .7 .2 .6-1.9 .7 1.3 .7-1.5 .6-1.8 .7-.7 .7-2.9 .6 .2 .7-.8 .7-.6 .6-1 .7-.3 .7 0 .6-2.4 .7 .6 .7 3.9 .7-6.5 .6-.7 .7 1.6 .7-4 .6-2.5 .7 1.9 .7-3.4 .6 1.1 .7-.6 .7 .6 .6-3.1 .7 1.6 .7-.2 .6-1.5 .7 2.9 .7-3.9 .6-1.1 .7 .6 .7-2.7 .7 2.8 .6-2.5 .7-4 .7-.1 .6 .5 .7 .2 .7 .4 .6-6.2 .7 .1 .7-.5 .6-.6 .7-2.4 .7-1.3 .6 .7 .7 .5 .7 .4 .6-2.9 .7-3.2 .7 4.9 .7-2.7 .6-1.1 .7-.3 .7 .1 .6-4.3 .7-1.4 .7 .2 .6 2.4 .7-.4 .7-3.2 .6-2 .7-.2 .7 1.3 .6-.9 .7-2.7 .7-.4 .6 .3 .7-.3 .7-5.5 .7 1.8 .6 0 .7-2.9 .7 .4 .6-.5 .7-3.2 .7 3.7 .6-1.3 .7-2.9 .7 .4 .6-.2 .7-2.3 .7 .7 .6 2.7 .7-7.7 .7 1.9 .6-.4 .7 1.6 .7-2.8 .7 .2 .6 .6 .7-2.5 .7-2 .6 .2 .7-.7 .7-.4 .6-2.3 .7-2.5 .7-1.4 .6 1.5 .7 0 .7-3.4 .6-1.1 .7 3.9 .7-2.8 .6 1.7 .7-3.3 .7-.4 .7-2.5 .6 3 .7-4.1 .7 .9 .6-2 .7 .9 .7-2.3 .6-.7 .7-2.2 .7 1.2 .6-1 .7-1.3 .7 4.9 .6-9.1 .7 1.2 .7-1 .6-.8 .7-.9 .7 1.5 .7-1.6 .6-2 .7 2.2 .7-5.7 .6 2.6 .7 .1 .7-2.4 .6 .6 .7-.5 .7-1.1 .6-6 .7 1.7 .7-3.3 .6 2.3 .7 1.6 .7-2.1 .6-2.9 .7 2.1 .7-2.8 .7 1.2 .6-1.4 .7-2.2 .7-2.6 .6 1.2 .7-1.1 .7 0 .6 1.1 .7-2.7 .7 3.3 .6-4.8 .7 3.1 .7-5.1 .6 3.6 .7-5.8 .7-1.2 .6 2.6 .7-2.8 .7-1.5 .7-2.2 .6 0 .7-4.7 .7 3.6 .6-3.3 .7 3.8 .7-2.8 .6-.8 .7-.3 .7-1.9 .6-1.3 .7 .5 .7-2.2 .6-1 .7-2.7 .7 .8 .6 1.8 .7-4 .7 1.8 .7-3.1 .6-.9 .7 1.5 .7-7.3 .6-1 .7 2.8 .7 1.2 .6-4.2 .7 2 .7-.4 .6 2.3 .7-5.2 .7 .9 .6-.8 .7-.6 .7-2.8 .6 3.1 .7-3.6 .7-.6 .7 1.3 .6-2.7 .7-1 .7-1.2 .6-.9 .7 .9 .7-4 .6-2.3 .7 5.8 .7-5.4 .6 2.5 .7-3.6 .7-1.5 .6 4.2 .7-6.3 .7-.4 .6 4.1 .7-4 .7 1.9 .7-4.1 .6 5.2 .7-5.5 .7 3.4 .6-4.5 .7-3 .7 2 .6-3 .7-1.9 .7 1.1 .6 .4 .7-.3 .7-1.4 .6 0 .7-2.3 .7-.2 .6 .8 .7-3.5 .7-.1 .7-1.5 .6 2.2 .7-1.8 .7-8.8 .6 6.4 .7 2.4 .7-4.3 .6 .7 .7 3.7 .7-4.2 .6 .8 .7-5 .7-1.3 .6-1 .7-1.6 .7-.3 .6 .7 .7 3.4 .7-3.3 .7-3.5 .6 1.3 .7-2.2 .7-1.9 .6-4.7 .7 .7 .7 5.4 .6 .4 .7 1.1 .7-2 .6-7.1 .7 4.6 .7-.7 .6-.6 .7-6.4 .7 .2 .6 2 .7-.1 .7-3.4 .7 4.4 .6-6.7 .7-3.7 .7 6.2 .6 .9 .7-5 .7-.2 .6-4.8 .7 6"/>
<path stroke="#d0e830" d="M1357.0 635.3l .7-3.7 .6 .6 .7-1.5 .7 1.9 .6-2.6 .7-1.7 .7-1.1 .6 .1 .7-1.4 .7 .7 .7-.2 .6-3.9 .7-1.2 .7 .5 .6-.7 .7-1.5 .7 1.4 .6-3.6 .7 .3 .7-1.1 .6 1.5 .7-3 .7-3.2 .6 5.2 .7-2.7 .7 1.4 .6-1.5 .7-3.5 .7 1.6 .7-2.5 .6-1.4 .7 3.3 .7-4.5 .6 .4 .7-1.7 .7 1 .6 0 .7-2.6 .7 1.4 .6 2.2 .7-2.8 .7-1.6 .6-.6 .7-2 .7-1.1 .6 .6 .7-.1 .7-.2 .7-3.1 .6 .4 .7-.1 .7-.8 .6-1.2 .7 1.4 .7-3.3 .6 1.6 .7-.1 .7-4.2 .6 .9 .7 .6 .7-4.9 .6 2.7 .7-4.5 .7-.2 .6 1.8 .7 1.4 .7-2 .7-1 .6-1.9 .7 .5 .7-.6 .6-1 .7 .9 .7-2.5 .6 .8 .7-1.2 .7-1.6 .6-3.7 .7 3.2 .7-.6 .6-2.1 .7-1.7 .7-.8 .6-1.4 .7 2.1 .7 2.9 .7-4.2 .6-.7 .7 1.3 .7-.5 .6-3 .7 1.3 .7-1.7 .6-2.3 .7 4.7 .7-3.4 .6 0 .7-.7 .7-1.4 .6 .1 .7-1.1 .7-.4 .6-.6 .7 .5 .7-1.5 .7-6.7 .6 10 .7-4.1 .7-.8 .6-.6 .7-2.8 .7-1.5 .6 .2 .7-1.4 .7 3.1 .6-3.8 .7 1.4 .7-2.4 .6 .3 .7-1.7 .7 .6 .6 .1 .7-1.6 .7-1.2 .7 .7 .6-6.2 .7 4.3 .7-1 .6-1 .7-.2 .7 2.4 .6-2.8 .7-1.2 .7-2.3 .6 1.8 .7-1 .7-.9 .6-2.7 .7 1.3 .7-1.4 .6 3.4 .7-4.7 .7 0 .7 .6 .6-1.3 .7-.7 .7-1 .6 .1 .7-5.4 .7 3.2 .6-.2 .7-.7 .7-1.5 .6-.2 .7 1.1 .7-2.8 .6 1.2 .7-5.1 .7 3.5 .6-5.1 .7 2.3 .7-3.5 .7-1 .6 3.2 .7-1 .7-.5 .6-4 .7 .7 .7-1.1 .6 0 .7-2.8 .7 1 .6-1.5 .7 1.3 .7 1.5 .6-2.6 .7 1.2 .7-2.4 .6 0 .7-3.4 .7-.3 .7-.3 .6-.9 .7-.6 .7-1.6 .6 .1 .7 .7 .7-3.8 .6 1.2 .7-.9 .7-.4 .6 1 .7-.9 .7-2.5 .6-1.4 .7 1.7 .7-.5 .6-3.4 .7 1.3 .7-1.9 .7-1.7 .6-.9 .7-2.5 .7 1.7 .6 1.2 .7-4.5 .7 1.8 .6 .7 .7-3.3 .7 2 .6-1 .7-1.6 .7-.5 .6-2.7 .7 2.1 .7 1.2 .6-4.9 .7 1.4 .7-.1 .7 .3 .6-2.5 .7-.6 .7 1.5 .6-3 .7 1 .7-1.7 .6-.3 .7 1.4 .7-1.3 .6-2.2 .7 .2 .7-5.2 .6 1.1 .7-.1 .7 0 .6-1.2 .7-.2 .7 1.8 .7-3.7 .6-1.3 .7 1.8 .7-3.5 .6 .7 .7-1.9 .7 1.7 .6-2.7 .7-1.3 .7 .6 .6-2.4 .7 .8 .7-3.1 .6 5.3 .7-4.8 .7 1.2 .6-1.4 .7-1.4 .7 .1 .7-1.7 .6 .6 .7-1.1 .7-2.8 .6-.1 .7 1.4 .7-2.2 .6 2.8 .7-3.5 .7 .9 .6-1.2 .7-4.9 .7 6.9 .6-6.3 .7 .7 .7-.8 .6 .4 .7-1.5 .7 .8 .7-1.1 .6-1.1 .7-2.4 .7 .1 .6-2.2 .7 2 .7-4.5 .6 7 .7-2.2 .7-2 .6-1.1 .7-3.1 .7-1.9 .6 1.7 .7-1.3 .7 .3 .6-2.1 .7 .9 .7 3.8 .7-5.9 .6 .7 .7-5.3 .7 3.2 .6-1.9 .7-.8 .7-.7 .6 3.1 .7-1.1 .7-1.5 .6-3.5 .7 .7 .7-.4 .6-.7 .7-2.4 .7 1.5 .6 .7 .7-1.4 .7-1 .7-1.1 .6-4.5 .7 3 .7 1.6 .6-3.3 .7-2 .7 2.3 .6-1.2 .7 2.4 .7-5.9 .6 .6 .7-4 .7 1.6 .6-.5 .7-.4 .7 0 .6-2.2 .7 .8 .7-.6 .7 .4 .6-1.9 .7 .4 .7-1.1 .6-3.7 .7 3.1 .7-2.4 .6-1.4 .7-.2 .7-.4 .6-3.9 .7-1.2 .7-.9 .6 1.6 .7 1 .7 1.4 .6 0 .7-2.8 .7 .1 .7-2.2 .6 .9 .7 0 .7-3.5 .6 2.2 .7-1 .7-6.1 .6 4.7 .7-3.5 .7-1.3 .6 2.4 .7-.5 .7-3.2 .6-1.3 .7-.5 .7 2.2 .6-.7 .7 1.2 .7 1.5 .7-4.6 .6-.6 .7 2.5 .7-2.8 .6-1.8 .7-1.5 .7 3.7 .6 0 .7-5.1 .7-1.2 .6 1.4 .7-.5 .7-2.2 .6-1.5 .7-.8 .7 .2 .6 .9 .7-2 .7-1.2 .7 .9 .6-.9 .7-.6 .7-.1 .6-2.4 .7-2 .7 1.6 .6-2.5 .7-1.1 .7-.2 .6 1.2 .7-5.1 .7 0 .6 2 .7-3.4 .7 0 .6 2 .7-1.1 .7-.1 .7-5 .6 3.3 .7-4.6 .7 4.5 .6-.8 .7-3.5 .7-2.3 .6-.2 .7 .6 .7-2.6 .6-1.9 .7 2.6 .7-.9 .6-.6 .7-.9 .7-2.1 .6-2.3 .7 4.2 .7-1.7 .7-4.1 .6 2.8 .7-2.2 .7 3.7 .6-4.6 .7-2.2 .7-4.6 .6 4.4 .7-.8 .7-1.4 .6 .8 .7-5.6 .7 3.6 .6-1.9 .7-2.9 .7-.5 .6-1.1 .7 3.8 .7-3.4 .7 2.1 .6-2.5 .7-1.6 .7 .6 .6 1.3 .7 1 .7-2.1 .6-3.8 .7 1 .7-.7 .6 .9 .7-1.9 .7-.9 .6 .2 .7-.6 .7-.2 .6-1.7 .7-1 .7 .7 .7-3.1 .6-1.3 .7 2.2 .7-6.2 .6 1.6 .7 5.2 .7-4.7 .6-1.4 .7-1.8 .7 0 .6 1.3 .7-2.3 .7 1.4 .6 2.7 .7-5.3 .7 1 .6-1.7 .7-1.2 .7 .2 .7 .4 .6-1.6 .7-.9 .7-.1 .6-1.8 .7-1 .7 2.9 .6-2.5 .7-1.4 .7-.8 .6 0 .7-.2 .7 0 .6-4.1 .7-.2 .7-2 .6 5.8 .7-2.9 .7-2.6 .7-2.6 .6 .3 .7-.1 .7 .4 .6-1.7 .7-.1 .7-2.8 .6-.2 .7-.4 .7 2.6 .6-2.1 .7-1.1 .7 1.2 .6-3.4 .7 1 .7-3.6 .6 1.6 .7 .3 .7-.4 .7-3.9 .6 .8 .7 .6 .7 .4 .6-.5 .7 .2 .7-1.5 .6 .6 .7-4 .7 3.1 .6-3.1 .7 4.2 .7-4.5 .6 1.2 .7-9.3 .7 3.4 .6 .5 .7-1.8 .7-.5 .7 .1 .6-.8 .7-2 .7 2.7 .6-2.3 .7 .1 .7-1 .6-.3 .7-1.9 .7-.5 .6-.8 .7-4.3 .7 2.5 .6-.3 .7 .2 .7-3.3 .6 3.2 .7-.8 .7-4.1 .7 3 .6-2.6 .7-2.4 .7 1 .6-2.5 .7 1.6 .7-1.4 .6-1.3 .7-.9 .7 2.1 .6-2.5 .7 1.3 .7-2 .6 .1 .7-1.7 .7 2 .6-2.5 .7-.8 .7 1.8 .7-2.1 .6-5.9 .7 2 .7-1.9 .6 1.7 .7-.9 .7-1.8 .6 1.5 .7-2.1 .7 .3 .6-4.7 .7 2.6 .7-1 .6-.7 .7 .2 .7-1.9 .6-2.9 .7 0 .7 3.9 .7-8.8 .6 3 .7 1.6 .7-.9 .6-1.2 .7-.6 .7 1.2 .6 1.8 .7-4"/>
<path stroke="#e0702a" d="M1357.0 595.7l .7 3.4 .6-2.4 .7 3.6 .7-2.6 .6-2.7 .7 .2 .7 3.5 .6-4 .7-2.8 .7-.1 .7-3.3 .6 3 .7-3.9 .7 1.7 .6 4.5 .7-5.1 .7-.7 .6 0 .7-3.1 .7-.7 .6 1.5 .7-.5 .7 4.4 .6-7.6 .7 3.2 .7-4 .6 2.4 .7-2.2 .7-1.3 .7-2.2 .6 .8 .7 .5 .7-.2 .6-2.2 .7 1.1 .7 0 .6-2.5 .7-1.4 .7 4.3 .6-1.8 .7-2.1 .7-1.2 .6 1.8 .7-2.1 .7-4.6 .6 2.9 .7-2.3 .7-.2 .7-4 .6 5 .7-.3 .7-3.9 .6 4.1 .7-2.7 .7-.4 .6-1.2 .7-.8 .7 .9 .6-.1 .7-4.9 .7-1.9 .6 3.2 .7 .1 .7-1 .6-.2 .7-.4 .7-4.4 .7 8 .6-4.7 .7 .7 .7-1.5 .6-3 .7 1.2 .7-.2 .6-1.2 .7-.8 .7 .8 .6-1.6 .7 1.3 .7-2.4 .6-3.9 .7 3 .7-.2 .6-2 .7-1.2 .7 2 .7-1.3 .6 .4 .7 .1 .7-2.1 .6 .5 .7-.8 .7 .8 .6-2.8 .7-2 .7-.6 .6 3 .7-2 .7 .5 .6-1.4 .7 0 .7 .5 .6-4.6 .7 2.1 .7-.2 .7-2 .6 .7 .7-1.7 .7-2.9 .6 2.1 .7 .3 .7-4 .6-.6 .7 3.6 .7 2 .6-3.1 .7 3.4 .7-5.5 .6 .8 .7 4.4 .7-6.2 .6 3.2 .7-1.4 .7-.5 .7-.2 .6-4.3 .7 3.1 .7-3.8 .6 1.1 .7-.4 .7-4.5 .6 .1 .7 1.5 .7-.7 .6 .5 .7 1.9 .7-3.7 .6-.3 .7-1.7 .7 .2 .6-1.6 .7 .9 .7-.8 .7-1.1 .6-.1 .7-.8 .7-1.1 .6 .8 .7 .1 .7 .2 .6-3 .7 .4 .7-1.9 .6 1.6 .7-2.9 .7 .4 .6-4.2 .7 3.2 .7 2.5 .6-2.8 .7-1 .7-1.6 .7-1.4 .6 2 .7-.4 .7-1.8 .6 1.8 .7-4.9 .7 .6 .6 .7 .7-7.4 .7 3.7 .6 4.7 .7-4.8 .7 2.3 .6-3.5 .7 1.4 .7-2.1 .6-.1 .7-2.4 .7 4.3 .7-3.3 .6-3.9 .7 .9 .7 1.3 .6-2.2 .7 .2 .7-2.8 .6 .9 .7-1.3 .7 2.6 .6-3 .7-1.4 .7-1.4 .6-.5 .7-.1 .7-1.5 .6 .8 .7-1.2 .7 2.5 .7-1.6 .6-2.9 .7 1.2 .7-.1 .6-4 .7 2.5 .7 2.6 .6-2.4 .7 .9 .7-3.9 .6 2.6 .7-1.1 .7-3.5 .6 .7 .7-2.9 .7 1.9 .6 .6 .7-3.4 .7-.6 .7-.1 .6 2.4 .7-2.3 .7-.3 .6-3.2 .7-2.8 .7 2.2 .6-1.9 .7 3.6 .7-.1 .6-2.1 .7-2.7 .7 1.1 .6-1.5 .7-.3 .7 .6 .6-1.4 .7-1.1 .7-.3 .7-1.4 .6 3.5 .7-2.4 .7 2.8 .6-4.3 .7 1.4 .7-1.1 .6-.5 .7-.1 .7-.1 .6-2.1 .7-1.9 .7-2 .6 1.3 .7 .4 .7-2.8 .6 .1 .7-1.5 .7 2.4 .7-1.2 .6 .9 .7-.7 .7 .1 .6-1.3 .7 2.2 .7-5.8 .6-1.3 .7 2 .7-3.1 .6-.2 .7 1.8 .7 2.4 .6-5 .7 1.4 .7-.6 .6-2.8 .7 2.8 .7-4.2 .7-.3 .6 0 .7 4 .7-5.9 .6-1.2 .7 1.7 .7 0 .6-1.4 .7-1 .7 .2 .6-.1 .7-2.4 .7 .2 .6-.5 .7-2.3 .7 1 .6-3.9 .7 1.8 .7-1.4 .7 1.3 .6-1.6 .7-.4 .7-.6 .6-.2 .7-1.5 .7-2 .6 1.7 .7-3.3 .7-.2 .6 5.1 .7-3.3 .7-.5 .6-.6 .7-2.3 .7 3.4 .6-3.4 .7 0 .7-3.6 .7 2.2 .6 4 .7-3.3 .7-4.7 .6 3.8 .7-4.1 .7 7.9 .6-5.4 .7-1.5 .7 .3 .6-1.3 .7 .9 .7-3.3 .6 .7 .7-.5 .7-.8 .6 3.1 .7-2.7 .7-1.9 .7-2.8 .6-1.2 .7 .2 .7 4.2 .6-3.7 .7-.4 .7-1.9 .6 .6 .7 .8 .7 .5 .6-2.3 .7 .6 .7-1.7 .6-5.7 .7 3 .7 2.6 .6-1.9 .7-.9 .7 .8 .7-1.4 .6-.7 .7 .7 .7-1.6 .6-2.8 .7 2.1 .7-5.1 .6 2.5 .7-.9 .7 .3 .6 .8 .7-2.6 .7 1.5 .6-.4 .7-.4 .7-1.1 .6-2.8 .7-.7 .7 2.4 .7-2.6 .6-5.6 .7 4.8 .7-.1 .6-2.6 .7 2.3 .7-1.6 .6-2.2 .7-3.9 .7 8.3 .6-8.8 .7 1.4 .7 .5 .6 2.6 .7-5.2 .7-.4 .6 2.6 .7-.8 .7-.1 .7-2.3 .6 .5 .7-.4 .7-1.2 .6-2.6 .7-.1 .7 3.2 .6-2.9 .7-2.6 .7 2.4 .6-4.5 .7 2.7 .7-1.5 .6-.8 .7 2.2 .7-3.2 .6 1.8 .7-2.5 .7-2.7 .7 1 .6-.3 .7-2.6 .7 3 .6-.4 .7-1.7 .7-1.6 .6 1.1 .7-5.4 .7 .3 .6 3 .7-2.1 .7 .9 .6-1.8 .7-2.3 .7 .3 .6 2 .7 .2 .7-2 .7-1.9 .6 .3 .7-2.3 .7 1.6 .6-.8 .7 1.1 .7-2 .6 .2 .7-3.3 .7 0 .6-.5 .7 1.9 .7-4.5 .6 .2 .7-.2 .7-2.5 .6 3.6 .7 .2 .7-2.7 .7 1.1 .6-2.2 .7-.2 .7 1.8 .6-2.8 .7 2.7 .7-2.3 .6 .5 .7-3.6 .7-.6 .6 1.9 .7-.3 .7-1.7 .6-.5 .7-.7 .7-.3 .6 0 .7-5.2 .7 1.4 .7 .4 .6-.1 .7 .9 .7-1.3 .6 .6 .7-3 .7-2.9 .6-.8 .7 2.8 .7-4.5 .6 3.4 .7 1.6 .7-2.4 .6-1 .7 0 .7-2.9 .6 2 .7 0 .7 1 .7-2.9 .6-.5 .7-.8 .7 2.3 .6-3.7 .7-.3 .7 .6 .6-2.3 .7 2 .7-2.6 .6-1 .7-.8 .7 .8 .6-.7 .7-.7 .7-.7 .6 .2 .7-1.3 .7-.7 .7-2.2 .6-3.1 .7 2.9 .7 2 .6-2.5 .7-1.7 .7 2.3 .6-1.2 .7-.7 .7-7.8 .6 5.5 .7-3.1 .7 .5 .6 1.7 .7-2.5 .7 .7 .6-.3 .7-1.3 .7-.3 .7 .1 .6-2.4 .7 .6 .7 .8 .6-2.5 .7 1.1 .7-2 .6 .9 .7 1.2 .7-4.7 .6 1.5 .7 .2 .7-1.3 .6-1.6 .7-2.3 .7-.2 .6 3.8 .7-2.3 .7 0 .7 .2 .6-3.9 .7 .9 .7 4.1 .6-5.7 .7 .2 .7-2.9 .6 1.1 .7 .7 .7-4.4 .6 1.4 .7-1.2 .7-1.1 .6-2.4 .7 1.2 .7 2.7 .6-4.2 .7-2.5 .7 3.7 .7-1.4 .6-1 .7-4.2 .7 5.8 .6-.1 .7-1 .7-3.4 .6 .1 .7-.3 .7-.6 .6-1.5 .7-.3 .7 0 .6-4 .7 6.7 .7-2.3 .6-3.2 .7 .1 .7-1.5 .7 2 .6 .5 .7-4.7 .7-1.9 .6 1.2 .7 3.8 .7-5.3 .6 1.3 .7-1.1 .7 1.3 .6-1.7 .7-2.5 .7 1.2 .6 .6 .7 1.4 .7-1.6 .6 .7 .7 .6 .7-2.1 .7-3.8 .6-1.1 .7 3.1 .7-4.1 .6-1.5 .7-.2 .7 4 .6-3.7 .7-.6"/>
<path stroke="#e8140a" d="M1357.0 574.4l .7-1.6 .6 0 .7 2.4 .7-1.3 .6-.1 .7-1.4 .7 0 .6-2.5 .7 3 .7 .6 .7-1.6 .6 .5 .7-4 .7 1.2 .6 .7 .7 2.7 .7-2.9 .6-3.1 .7-1.5 .7-.3 .6 2.1 .7-1.9 .7-.7 .6-2.5 .7-.9 .7 1.1 .6-1 .7 1.5 .7-.5 .7-5.3 .6 2.6 .7-.4 .7-1.7 .6-1.8 .7-1.6 .7 1.2 .6 1.5 .7-.6 .7 2.6 .6-4.5 .7-.2 .7-.6 .6-1 .7 1 .7-2.4 .6-1.5 .7 2.4 .7-2.1 .7 .9 .6 .1 .7-2.2 .7-.8 .6-1.8 .7 .8 .7-.4 .6-.2 .7-4.2 .7 4.8 .6-2.3 .7-.2 .7-1.5 .6 .9 .7-2 .7 .1 .6 1 .7-1 .7 3 .7-3.1 .6 1.4 .7-1.4 .7-.4 .6-1.3 .7-.5 .7-2.3 .6 4.4 .7-1.5 .7-.9 .6-3.6 .7-2.6 .7 2.6 .6-1.1 .7 3.3 .7-4.2 .6 1.6 .7-1.4 .7 1.5 .7-.8 .6-.2 .7-2.8 .7-1.5 .6 1.9 .7-4.9 .7 4 .6-3.5 .7-.3 .7 .7 .6-1.4 .7 3.8 .7-3.2 .6 1.4 .7 .5 .7 2.6 .6-3.2 .7-2.6 .7-1 .7 .8 .6-1.2 .7 2.6 .7-1.8 .6-3 .7-.2 .7 1.8 .6-2.3 .7-.8 .7 .8 .6-.6 .7-4.3 .7 4.7 .6-2.4 .7 .7 .7-1 .6-2.2 .7 .6 .7-.3 .7-3 .6 2 .7-6.9 .7 6.6 .6-2.8 .7-1.9 .7 2.1 .6 .9 .7-.6 .7-1.4 .6 1 .7-1.6 .7-1.7 .6 1.7 .7-.8 .7 .6 .6-2.3 .7 3.3 .7-4.6 .7 2.1 .6-3.3 .7-.4 .7 1.5 .6 1 .7-4.3 .7 2.2 .6-3.8 .7 4.4 .7-4 .6 .7 .7-3.8 .7-1.1 .6 3.7 .7-2.9 .7 1.6 .6-1 .7-.1 .7 1.3 .7-.6 .6-2.5 .7-1.2 .7-.3 .6-.9 .7 .5 .7-2.4 .6 2.1 .7-2.9 .7 .8 .6-1.4 .7 5.2 .7-3 .6-3.1 .7 .9 .7 .1 .6-.8 .7-3.4 .7-.6 .7 .4 .6 .1 .7-1.5 .7 2.9 .6-2.9 .7 .6 .7-1.9 .6 .2 .7-1.1 .7-.3 .6-.5 .7 .1 .7 2.4 .6-3.4 .7-.6 .7-2.2 .6 2.6 .7-1.9 .7-1 .7-.5 .6-1.7 .7 .2 .7 3.8 .6-4.5 .7 2 .7-2.3 .6-1.5 .7 0 .7 1.4 .6-1.9 .7-.8 .7 2.6 .6-2.9 .7-.4 .7-3.5 .6 2.1 .7 .8 .7-2.8 .7 1.9 .6-3.8 .7 1.8 .7-.8 .6-.7 .7 2.2 .7-.1 .6-2.9 .7-.2 .7 1.1 .6-2 .7 2.1 .7-3.9 .6 .2 .7-2.4 .7-.8 .6 4.8 .7-4 .7 .7 .7-.8 .6-.8 .7-.4 .7-1 .6-1.8 .7-1.1 .7 3 .6-3.1 .7-3.9 .7 .1 .6 .9 .7-2.9 .7 1.7 .6-1.3 .7 .1 .7 1.1 .6-2.4 .7 1.8 .7 .3 .7-1.1 .6-.4 .7-3 .7 2.8 .6 1 .7-4.3 .7 1.3 .6-.1 .7-2.9 .7-2.4 .6 1.9 .7-1.2 .7 1.1 .6-2 .7 .6 .7-1.6 .6 2.1 .7 .2 .7 .9 .7-3.9 .6 .7 .7-1.1 .7-1.2 .6-.2 .7 .6 .7-1.3 .6-4.4 .7 4.6 .7-2.4 .6 .7 .7 .3 .7-4.8 .6 1.8 .7 .5 .7-3.1 .6-1.5 .7 1.4 .7 1.2 .7-.4 .6 .7 .7-4.3 .7-.7 .6 3.5 .7 .4 .7-2.4 .6-.4 .7 1.3 .7 .7 .6 1 .7-3.4 .7-.1 .6-1 .7-3 .7-3.4 .6 4.9 .7-1.9 .7 2.7 .7-1.1 .6-1.9 .7-1 .7-2.7 .6 6.5 .7-3.9 .7-.2 .6-3.8 .7 2.7 .7-.6 .6-.2 .7-2.3 .7 3.2 .6-5 .7 .3 .7-.9 .6-.8 .7-.6 .7 1.4 .7-1.5 .6-1.7 .7 2.7 .7-1.7 .6-1.5 .7-.9 .7 2.7 .6-2.3 .7 1 .7-2.8 .6 .6 .7-4.4 .7 2.7 .6-2.8 .7 5.5 .7-3.2 .6-1.7 .7-.9 .7-1.4 .7 1.7 .6-2.3 .7-.8 .7 1.8 .6-2.6 .7 3.7 .7-1.6 .6 .8 .7-2 .7-.7 .6-2.2 .7-2 .7 2.7 .6 .7 .7-5.4 .7 4 .6-2.8 .7 2.2 .7-2.1 .7-1.1 .6-.5 .7 .3 .7 0 .6-3.5 .7 3.2 .7-5.8 .6 2.6 .7 .6 .7-1.1 .6 .5 .7-.9 .7-1.1 .6-3.3 .7 3.7 .7-5 .6 3.3 .7 2.9 .7-4.3 .7 0 .6-5.5 .7 1.1 .7 3 .6-4.8 .7 .7 .7 .6 .6-1.4 .7 .3 .7-1.8 .6 2 .7-.5 .7-.3 .6-1.5 .7 .1 .7-1.4 .6-1.2 .7 1.8 .7-1.3 .7-3 .6 1.5 .7 .5 .7 1.5 .6-1.5 .7-.1 .7-2 .6-.8 .7-1 .7-.1 .6-1.1 .7 3.5 .7-6.3 .6 3.4 .7-2.8 .7 2.5 .6-2.1 .7-1.6 .7 2.9 .7-4.2 .6 3.5 .7-2.6 .7-.1 .6-2.3 .7 .6 .7 1.4 .6-.8 .7-4.8 .7 1.6 .6 1.3 .7 1.9 .7-4 .6 2.1 .7-5.5 .7 3.9 .6 .6 .7-2.2 .7-1.2 .7-2.6 .6 .9 .7-2.5 .7 1.4 .6 .4 .7-1.2 .7 1.3 .6-.6 .7-.1 .7-3.5 .6-.3 .7 1.3 .7-2.4 .6 0 .7-.2 .7-1.9 .6 3.4 .7-.2 .7-.7 .7 .3 .6-.1 .7-4.2 .7 1.4 .6 .4 .7 1.7 .7-4.8 .6 2 .7-4.3 .7-1.5 .6 4.1 .7 0 .7-1.3 .6-3.4 .7 .9 .7 1.2 .6-3.1 .7-3 .7-.6 .7 1.4 .6-.1 .7-1.1 .7 1.7 .6 .4 .7 1.7 .7-5.4 .6 1.6 .7-.5 .7-2 .6 0 .7 .1 .7 1.1 .6-.6 .7-.6 .7-1 .6-.2 .7-2.4 .7 .4 .7 3.7 .6-3.3 .7-2.4 .7 .9 .6 1.2 .7-2.1 .7-2.7 .6 .1 .7 2.4 .7-3.9 .6 1.7 .7-2.6 .7 .7 .6-1 .7 2.4 .7 1.1 .6-3.3 .7-3.8 .7 .4 .7-.7 .6 1.5 .7-3.1 .7-1 .6 .8 .7-.5 .7 1.7 .6-1.2 .7-.3 .7-1.3 .6-.9 .7-.1 .7-2.2 .6 3.5 .7-3.8 .7 .5 .6-2.9 .7 1.5 .7 1.5 .7-3.1 .6-3.1 .7 2.5 .7 1 .6-1.3 .7 .1 .7-3.9 .6 3.3 .7-2 .7-.8 .6 .7 .7 1.2 .7-3.5 .6-2.4 .7 3.7 .7-2.7 .6-.9 .7-2.9 .7-.2 .7 2.9 .6-3.5 .7 1.5 .7-1.1 .6 .6 .7 4 .7-5.1 .6 5.4 .7-5.7 .7 4.2 .6-5 .7 .1 .7-2.1 .6 .8 .7-2.7 .7 .6 .6-1.3 .7 .2 .7-.1 .7 .2 .6 .8 .7-4.1 .7 .2 .6 .4 .7 .7 .7-.6 .6 .1 .7-2.1 .7 .5 .6-1.8 .7 .8 .7-2.7 .6-1.5 .7 2.3 .7-1 .6 2.9 .7-4.1 .7 2.1 .7-2.3 .6-.6 .7-.1 .7-1.5 .6 .4 .7 2 .7-4.8 .6 1.9 .7-2.5"/>
</g>
<rect x="1357.00" y="22.75" width="406.40" height="812.75" fill="none" stroke="#000" stroke-width="2"/>
<path d="M1338.50 22.75H1357.00 M1338.50 225.94H1357.00 M1338.50 429.12H1357.00 M1338.50 632.31H1357.00 M1338.50 835.50H1357.00 M1357.00 835.50V854.00 M1458.60 835.50V854.00 M1560.20 835.50V854.00 M1661.80 835.50V854.00 M1763.40 835.50V854.00" stroke="#000" stroke-width="2" fill="none"/>
<text transform="translate(1325.10 31.55) scale(1 1.040)" font-size="28.3" text-anchor="end">0.8</text>
<text transform="translate(1325.10 234.74) scale(1 1.040)" font-size="28.3" text-anchor="end">0.4</text>
<text transform="translate(1325.10 437.93) scale(1 1.040)" font-size="28.3" text-anchor="end">0.0</text>
<text transform="translate(1325.10 641.11) scale(1 1.040)" font-size="28.3" text-anchor="end">−0.4</text>
<text transform="translate(1325.10 844.30) scale(1 1.040)" font-size="28.3" text-anchor="end">−0.8</text>
<text transform="translate(1357.00 889.00) scale(1 1.040)" font-size="28.3" text-anchor="middle">−8</text>
<text transform="translate(1458.60 889.00) scale(1 1.040)" font-size="28.3" text-anchor="middle">−4</text>
<text transform="translate(1560.20 889.00) scale(1 1.040)" font-size="28.3" text-anchor="middle">0</text>
<text transform="translate(1661.80 889.00) scale(1 1.040)" font-size="28.3" text-anchor="middle">4</text>
<text transform="translate(1763.40 889.00) scale(1 1.040)" font-size="28.3" text-anchor="middle">8</text>
<text transform="translate(1514.60 944.0) scale(1.2 1.0)" font-size="28.5" font-style="italic" style="font-family:'Liberation Serif',serif;stroke-width:0">μ</text>
<text transform="translate(1530.20 944.20) scale(1 1.040)" font-size="29.0"><tspan font-size="20" dy="7">0</tspan><tspan font-style="italic" dy="-7">H</tspan> (T)</text>
<text transform="translate(1233.50 23.00) scale(1 1.040)" font-size="29.0" font-weight="bold">c</text>
<text transform="translate(1750.10 819.80) scale(1 1.040)" font-size="29.0" text-anchor="end">P108</text>
<path d="M1381.60 61.80H1446.90" stroke="#7020a8" stroke-width="2.2"/>
<text transform="translate(1454.10 72.00) scale(1 1.040)" font-size="29.0">40K</text>
<path d="M1381.60 97.48H1446.90" stroke="#5030d8" stroke-width="2.2"/>
<text transform="translate(1454.10 107.68) scale(1 1.040)" font-size="29.0">50K</text>
<path d="M1381.60 133.16H1446.90" stroke="#4a88ee" stroke-width="2.2"/>
<text transform="translate(1454.10 143.36) scale(1 1.040)" font-size="29.0">60K</text>
<path d="M1381.60 168.84H1446.90" stroke="#48b89a" stroke-width="2.2"/>
<text transform="translate(1454.10 179.04) scale(1 1.040)" font-size="29.0">80K</text>
<path d="M1381.60 204.52H1446.90" stroke="#3ee83a" stroke-width="2.2"/>
<text transform="translate(1454.10 214.72) scale(1 1.040)" font-size="29.0">100K</text>
<path d="M1381.60 240.20H1446.90" stroke="#80f030" stroke-width="2.2"/>
<text transform="translate(1454.10 250.40) scale(1 1.040)" font-size="29.0">130K</text>
<path d="M1381.60 275.88H1446.90" stroke="#d0e830" stroke-width="2.2"/>
<text transform="translate(1454.10 286.08) scale(1 1.040)" font-size="29.0">160K</text>
<path d="M1381.60 311.56H1446.90" stroke="#e0702a" stroke-width="2.2"/>
<text transform="translate(1454.10 321.76) scale(1 1.040)" font-size="29.0">200K</text>
<path d="M1381.60 347.24H1446.90" stroke="#e8140a" stroke-width="2.2"/>
<text transform="translate(1454.10 357.44) scale(1 1.040)" font-size="29.0">240K</text>
<text transform="translate(27.1 428.6) rotate(-90) scale(1.04 1)" text-anchor="middle" font-size="27.5"><tspan font-style="italic">R</tspan><tspan font-size="19" dy="8">xy</tspan><tspan dy="-8"> (</tspan><tspan font-family="Liberation Serif, serif" font-size="29">Ω</tspan>)</text>
</svg>
</body></html>
